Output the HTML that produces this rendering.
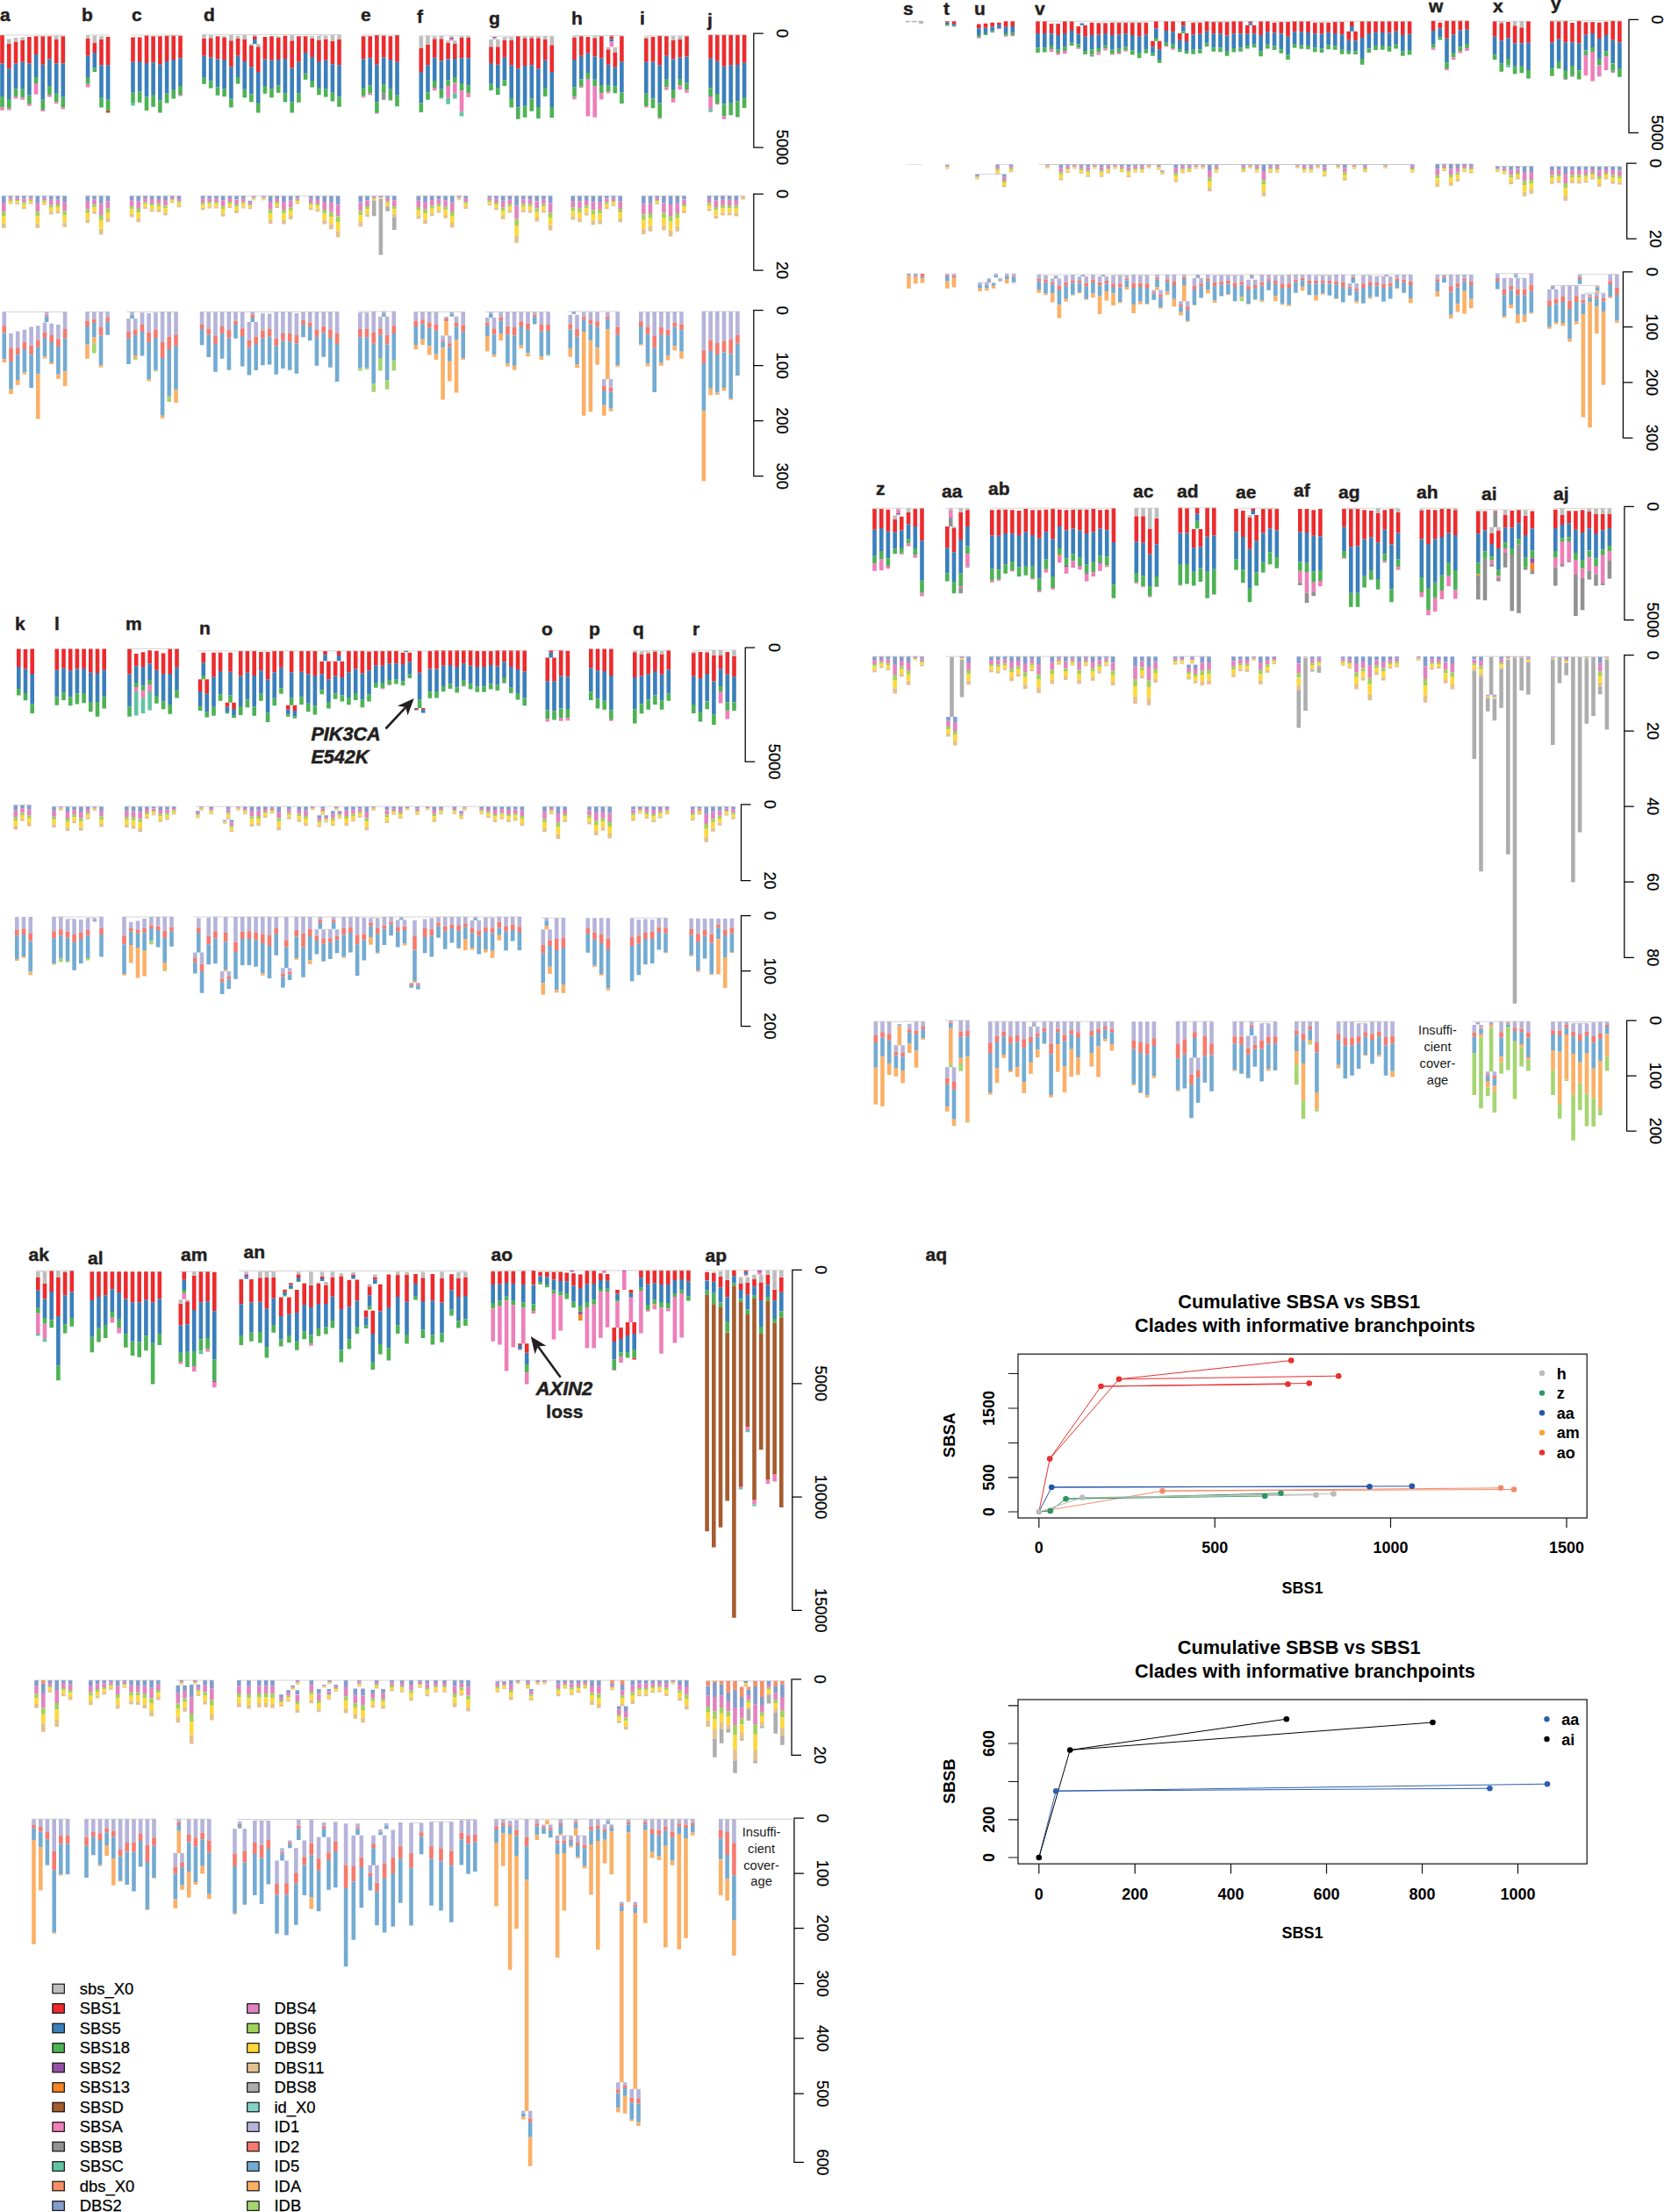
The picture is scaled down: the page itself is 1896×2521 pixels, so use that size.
<!DOCTYPE html>
<html><head><meta charset="utf-8"><title>figure</title>
<style>
html,body{margin:0;padding:0;background:#fff;}
svg{display:block;font-family:"Liberation Sans",sans-serif;}
</style></head><body>
<svg width="1896" height="2521" viewBox="0 0 1896 2521" shape-rendering="auto">
<rect x="0" y="0" width="1896" height="2521" fill="#fff"/>
<path fill="#EC2B2E" d="M0.2 40h4.6v32.5h-4.6zM8 50h4.6v28.2h-4.6zM15.7 47.5h4.6v25h-4.6zM23.4 45.8h4.6v25h-4.6zM31.1 42h4.6v30.5h-4.6zM38.8 41.2h4.6v20.8h-4.6zM46.5 41.2h4.6v32.5h-4.6zM54.1 41.2h4.6v26.2h-4.6zM61.9 45h4.6v27.5h-4.6zM69.5 41.2h4.6v31.2h-4.6zM97.8 43.8h4.6v20h-4.6zM105.5 48.8h4.6v11.2h-4.6zM113.2 45h4.6v29.2h-4.6zM120.8 42h4.6v32.2h-4.6zM149.2 42.5h4.6v28.2h-4.6zM156.9 42.5h4.6v27.5h-4.6zM164.7 40.5h4.6v31.5h-4.6zM172.3 41.2h4.6v30h-4.6zM180.1 41.2h4.6v32.5h-4.6zM187.8 40.8h4.6v29.2h-4.6zM195.4 40.5h4.6v27.5h-4.6zM203.2 40.8h4.6v25.5h-4.6zM230.2 43.8h4.6v20h-4.6zM237.9 43.2h4.6v22.2h-4.6zM245.7 41.2h4.6v26.2h-4.6zM253.3 42.5h4.6v25.5h-4.6zM261.1 46.2h4.6v30h-4.6zM268.8 43.8h4.6v20h-4.6zM276.4 45h4.6v25h-4.6zM284.1 52h4.6v24.2h-4.6zM288 41.2h4.6v3.8h-4.6zM291.9 53.2h4.6v28.8h-4.6zM299.6 42h4.6v25.5h-4.6zM307.2 41.2h4.6v27.5h-4.6zM314.9 43h4.6v25h-4.6zM322.6 40.8h4.6v26.2h-4.6zM330.4 46.2h4.6v31.2h-4.6zM338.1 41.2h4.6v29.5h-4.6zM345.8 41.2h4.6v18.8h-4.6zM353.4 43.8h4.6v21.2h-4.6zM361.1 45.5h4.6v24.5h-4.6zM368.9 44.5h4.6v24.2h-4.6zM376.6 47h4.6v26.2h-4.6zM384.2 45h4.6v29.2h-4.6zM411.8 41.2h4.6v26.2h-4.6zM419.4 41.2h4.6v25h-4.6zM427.1 40h4.6v33.8h-4.6zM434.9 40.5h4.6v25h-4.6zM442.6 41.2h4.6v26.8h-4.6zM450.2 40h4.6v30.8h-4.6zM477.5 55h4.6v27h-4.6zM485.2 50.8h4.6v23.5h-4.6zM492.9 44.2h4.6v21.5h-4.6zM500.6 44.2h4.6v25h-4.6zM508.3 48.8h4.6v18.8h-4.6zM516 50h4.6v17h-4.6zM523.7 43h4.6v23.2h-4.6zM531.4 43h4.6v23.2h-4.6zM557.2 53.2h4.6v18.8h-4.6zM565 53.2h4.6v20.5h-4.6zM572.6 45.8h4.6v20h-4.6zM580.4 45.5h4.6v28.8h-4.6zM588 41.2h4.6v37h-4.6zM595.8 43.2h4.6v31.8h-4.6zM603.5 43.2h4.6v31h-4.6zM611.1 43.2h4.6v35h-4.6zM618.9 45h4.6v23.8h-4.6zM626.5 51.2h4.6v30.8h-4.6zM652.2 43h4.6v25h-4.6zM660 41.2h4.6v22.5h-4.6zM667.6 42h4.6v18.8h-4.6zM675.4 43.2h4.6v21.2h-4.6zM683 41.2h4.6v25h-4.6zM690.8 56.2h4.6v17.5h-4.6zM694.5 41.2h4.6v3.2h-4.6zM698.5 59.5h4.6v17.2h-4.6zM706.1 41.2h4.6v29.2h-4.6zM734 43.8h4.6v27h-4.6zM741.7 42h4.6v28.5h-4.6zM749.4 40.8h4.6v33.5h-4.6zM757.1 41.2h4.6v22.5h-4.6zM764.8 45.8h4.6v21.8h-4.6zM772.5 45h4.6v20.5h-4.6zM780.2 41.2h4.6v23.2h-4.6zM807.3 39.8h4.6v26.9h-4.6zM815 39.8h4.6v30h-4.6zM822.7 39.8h4.6v36h-4.6zM830.4 39.8h4.6v34.5h-4.6zM838.1 39.8h4.6v34.1h-4.6zM845.8 39.8h4.6v31.9h-4.6zM19 739.5h4.6v20.5h-4.6zM26.7 740h4.6v22.5h-4.6zM34.4 739.5h4.6v28.5h-4.6zM62.5 739.5h4.6v24.2h-4.6zM70.2 739.5h4.6v22.2h-4.6zM77.9 739.5h4.6v24.8h-4.6zM85.6 739.5h4.6v23h-4.6zM93.3 739.5h4.6v22.5h-4.6zM101 739.5h4.6v27.2h-4.6zM108.7 739.5h4.6v27.5h-4.6zM116.4 739.5h4.6v24.2h-4.6zM145.2 739.5h4.6v28.8h-4.6zM152.9 745h4.6v14.2h-4.6zM160.7 743.2h4.6v16.8h-4.6zM168.3 741.2h4.6v15h-4.6zM176.1 741.8h4.6v22h-4.6zM183.8 744.5h4.6v23.5h-4.6zM191.4 739.5h4.6v28.5h-4.6zM199.2 739.5h4.6v21.2h-4.6zM225.8 774.2h4.6v13.8h-4.6zM229.5 743.8h4.6v11.8h-4.6zM233.4 774.2h4.6v16.5h-4.6zM241.2 743.8h4.6v28h-4.6zM248.8 743.8h4.6v21.2h-4.6zM256.6 800.8h4.6v5h-4.6zM260.2 743.8h4.6v22h-4.6zM264.2 800.8h4.6v7.2h-4.6zM271.9 742h4.6v28.5h-4.6zM279.6 742h4.6v24.8h-4.6zM287.4 742h4.6v28h-4.6zM295.1 743h4.6v21.2h-4.6zM302.8 743h4.6v31.2h-4.6zM310.4 742h4.6v24.2h-4.6zM318.1 742h4.6v18.8h-4.6zM325.9 803.8h4.6v5h-4.6zM329.8 742h4.6v24.2h-4.6zM333.6 803.8h4.6v6.2h-4.6zM341.2 742h4.6v23.8h-4.6zM348.9 742h4.6v26.2h-4.6zM356.6 742h4.6v28h-4.6zM364.4 753.8h4.6v14.5h-4.6zM368.2 742h4.6v4.2h-4.6zM372.1 753.8h4.6v20.5h-4.6zM379.8 753.8h4.6v16.8h-4.6zM383.8 742h4.6v5h-4.6zM387.5 753.8h4.6v18.2h-4.6zM395.1 742h4.6v24.2h-4.6zM402.9 742h4.6v20.5h-4.6zM410.6 742h4.6v25.5h-4.6zM418.2 742.5h4.6v21.8h-4.6zM426 742h4.6v16.2h-4.6zM433.6 742h4.6v16.8h-4.6zM441.4 742h4.6v14.2h-4.6zM449.1 742h4.6v14.2h-4.6zM456.8 743.8h4.6v13.2h-4.6zM464.5 743.8h4.6v10.5h-4.6zM472.1 807h4.6v1h-4.6zM475.8 742h4.6v24.8h-4.6zM479.9 807h4.6v1.8h-4.6zM487.6 742h4.6v20.5h-4.6zM495.2 741.2h4.6v21.2h-4.6zM502.9 741.2h4.6v17.5h-4.6zM510.7 741.2h4.6v16.8h-4.6zM518.4 741.2h4.6v18.8h-4.6zM526 741.2h4.6v15h-4.6zM533.8 741.2h4.6v17.5h-4.6zM541.5 742h4.6v18h-4.6zM549.2 742h4.6v18h-4.6zM556.9 742h4.6v16h-4.6zM564.5 741.2h4.6v18.2h-4.6zM572.2 741.2h4.6v13.2h-4.6zM580 741.2h4.6v18.8h-4.6zM587.7 741.2h4.6v21.8h-4.6zM595.4 741.2h4.6v24.2h-4.6zM621.5 749.5h4.6v26.8h-4.6zM625.5 741.2h4.6v2.5h-4.6zM629.2 749.5h4.6v27.2h-4.6zM636.9 741.2h4.6v29.2h-4.6zM644.6 742h4.6v29.2h-4.6zM671 739.5h4.6v21.8h-4.6zM678.7 739.5h4.6v24.8h-4.6zM686.4 739.5h4.6v25.5h-4.6zM694.1 739.5h4.6v30.5h-4.6zM721 743.2h4.6v28.8h-4.6zM728.7 745.5h4.6v25h-4.6zM736.4 744.5h4.6v23.8h-4.6zM744.1 742.5h4.6v22.5h-4.6zM751.8 745.5h4.6v23.2h-4.6zM759.5 741.2h4.6v22h-4.6zM788 744.2h4.6v26.5h-4.6zM795.7 742.9h4.6v30h-4.6zM803.4 743.5h4.6v24.6h-4.6zM811.1 746.7h4.6v29.7h-4.6zM818.8 746.9h4.6v15.5h-4.6zM826.5 742.9h4.6v25.9h-4.6zM834.2 747.7h4.6v23.6h-4.6zM1077 24.2h4.6v1.5h-4.6zM1084.7 24.2h4.6v2.8h-4.6zM1113 27.5h4.6v5h-4.6zM1120.7 26.8h4.6v5h-4.6zM1128.4 25.8h4.6v4.8h-4.6zM1136.1 25.8h4.6v2.2h-4.6zM1143.8 24.2h4.6v6.5h-4.6zM1151.5 24.2h4.6v5.8h-4.6zM1180.2 24.2h4.6v13.8h-4.6zM1188 24.2h4.6v13.8h-4.6zM1195.7 27h4.6v11.2h-4.6zM1203.3 27h4.6v13h-4.6zM1211 24.2h4.6v13.8h-4.6zM1218.8 24.2h4.6v10.8h-4.6zM1226.5 30h4.6v8.8h-4.6zM1234.2 28.8h4.6v13h-4.6zM1241.8 25.8h4.6v14.2h-4.6zM1249.5 26.2h4.6v13.2h-4.6zM1257.2 26.2h4.6v11.8h-4.6zM1265 25.8h4.6v14.2h-4.6zM1272.7 25.8h4.6v13.8h-4.6zM1280.3 25.8h4.6v12.5h-4.6zM1288 25.8h4.6v14.2h-4.6zM1295.8 25.8h4.6v16h-4.6zM1303.5 25.8h4.6v13.8h-4.6zM1311.2 46.8h4.6v6.5h-4.6zM1315 24.2h4.6v8.2h-4.6zM1318.8 46.8h4.6v9.5h-4.6zM1326.5 24.2h4.6v10.8h-4.6zM1334.2 24.2h4.6v12h-4.6zM1342 38h4.6v7.8h-4.6zM1346 24.2h4.6v5.2h-4.6zM1349.7 38h4.6v9h-4.6zM1357.3 25.8h4.6v13.8h-4.6zM1365 25.8h4.6v13h-4.6zM1372.8 24.2h4.6v11.5h-4.6zM1380.5 25h4.6v13.2h-4.6zM1388.2 25h4.6v13.2h-4.6zM1395.8 25h4.6v15.5h-4.6zM1403.5 24.2h4.6v14h-4.6zM1411.2 24.2h4.6v14h-4.6zM1419 28.8h4.6v10h-4.6zM1422.5 24.2h4.6v2h-4.6zM1426.7 28.8h4.6v9.5h-4.6zM1434.3 24.2h4.6v15.8h-4.6zM1442 24.2h4.6v12h-4.6zM1449.8 25.8h4.6v11.8h-4.6zM1457.5 25h4.6v13.2h-4.6zM1465.2 25h4.6v16.8h-4.6zM1472.8 24.2h4.6v12h-4.6zM1480.5 24.2h4.6v12h-4.6zM1488.2 24.2h4.6v12.8h-4.6zM1496 25.8h4.6v12.5h-4.6zM1503.7 25.8h4.6v13h-4.6zM1511.3 25.8h4.6v11h-4.6zM1519 25h4.6v13h-4.6zM1526.8 25h4.6v14.5h-4.6zM1534.5 35.8h4.6v10h-4.6zM1538 24.2h4.6v5.8h-4.6zM1542.2 35.8h4.6v10.5h-4.6zM1549.8 24.2h4.6v18.8h-4.6zM1557.5 24.2h4.6v13.8h-4.6zM1565.2 24.2h4.6v12.5h-4.6zM1573 24.2h4.6v12.8h-4.6zM1580.7 24.2h4.6v13.2h-4.6zM1588.3 24.2h4.6v11.5h-4.6zM1596 24.2h4.6v15.8h-4.6zM1603.8 24.2h4.6v14.5h-4.6zM1630.8 23.8h4.6v11.2h-4.6zM1638.5 25.8h4.6v6.8h-4.6zM1646.2 23.8h4.6v20h-4.6zM1653.8 23.8h4.6v15.8h-4.6zM1661.5 23.8h4.6v10.8h-4.6zM1669.2 23.8h4.6v10h-4.6zM1700.8 24.2h4.6v17.5h-4.6zM1708.5 26.2h4.6v20h-4.6zM1716.2 25h4.6v18.2h-4.6zM1723.8 29.2h4.6v20h-4.6zM1731.5 31.2h4.6v18h-4.6zM1739.2 24.2h4.6v24.5h-4.6zM1766.1 24.2h4.6v24.1h-4.6zM1773.8 24.6h4.6v20.2h-4.6zM1781.5 23.9h4.6v24.7h-4.6zM1789.2 26.1h4.6v22.2h-4.6zM1796.9 23.9h4.6v25.3h-4.6zM1804.6 25.3h4.6v14.5h-4.6zM1812.3 25.1h4.6v12.8h-4.6zM1820 25.8h4.6v18.3h-4.6zM1827.7 24.8h4.6v15.3h-4.6zM1835.4 23.9h4.6v21.8h-4.6zM1843.1 24.2h4.6v24.1h-4.6zM994.2 580h4.6v23.8h-4.6zM1002 580h4.6v22h-4.6zM1009.6 580.8h4.6v25h-4.6zM1017.4 592h4.6v14.8h-4.6zM1025 588.8h4.6v15.8h-4.6zM1032.8 583.8h4.6v13.8h-4.6zM1040.5 580h4.6v20h-4.6zM1048.2 579.2h4.6v37h-4.6zM1077 600h4.6v24.2h-4.6zM1084.7 602h4.6v27.2h-4.6zM1092.4 583.8h4.6v31.2h-4.6zM1100.1 581.2h4.6v18.8h-4.6zM1128 581.2h4.6v29.2h-4.6zM1135.7 580.8h4.6v30h-4.6zM1143.4 580.8h4.6v27.2h-4.6zM1151.1 581.2h4.6v27h-4.6zM1158.8 582h4.6v28h-4.6zM1166.5 580h4.6v26.2h-4.6zM1174.2 581.2h4.6v28.8h-4.6zM1181.9 581.2h4.6v32.5h-4.6zM1189.6 580.8h4.6v25.5h-4.6zM1197.3 580h4.6v34.2h-4.6zM1205 580.8h4.6v19.2h-4.6zM1212.7 581.2h4.6v23.2h-4.6zM1220.4 580.8h4.6v21.8h-4.6zM1228.1 580.8h4.6v23.8h-4.6zM1235.8 580.8h4.6v27.2h-4.6zM1243.5 580h4.6v26.2h-4.6zM1251.2 581.2h4.6v21.2h-4.6zM1258.9 580.8h4.6v23.5h-4.6zM1266.6 579.2h4.6v38.8h-4.6zM1292.5 588.2h4.6v29.2h-4.6zM1300.2 588.2h4.6v30.5h-4.6zM1307.9 602.5h4.6v29.2h-4.6zM1315.6 590.8h4.6v29.8h-4.6zM1342.5 578.8h4.6v28.8h-4.6zM1350.2 579.2h4.6v28.2h-4.6zM1357.9 603h4.6v21.2h-4.6zM1361.8 578.8h4.6v6.8h-4.6zM1365.6 603h4.6v20.2h-4.6zM1373.3 578.8h4.6v33h-4.6zM1381 578.8h4.6v31.8h-4.6zM1406.2 580h4.6v26.2h-4.6zM1414 582h4.6v30h-4.6zM1421.7 589.5h4.6v36.2h-4.6zM1425.5 579.2h4.6v2.8h-4.6zM1429.3 587h4.6v29.2h-4.6zM1437 580h4.6v27.5h-4.6zM1444.8 580h4.6v22.5h-4.6zM1452.5 580h4.6v24.5h-4.6zM1479 580h4.6v26.2h-4.6zM1486.7 580h4.6v27h-4.6zM1494.4 581.2h4.6v29.5h-4.6zM1502.1 580h4.6v31.2h-4.6zM1529.2 580h4.6v20.8h-4.6zM1537 580h4.6v43.2h-4.6zM1544.7 580h4.6v42.5h-4.6zM1552.3 581.2h4.6v33.2h-4.6zM1560 582h4.6v30.5h-4.6zM1567.8 585h4.6v33.2h-4.6zM1575.5 581.2h4.6v22.5h-4.6zM1583.2 580h4.6v40.5h-4.6zM1590.8 583.8h4.6v23.8h-4.6zM1617.5 582h4.6v32.5h-4.6zM1625.2 580.8h4.6v39.2h-4.6zM1632.9 581.2h4.6v33h-4.6zM1640.6 580h4.6v32h-4.6zM1648.3 580h4.6v27.5h-4.6zM1656 581.2h4.6v28.8h-4.6zM1682 582.5h4.6v25.8h-4.6zM1689.7 582.5h4.6v21.8h-4.6zM1697.4 607.5h4.6v12.5h-4.6zM1701.5 583h4.6v1.2h-4.6zM1705.1 604.5h4.6v20.5h-4.6zM1712.8 587h4.6v14.2h-4.6zM1720.5 582h4.6v19.2h-4.6zM1728.2 581.2h4.6v15h-4.6zM1735.9 588h4.6v22h-4.6zM1743.6 582.5h4.6v20h-4.6zM1770 580.8h4.6v21.1h-4.6zM1777.7 586.9h4.6v11.2h-4.6zM1785.4 582.2h4.6v14.1h-4.6zM1793.1 582.2h4.6v21.6h-4.6zM1800.8 581.2h4.6v25.8h-4.6zM1808.5 583.1h4.6v19.2h-4.6zM1816.2 585.9h4.6v22h-4.6zM1823.9 585.9h4.6v18.3h-4.6zM1831.6 585.5h4.6v16.4h-4.6zM41 1455.5h4.6v15.2h-4.6zM48.7 1463h4.6v17.5h-4.6zM56.4 1448.2h4.6v23.8h-4.6zM64.1 1455.5h4.6v44.5h-4.6zM71.8 1450h4.6v26.2h-4.6zM79.5 1448.2h4.6v24.2h-4.6zM102.5 1449.2h4.6v32.8h-4.6zM110.2 1449.2h4.6v28.8h-4.6zM117.9 1449.2h4.6v27h-4.6zM125.6 1449.2h4.6v20h-4.6zM133.3 1449.2h4.6v23.8h-4.6zM141 1449.2h4.6v31.2h-4.6zM148.7 1449.2h4.6v35h-4.6zM156.4 1449.2h4.6v35h-4.6zM164.1 1449.2h4.6v32h-4.6zM171.8 1449.2h4.6v35h-4.6zM179.5 1449.2h4.6v31.2h-4.6zM203.5 1485.8h4.6v24.8h-4.6zM207.5 1449.2h4.6v9.5h-4.6zM211.2 1483.2h4.6v26h-4.6zM218.9 1453.8h4.6v39.2h-4.6zM226.6 1449.2h4.6v35h-4.6zM234.3 1449.2h4.6v34h-4.6zM242 1450h4.6v44.2h-4.6zM272.5 1457.9h4.6v28.4h-4.6zM284.1 1457.9h4.6v26.5h-4.6zM294.1 1456.2h4.6v27.5h-4.6zM301.6 1456h4.6v35.2h-4.6zM309.4 1456h4.6v23.8h-4.6zM317.9 1478.5h4.6v21.5h-4.6zM322.2 1469.8h4.6v3h-4.6zM327.1 1478.5h4.6v19.2h-4.6zM329.1 1462.2h4.6v2.1h-4.6zM336 1470h4.6v26h-4.6zM337.8 1452.5h4.6v3.5h-4.6zM344.4 1462.5h4.6v24.4h-4.6zM352.1 1464.8h4.6v25.2h-4.6zM360.6 1463.1h4.6v22.9h-4.6zM364.8 1455h4.6v1.9h-4.6zM369.1 1464.4h4.6v21.6h-4.6zM376.6 1455.6h4.6v22.2h-4.6zM386.5 1454.4h4.6v37.5h-4.6zM395.6 1458.8h4.6v30.6h-4.6zM400.2 1452.5h4.6v1.5h-4.6zM404.6 1458.5h4.6v24h-4.6zM414.8 1493.4h4.6v7.9h-4.6zM418.8 1466.2h4.6v10h-4.6zM422.5 1493.8h4.6v26.2h-4.6zM425 1455.6h4.6v2.9h-4.6zM431 1463.8h4.6v30.6h-4.6zM440.6 1452.5h4.6v37.5h-4.6zM450.9 1453.1h4.6v25h-4.6zM461.2 1452.8h4.6v31h-4.6zM471.2 1451.9h4.6v11.2h-4.6zM479.6 1456.2h4.6v26.9h-4.6zM490.6 1451.9h4.6v30.6h-4.6zM501.2 1456.5h4.6v27.9h-4.6zM512.2 1452.2h4.6v18h-4.6zM520.1 1456.9h4.6v21.2h-4.6zM528.1 1455.4h4.6v21.5h-4.6zM559.4 1449h4.6v15.1h-4.6zM567.1 1449h4.6v14.8h-4.6zM574.8 1448.8h4.6v13.1h-4.6zM582.5 1448.8h4.6v14.4h-4.6zM590.2 1531.2h4.6v1.9h-4.6zM594 1448.5h4.6v15.5h-4.6zM597.9 1531.2h4.6v10.6h-4.6zM605.6 1448.1h4.6v16.2h-4.6zM613.3 1449.4h4.6v5h-4.6zM621 1449.4h4.6v6.2h-4.6zM628.7 1449.4h4.6v9.1h-4.6zM636.4 1449.4h4.6v10.6h-4.6zM643.5 1450.6h4.6v10h-4.6zM651.2 1451.2h4.6v14.4h-4.6zM659 1452.5h4.6v15.6h-4.6zM666.6 1448.1h4.6v15.6h-4.6zM674.4 1448.1h4.6v14.8h-4.6zM682.1 1451.2h4.6v7.9h-4.6zM689.8 1451.9h4.6v7.9h-4.6zM701.2 1470h4.6v4.4h-4.6zM716.6 1470h4.6v3.8h-4.6zM697.5 1513.1h4.6v15.9h-4.6zM705.2 1513.1h4.6v12.9h-4.6zM712.8 1507.1h4.6v14.8h-4.6zM720.4 1507.1h4.6v12.9h-4.6zM720.4 1547.5h4.6v1.9h-4.6zM728.1 1447.8h4.6v8.5h-4.6zM735.9 1447.8h4.6v16h-4.6zM743.5 1447.8h4.6v14.5h-4.6zM751.2 1447.8h4.6v16.2h-4.6zM759 1448.1h4.6v15.9h-4.6zM766.6 1447.8h4.6v11.4h-4.6zM774.4 1447.8h4.6v10.1h-4.6zM782.1 1447.8h4.6v12.5h-4.6zM803.3 1449.8h4.6v9.5h-4.6zM811 1450.8h4.6v9.9h-4.6zM818.7 1454.8h4.6v12.5h-4.6zM826.4 1458.8h4.6v19.5h-4.6zM834.1 1447.8h4.6v6.4h-4.6zM841.8 1462.4h4.6v7.8h-4.6zM847.7 1447.8h4.6v2h-4.6zM849.5 1461.8h4.6v13.9h-4.6zM857.2 1457.4h4.6v8.8h-4.6zM864.9 1461.4h4.6v20.7h-4.6zM872.6 1452.8h4.6v11.3h-4.6zM880.3 1469.7h4.6v12.5h-4.6zM888 1455.8h4.6v16.9h-4.6z"/>
<path fill="#3A7FBB" d="M0.2 72.5h4.6v37.5h-4.6zM8 78.2h4.6v34.8h-4.6zM15.7 72.5h4.6v28.8h-4.6zM23.4 70.8h4.6v31h-4.6zM31.1 72.5h4.6v36.2h-4.6zM38.8 62h4.6v26h-4.6zM46.5 73.8h4.6v40h-4.6zM54.1 67.5h4.6v31.2h-4.6zM61.9 72.5h4.6v34.2h-4.6zM69.5 72.5h4.6v38.2h-4.6zM97.8 63.8h4.6v24.2h-4.6zM105.5 60h4.6v17.5h-4.6zM113.2 74.2h4.6v37.5h-4.6zM120.8 74.2h4.6v39.5h-4.6zM149.2 70.8h4.6v35h-4.6zM156.9 70h4.6v34.5h-4.6zM164.7 72h4.6v38.5h-4.6zM172.3 71.2h4.6v36.8h-4.6zM180.1 73.8h4.6v40.5h-4.6zM187.8 70h4.6v36.8h-4.6zM195.4 68h4.6v34h-4.6zM203.2 66.2h4.6v31.8h-4.6zM230.2 63.8h4.6v25h-4.6zM237.9 65.5h4.6v27h-4.6zM245.7 67.5h4.6v31.8h-4.6zM253.3 68h4.6v33.2h-4.6zM261.1 76.2h4.6v36.2h-4.6zM268.8 63.8h4.6v24.2h-4.6zM276.4 70h4.6v31.8h-4.6zM284.1 76.2h4.6v31.2h-4.6zM288 45h4.6v5h-4.6zM291.9 82h4.6v35h-4.6zM299.6 67.5h4.6v30.5h-4.6zM307.2 68.8h4.6v32.5h-4.6zM314.9 68h4.6v29.5h-4.6zM322.6 67h4.6v39.2h-4.6zM330.4 77.5h4.6v38.8h-4.6zM338.1 70.8h4.6v35.5h-4.6zM345.8 60h4.6v23.8h-4.6zM353.4 65h4.6v27h-4.6zM361.1 70h4.6v30h-4.6zM368.9 68.8h4.6v32.5h-4.6zM376.6 73.2h4.6v32.5h-4.6zM384.2 74.2h4.6v36.2h-4.6zM411.8 67.5h4.6v32.5h-4.6zM419.4 66.2h4.6v31.2h-4.6zM427.1 73.8h4.6v42.5h-4.6zM434.9 65.5h4.6v30.8h-4.6zM442.6 68h4.6v33.8h-4.6zM450.2 70.8h4.6v38h-4.6zM477.5 82h4.6v35.5h-4.6zM485.2 74.2h4.6v31.2h-4.6zM492.9 65.8h4.6v26.2h-4.6zM500.6 69.2h4.6v32.5h-4.6zM508.3 67.5h4.6v23.8h-4.6zM516 67h4.6v21h-4.6zM523.7 66.2h4.6v28.8h-4.6zM531.4 66.2h4.6v31.2h-4.6zM557.2 72h4.6v23.8h-4.6zM565 73.8h4.6v26.2h-4.6zM572.6 65.8h4.6v25.5h-4.6zM580.4 74.2h4.6v37.8h-4.6zM588 78.2h4.6v44.2h-4.6zM595.8 75h4.6v45.8h-4.6zM603.5 74.2h4.6v38.2h-4.6zM611.1 78.2h4.6v43.8h-4.6zM618.9 68.8h4.6v31.2h-4.6zM626.5 82h4.6v40h-4.6zM652.2 68h4.6v31.2h-4.6zM660 63.8h4.6v26.8h-4.6zM667.6 60.8h4.6v22.2h-4.6zM675.4 64.5h4.6v26.2h-4.6zM683 66.2h4.6v30.8h-4.6zM690.8 73.8h4.6v23.8h-4.6zM694.5 44.5h4.6v3h-4.6zM698.5 76.8h4.6v21.5h-4.6zM706.1 70.5h4.6v35h-4.6zM734 70.8h4.6v36h-4.6zM741.7 70.5h4.6v42h-4.6zM749.4 74.2h4.6v43.2h-4.6zM757.1 63.8h4.6v27h-4.6zM764.8 67.5h4.6v34.5h-4.6zM772.5 65.5h4.6v24.5h-4.6zM780.2 64.5h4.6v30h-4.6zM807.3 66.6h4.6v33.7h-4.6zM815 69.8h4.6v37.2h-4.6zM822.7 75.7h4.6v42.9h-4.6zM830.4 74.2h4.6v42.9h-4.6zM838.1 73.8h4.6v41.6h-4.6zM845.8 71.7h4.6v39.4h-4.6zM19 760h4.6v25h-4.6zM26.7 762.5h4.6v27.5h-4.6zM34.4 768h4.6v34.5h-4.6zM62.5 763.8h4.6v30.5h-4.6zM70.2 761.8h4.6v27.5h-4.6zM77.9 764.2h4.6v30h-4.6zM85.6 762.5h4.6v28h-4.6zM93.3 762h4.6v28h-4.6zM101 766.8h4.6v33.2h-4.6zM108.7 767h4.6v33h-4.6zM116.4 763.8h4.6v30h-4.6zM145.2 768.2h4.6v37.2h-4.6zM152.9 759.2h4.6v18.8h-4.6zM160.7 760h4.6v21.2h-4.6zM168.3 756.2h4.6v18.8h-4.6zM176.1 763.8h4.6v29.2h-4.6zM183.8 768h4.6v31.5h-4.6zM191.4 768h4.6v35h-4.6zM199.2 760.8h4.6v26h-4.6zM225.8 788h4.6v17h-4.6zM229.5 755.5h4.6v14.5h-4.6zM233.4 790.8h4.6v21h-4.6zM241.2 771.8h4.6v34h-4.6zM248.8 765h4.6v26.2h-4.6zM256.6 805.8h4.6v6h-4.6zM260.2 765.8h4.6v26.8h-4.6zM264.2 808h4.6v7h-4.6zM271.9 770.5h4.6v34.5h-4.6zM279.6 766.8h4.6v30.8h-4.6zM287.4 770h4.6v35.5h-4.6zM295.1 764.2h4.6v26.5h-4.6zM302.8 774.2h4.6v38.2h-4.6zM310.4 766.2h4.6v29.5h-4.6zM318.1 760.8h4.6v23.5h-4.6zM325.9 808.8h4.6v5.5h-4.6zM329.8 766.2h4.6v29.5h-4.6zM333.6 810h4.6v6.2h-4.6zM341.2 765.8h4.6v28.5h-4.6zM348.9 768.2h4.6v33.5h-4.6zM356.6 770h4.6v34.5h-4.6zM364.4 768.2h4.6v18h-4.6zM368.2 746.2h4.6v7h-4.6zM372.1 774.2h4.6v25.8h-4.6zM379.8 770.5h4.6v20h-4.6zM383.8 747h4.6v6.2h-4.6zM387.5 772h4.6v20.5h-4.6zM395.1 766.2h4.6v28.8h-4.6zM402.9 762.5h4.6v27.5h-4.6zM410.6 767.5h4.6v30h-4.6zM418.2 764.2h4.6v27h-4.6zM426 758.2h4.6v19.8h-4.6zM433.6 758.8h4.6v19.2h-4.6zM441.4 756.2h4.6v18.8h-4.6zM449.1 756.2h4.6v18h-4.6zM456.8 757h4.6v19.2h-4.6zM460.5 742h4.6v1.2h-4.6zM464.5 754.2h4.6v14.5h-4.6zM472.1 808h4.6v1.5h-4.6zM475.8 766.8h4.6v30.8h-4.6zM479.9 808.8h4.6v3.8h-4.6zM487.6 762.5h4.6v25.8h-4.6zM495.2 762.5h4.6v25.5h-4.6zM502.9 758.8h4.6v23.2h-4.6zM510.7 758h4.6v21.5h-4.6zM518.4 760h4.6v23.2h-4.6zM526 756.2h4.6v19.5h-4.6zM533.8 758.8h4.6v20.5h-4.6zM541.5 760h4.6v22.5h-4.6zM549.2 760h4.6v22.5h-4.6zM556.9 758h4.6v21.5h-4.6zM564.5 759.5h4.6v21.2h-4.6zM572.2 754.5h4.6v17.5h-4.6zM580 760h4.6v23.8h-4.6zM587.7 763h4.6v27h-4.6zM595.4 765.5h4.6v30h-4.6zM621.5 776.2h4.6v33.2h-4.6zM625.5 743.8h4.6v5.8h-4.6zM629.2 776.8h4.6v33.8h-4.6zM636.9 770.5h4.6v37h-4.6zM644.6 771.2h4.6v36.8h-4.6zM671 761.2h4.6v27h-4.6zM678.7 764.2h4.6v32h-4.6zM686.4 765h4.6v33.8h-4.6zM694.1 770h4.6v39.2h-4.6zM721 772h4.6v36.2h-4.6zM728.7 770.5h4.6v32h-4.6zM736.4 768.2h4.6v29.2h-4.6zM744.1 765h4.6v27.5h-4.6zM751.8 768.8h4.6v29.5h-4.6zM759.5 763.2h4.6v27.2h-4.6zM788 770.7h4.6v32.2h-4.6zM795.7 772.9h4.6v38.1h-4.6zM803.4 768.1h4.6v31.5h-4.6zM811.1 776.4h4.6v37.9h-4.6zM818.8 762.5h4.6v19.6h-4.6zM826.5 768.8h4.6v31.5h-4.6zM834.2 771.3h4.6v29h-4.6zM1077 25.8h4.6v2.5h-4.6zM1084.7 27h4.6v2.2h-4.6zM1113 32.5h4.6v7.5h-4.6zM1120.7 31.8h4.6v6.2h-4.6zM1128.4 30.5h4.6v5h-4.6zM1136.1 28h4.6v4.5h-4.6zM1143.8 30.8h4.6v7.2h-4.6zM1151.5 30h4.6v7.5h-4.6zM1180.2 38h4.6v16.5h-4.6zM1188 38h4.6v16.2h-4.6zM1195.7 38.2h4.6v13.8h-4.6zM1203.3 40h4.6v16.2h-4.6zM1211 38h4.6v15.2h-4.6zM1218.8 35h4.6v13.8h-4.6zM1226.5 38.8h4.6v11.8h-4.6zM1230.5 27h4.6v1.8h-4.6zM1234.2 41.8h4.6v16.2h-4.6zM1241.8 40h4.6v16.2h-4.6zM1249.5 39.5h4.6v15.5h-4.6zM1257.2 38h4.6v13.8h-4.6zM1265 40h4.6v16.8h-4.6zM1272.7 39.5h4.6v16.2h-4.6zM1280.3 38.2h4.6v15h-4.6zM1288 40h4.6v17.5h-4.6zM1295.8 41.8h4.6v18.2h-4.6zM1303.5 39.5h4.6v16.8h-4.6zM1311.2 53.2h4.6v7.5h-4.6zM1315 32.5h4.6v10.5h-4.6zM1318.8 56.2h4.6v11.8h-4.6zM1326.5 35h4.6v13.8h-4.6zM1334.2 36.2h4.6v14.5h-4.6zM1342 45.8h4.6v10.5h-4.6zM1346 29.5h4.6v6.2h-4.6zM1349.7 47h4.6v11h-4.6zM1357.3 39.5h4.6v17.2h-4.6zM1365 38.8h4.6v17.5h-4.6zM1372.8 35.8h4.6v13.5h-4.6zM1380.5 38.2h4.6v16h-4.6zM1388.2 38.2h4.6v16.2h-4.6zM1395.8 40.5h4.6v17.5h-4.6zM1403.5 38.2h4.6v16.8h-4.6zM1411.2 38.2h4.6v16h-4.6zM1419 38.8h4.6v13.2h-4.6zM1422.5 26.2h4.6v2.5h-4.6zM1426.7 38.2h4.6v12.5h-4.6zM1434.3 40h4.6v18.2h-4.6zM1442 36.2h4.6v14.5h-4.6zM1449.8 37.5h4.6v15h-4.6zM1457.5 38.2h4.6v18h-4.6zM1465.2 41.8h4.6v20.8h-4.6zM1472.8 36.2h4.6v13.8h-4.6zM1480.5 36.2h4.6v15.5h-4.6zM1488.2 37h4.6v15h-4.6zM1496 38.2h4.6v16h-4.6zM1503.7 38.8h4.6v16.8h-4.6zM1511.3 36.8h4.6v14.5h-4.6zM1519 38h4.6v14.5h-4.6zM1526.8 39.5h4.6v17.2h-4.6zM1534.5 45.8h4.6v12.2h-4.6zM1538 30h4.6v5.8h-4.6zM1542.2 46.2h4.6v12h-4.6zM1549.8 43h4.6v24h-4.6zM1557.5 38h4.6v17.5h-4.6zM1565.2 36.8h4.6v15.2h-4.6zM1573 37h4.6v15h-4.6zM1580.7 37.5h4.6v15.8h-4.6zM1588.3 35.8h4.6v15h-4.6zM1596 40h4.6v18.2h-4.6zM1603.8 38.8h4.6v18.2h-4.6zM1630.8 35h4.6v15.8h-4.6zM1638.5 32.5h4.6v10h-4.6zM1646.2 43.8h4.6v27.5h-4.6zM1653.8 39.5h4.6v20.5h-4.6zM1661.5 34.5h4.6v18.8h-4.6zM1669.2 33.8h4.6v16.2h-4.6zM1700.8 41.8h4.6v20.8h-4.6zM1708.5 46.2h4.6v26.2h-4.6zM1716.2 43.2h4.6v23.8h-4.6zM1723.8 49.2h4.6v26.5h-4.6zM1731.5 49.2h4.6v25.8h-4.6zM1739.2 48.8h4.6v31.2h-4.6zM1766.1 48.3h4.6v28.8h-4.6zM1773.8 44.8h4.6v25.3h-4.6zM1781.5 48.6h4.6v31.3h-4.6zM1789.2 48.3h4.6v26.7h-4.6zM1796.9 49.2h4.6v30.9h-4.6zM1804.6 39.8h4.6v17.8h-4.6zM1812.3 38h4.6v15.9h-4.6zM1820 44.1h4.6v23.6h-4.6zM1827.7 40.1h4.6v18.5h-4.6zM1835.4 45.7h4.6v26.6h-4.6zM1843.1 48.3h4.6v29.7h-4.6zM994.2 603.8h4.6v30h-4.6zM1002 602h4.6v26.8h-4.6zM1009.6 605.8h4.6v30.5h-4.6zM1017.4 606.8h4.6v18.8h-4.6zM1025 604.5h4.6v20.5h-4.6zM1032.8 597.5h4.6v16.8h-4.6zM1040.5 600h4.6v25h-4.6zM1048.2 616.2h4.6v45.5h-4.6zM1077 624.2h4.6v29h-4.6zM1084.7 629.2h4.6v33.8h-4.6zM1092.4 615h4.6v38.8h-4.6zM1100.1 600h4.6v22.5h-4.6zM1128 610.5h4.6v37.8h-4.6zM1135.7 610.8h4.6v38.5h-4.6zM1143.4 608h4.6v35.2h-4.6zM1151.1 608.2h4.6v31.8h-4.6zM1158.8 610h4.6v36.2h-4.6zM1166.5 606.2h4.6v38.8h-4.6zM1174.2 610h4.6v35.8h-4.6zM1181.9 613.8h4.6v45.5h-4.6zM1189.6 606.2h4.6v31.2h-4.6zM1197.3 614.2h4.6v42.8h-4.6zM1205 600h4.6v25h-4.6zM1212.7 604.5h4.6v31.8h-4.6zM1220.4 602.5h4.6v28.8h-4.6zM1228.1 604.5h4.6v31.2h-4.6zM1235.8 608h4.6v35.2h-4.6zM1243.5 606.2h4.6v33.8h-4.6zM1251.2 602.5h4.6v30.8h-4.6zM1258.9 604.2h4.6v30h-4.6zM1266.6 618h4.6v48.2h-4.6zM1292.5 617.5h4.6v35.5h-4.6zM1300.2 618.8h4.6v37.5h-4.6zM1307.9 631.8h4.6v36.2h-4.6zM1315.6 620.5h4.6v36.5h-4.6zM1342.5 607.5h4.6v35.5h-4.6zM1350.2 607.5h4.6v35.5h-4.6zM1357.9 624.2h4.6v27.5h-4.6zM1361.8 585.5h4.6v8.2h-4.6zM1365.6 623.2h4.6v24.2h-4.6zM1373.3 611.8h4.6v40h-4.6zM1381 610.5h4.6v38.2h-4.6zM1406.2 606.2h4.6v31.2h-4.6zM1414 612h4.6v37.2h-4.6zM1421.7 625.8h4.6v44.2h-4.6zM1425.5 582h4.6v4.2h-4.6zM1429.3 616.2h4.6v36.2h-4.6zM1437 607.5h4.6v33.2h-4.6zM1444.8 602.5h4.6v26.8h-4.6zM1452.5 604.5h4.6v30.5h-4.6zM1479 606.2h4.6v34.2h-4.6zM1486.7 607h4.6v34.8h-4.6zM1494.4 610.8h4.6v40.5h-4.6zM1502.1 611.2h4.6v38.8h-4.6zM1529.2 600.8h4.6v27.2h-4.6zM1537 623.2h4.6v52.5h-4.6zM1544.7 622.5h4.6v53.2h-4.6zM1552.3 614.5h4.6v42.2h-4.6zM1560 612.5h4.6v37.5h-4.6zM1567.8 618.2h4.6v41.8h-4.6zM1575.5 603.8h4.6v27.5h-4.6zM1583.2 620.5h4.6v50.8h-4.6zM1590.8 607.5h4.6v30h-4.6zM1617.5 614.5h4.6v43.5h-4.6zM1625.2 620h4.6v50h-4.6zM1632.9 614.2h4.6v49.5h-4.6zM1640.6 612h4.6v43.8h-4.6zM1648.3 607.5h4.6v34.2h-4.6zM1656 610h4.6v40h-4.6zM1682 608.2h4.6v33h-4.6zM1689.7 604.2h4.6v24h-4.6zM1697.4 620h4.6v14.2h-4.6zM1705.1 625h4.6v24.2h-4.6zM1712.8 601.2h4.6v17h-4.6zM1720.5 601.2h4.6v23.8h-4.6zM1728.2 596.2h4.6v18.2h-4.6zM1735.9 610h4.6v25.8h-4.6zM1743.6 602.5h4.6v25h-4.6zM1770 601.9h4.6v26.1h-4.6zM1777.7 598.1h4.6v15.5h-4.6zM1785.4 596.2h4.6v15.9h-4.6zM1793.1 603.7h4.6v26.2h-4.6zM1800.8 607h4.6v30.9h-4.6zM1808.5 602.3h4.6v25.3h-4.6zM1816.2 608h4.6v28.6h-4.6zM1823.9 604.2h4.6v22h-4.6zM1831.6 601.9h4.6v20.2h-4.6zM41 1470.8h4.6v20h-4.6zM48.7 1480.5h4.6v21.5h-4.6zM56.4 1472h4.6v32.2h-4.6zM64.1 1500h4.6v56.2h-4.6zM71.8 1476.2h4.6v33h-4.6zM79.5 1472.5h4.6v29.5h-4.6zM102.5 1482h4.6v41.8h-4.6zM110.2 1478h4.6v35.8h-4.6zM117.9 1476.2h4.6v33.8h-4.6zM125.6 1469.2h4.6v25.8h-4.6zM133.3 1473h4.6v30.8h-4.6zM141 1480.5h4.6v39.5h-4.6zM148.7 1484.2h4.6v44.5h-4.6zM156.4 1484.2h4.6v45h-4.6zM164.1 1481.2h4.6v41.2h-4.6zM171.8 1484.2h4.6v46.5h-4.6zM179.5 1480.5h4.6v39.5h-4.6zM203.5 1510.5h4.6v31.2h-4.6zM207.5 1458.8h4.6v11.2h-4.6zM211.2 1509.2h4.6v31.5h-4.6zM218.9 1493h4.6v47h-4.6zM226.6 1484.2h4.6v42h-4.6zM234.3 1483.2h4.6v41.8h-4.6zM242 1494.2h4.6v55h-4.6zM272.5 1486.2h4.6v35.9h-4.6zM278.4 1455.6h4.6v1.9h-4.6zM284.1 1484.4h4.6v34.4h-4.6zM294.1 1483.8h4.6v34.4h-4.6zM301.6 1491.2h4.6v43.8h-4.6zM309.4 1479.8h4.6v30.2h-4.6zM317.9 1500h4.6v26.6h-4.6zM322.2 1472.8h4.6v3.5h-4.6zM327.1 1497.8h4.6v24.4h-4.6zM329.1 1464.4h4.6v3.8h-4.6zM336 1496h4.6v32.8h-4.6zM337.8 1456h4.6v4h-4.6zM344.4 1486.9h4.6v30.4h-4.6zM352.1 1490h4.6v31.6h-4.6zM360.6 1486h4.6v28h-4.6zM364.8 1456.9h4.6v3.1h-4.6zM369.1 1486h4.6v26.5h-4.6zM376.6 1477.9h4.6v27.1h-4.6zM386.5 1491.9h4.6v46.5h-4.6zM395.6 1489.4h4.6v36.9h-4.6zM400.2 1454h4.6v3.5h-4.6zM404.6 1482.5h4.6v29.4h-4.6zM414.8 1501.2h4.6v9.6h-4.6zM418.8 1476.2h4.6v12.5h-4.6zM422.5 1520h4.6v31.9h-4.6zM425 1458.5h4.6v4.6h-4.6zM431 1494.4h4.6v37.5h-4.6zM440.6 1490h4.6v46.2h-4.6zM450.9 1478.1h4.6v32.5h-4.6zM461.2 1483.8h4.6v37.2h-4.6zM471.2 1463.1h4.6v14.6h-4.6zM479.6 1483.1h4.6v32.5h-4.6zM490.6 1482.5h4.6v38.8h-4.6zM501.2 1484.4h4.6v35h-4.6zM512.2 1470.2h4.6v22.6h-4.6zM520.1 1478.1h4.6v27.1h-4.6zM528.1 1476.9h4.6v26.6h-4.6zM559.4 1464.1h4.6v20.9h-4.6zM567.1 1463.8h4.6v18.8h-4.6zM574.8 1461.9h4.6v15.9h-4.6zM582.5 1463.1h4.6v18.8h-4.6zM590.2 1533.1h4.6v3.8h-4.6zM594 1464h4.6v20.4h-4.6zM597.9 1541.9h4.6v13.8h-4.6zM605.6 1464.4h4.6v21.9h-4.6zM613.3 1454.4h4.6v6.9h-4.6zM621 1455.6h4.6v8.4h-4.6zM628.7 1458.5h4.6v11.8h-4.6zM636.4 1460h4.6v12.8h-4.6zM643.5 1460.6h4.6v13.5h-4.6zM651.2 1465.6h4.6v18.1h-4.6zM659 1468.1h4.6v20h-4.6zM666.6 1463.8h4.6v20.2h-4.6zM674.4 1462.9h4.6v18.4h-4.6zM682.1 1459.1h4.6v9.9h-4.6zM689.8 1459.8h4.6v9h-4.6zM701.2 1474.4h4.6v6.6h-4.6zM716.6 1473.8h4.6v5h-4.6zM697.5 1529h4.6v20.4h-4.6zM705.2 1526h4.6v15.2h-4.6zM712.8 1521.9h4.6v19.1h-4.6zM720.4 1520h4.6v17.9h-4.6zM728.1 1456.2h4.6v11.6h-4.6zM735.9 1463.8h4.6v23.1h-4.6zM743.5 1462.2h4.6v19.4h-4.6zM751.2 1464h4.6v20h-4.6zM759 1464h4.6v21h-4.6zM766.6 1459.1h4.6v14.9h-4.6zM774.4 1457.9h4.6v12.4h-4.6zM782.1 1460.2h4.6v17h-4.6zM803.3 1459.4h4.6v11.3h-4.6zM811 1460.8h4.6v12.9h-4.6zM818.7 1467.3h4.6v17.3h-4.6zM826.4 1478.3h4.6v27.7h-4.6zM834.1 1454.2h4.6v8.2h-4.6zM841.8 1470.1h4.6v10.5h-4.6zM847.7 1449.8h4.6v3h-4.6zM849.5 1475.7h4.6v16.9h-4.6zM857.2 1466.2h4.6v10.5h-4.6zM864.9 1482.1h4.6v29.8h-4.6zM872.6 1464.2h4.6v13.9h-4.6zM880.3 1482.3h4.6v20.7h-4.6zM888 1472.7h4.6v21.9h-4.6z"/>
<path fill="#4DB255" d="M0.2 110h4.6v12.5h-4.6zM8 113h4.6v10.8h-4.6zM15.7 101.2h4.6v8.8h-4.6zM23.4 101.8h4.6v9.5h-4.6zM31.1 108.8h4.6v10h-4.6zM38.8 88h4.6v7h-4.6zM46.5 113.8h4.6v11.2h-4.6zM54.1 98.8h4.6v9.2h-4.6zM61.9 106.8h4.6v9.5h-4.6zM69.5 110.8h4.6v11.8h-4.6zM97.8 88h4.6v7.8h-4.6zM105.5 77.5h4.6v4.5h-4.6zM113.2 111.8h4.6v10.8h-4.6zM120.8 113.8h4.6v12h-4.6zM149.2 105.8h4.6v11.2h-4.6zM156.9 104.5h4.6v12.2h-4.6zM164.7 110.5h4.6v15.5h-4.6zM172.3 108h4.6v13.8h-4.6zM180.1 114.2h4.6v14.2h-4.6zM187.8 106.8h4.6v10.8h-4.6zM195.4 102h4.6v10.5h-4.6zM203.2 98h4.6v10h-4.6zM230.2 88.8h4.6v7h-4.6zM237.9 92.5h4.6v8h-4.6zM245.7 99.2h4.6v9.5h-4.6zM253.3 101.2h4.6v8.8h-4.6zM261.1 112.5h4.6v10h-4.6zM268.8 88h4.6v7.5h-4.6zM276.4 101.8h4.6v9.5h-4.6zM284.1 107.5h4.6v8.8h-4.6zM291.9 117h4.6v11.5h-4.6zM299.6 98h4.6v8.8h-4.6zM307.2 101.2h4.6v10h-4.6zM314.9 97.5h4.6v8.2h-4.6zM322.6 106.2h4.6v10h-4.6zM330.4 116.2h4.6v12.2h-4.6zM338.1 106.2h4.6v10.5h-4.6zM345.8 83.8h4.6v7h-4.6zM353.4 92h4.6v7.5h-4.6zM361.1 100h4.6v8.2h-4.6zM368.9 101.2h4.6v9.2h-4.6zM376.6 105.8h4.6v9.8h-4.6zM384.2 110.5h4.6v11.2h-4.6zM411.8 100h4.6v9.2h-4.6zM419.4 97.5h4.6v8.8h-4.6zM427.1 116.2h4.6v12h-4.6zM434.9 96.2h4.6v10h-4.6zM442.6 101.8h4.6v11.2h-4.6zM450.2 108.8h4.6v12.5h-4.6zM477.5 117.5h4.6v10.5h-4.6zM485.2 105.5h4.6v8.2h-4.6zM492.9 92h4.6v8h-4.6zM500.6 101.8h4.6v9.5h-4.6zM508.3 91.2h4.6v6.8h-4.6zM516 88h4.6v6.5h-4.6zM523.7 95h4.6v8.2h-4.6zM531.4 97.5h4.6v8.8h-4.6zM557.2 95.8h4.6v7.2h-4.6zM565 100h4.6v8h-4.6zM572.6 91.2h4.6v6.8h-4.6zM580.4 112h4.6v10.5h-4.6zM588 122.5h4.6v13.2h-4.6zM595.8 120.8h4.6v13h-4.6zM603.5 112.5h4.6v14.2h-4.6zM611.1 122h4.6v13h-4.6zM618.9 100h4.6v10h-4.6zM626.5 122h4.6v12.2h-4.6zM652.2 99.2h4.6v11.2h-4.6zM660 90.5h4.6v8.2h-4.6zM667.6 83h4.6v7h-4.6zM675.4 90.8h4.6v7.5h-4.6zM683 97h4.6v9.2h-4.6zM690.8 97.5h4.6v7h-4.6zM698.5 98.2h4.6v8h-4.6zM706.1 105.5h4.6v12.5h-4.6zM734 106.8h4.6v14.5h-4.6zM741.7 112.5h4.6v10.8h-4.6zM749.4 117.5h4.6v16.8h-4.6zM757.1 90.8h4.6v8.5h-4.6zM764.8 102h4.6v10h-4.6zM772.5 90h4.6v7.5h-4.6zM780.2 94.5h4.6v8h-4.6zM807.3 100.3h4.6v9.7h-4.6zM815 107h4.6v11.6h-4.6zM822.7 118.6h4.6v13.6h-4.6zM830.4 117.1h4.6v14.1h-4.6zM838.1 115.5h4.6v17.9h-4.6zM845.8 111.1h4.6v12h-4.6zM19 785h4.6v7.5h-4.6zM26.7 790h4.6v8.2h-4.6zM34.4 802.5h4.6v10.5h-4.6zM62.5 794.2h4.6v9.5h-4.6zM70.2 789.2h4.6v8.8h-4.6zM77.9 794.2h4.6v10h-4.6zM85.6 790.5h4.6v12h-4.6zM93.3 790h4.6v11.2h-4.6zM101 800h4.6v11.2h-4.6zM108.7 800h4.6v16.8h-4.6zM116.4 793.8h4.6v13.8h-4.6zM145.2 805.5h4.6v11.2h-4.6zM152.9 778h4.6v5h-4.6zM160.7 781.2h4.6v6.2h-4.6zM168.3 775h4.6v5h-4.6zM176.1 793h4.6v8.8h-4.6zM183.8 799.5h4.6v8.8h-4.6zM191.4 803h4.6v10.8h-4.6zM199.2 786.8h4.6v8.8h-4.6zM225.8 805h4.6v5h-4.6zM229.5 770h4.6v4.2h-4.6zM233.4 811.8h4.6v5.8h-4.6zM241.2 805.8h4.6v10h-4.6zM248.8 791.2h4.6v7.5h-4.6zM256.6 811.8h4.6v1.5h-4.6zM260.2 792.5h4.6v8.2h-4.6zM264.2 815h4.6v3.2h-4.6zM271.9 805h4.6v10h-4.6zM279.6 797.5h4.6v8.8h-4.6zM287.4 805.5h4.6v10.2h-4.6zM295.1 790.8h4.6v8h-4.6zM302.8 812.5h4.6v10.5h-4.6zM310.4 795.8h4.6v8.5h-4.6zM318.1 784.2h4.6v6.5h-4.6zM325.9 814.2h4.6v2.5h-4.6zM329.8 795.8h4.6v8h-4.6zM333.6 816.2h4.6v2.5h-4.6zM341.2 794.2h4.6v8.8h-4.6zM348.9 801.8h4.6v9.5h-4.6zM356.6 804.5h4.6v10h-4.6zM364.4 786.2h4.6v5h-4.6zM372.1 800h4.6v7.5h-4.6zM379.8 790.5h4.6v6.2h-4.6zM387.5 792.5h4.6v7h-4.6zM395.1 795h4.6v8.2h-4.6zM402.9 790h4.6v8h-4.6zM410.6 797.5h4.6v8.8h-4.6zM418.2 791.2h4.6v8.2h-4.6zM426 778h4.6v5.8h-4.6zM433.6 778h4.6v6.5h-4.6zM441.4 775h4.6v5.5h-4.6zM449.1 774.2h4.6v5.2h-4.6zM456.8 776.2h4.6v5h-4.6zM464.5 768.8h4.6v4.2h-4.6zM475.8 797.5h4.6v9.5h-4.6zM487.6 788.2h4.6v7.5h-4.6zM495.2 788h4.6v7.5h-4.6zM502.9 782h4.6v6.2h-4.6zM510.7 779.5h4.6v5.5h-4.6zM518.4 783.2h4.6v6.2h-4.6zM526 775.8h4.6v6h-4.6zM533.8 779.2h4.6v6.2h-4.6zM541.5 782.5h4.6v6.2h-4.6zM549.2 782.5h4.6v6.2h-4.6zM556.9 779.5h4.6v6h-4.6zM564.5 780.8h4.6v6.2h-4.6zM572.2 772h4.6v5h-4.6zM580 783.8h4.6v6.2h-4.6zM587.7 790h4.6v7.5h-4.6zM595.4 795.5h4.6v8.8h-4.6zM621.5 809.5h4.6v10h-4.6zM629.2 810.5h4.6v10h-4.6zM636.9 807.5h4.6v10.5h-4.6zM644.6 808h4.6v10.2h-4.6zM671 788.2h4.6v9.8h-4.6zM678.7 796.2h4.6v11.2h-4.6zM686.4 798.8h4.6v10h-4.6zM694.1 809.2h4.6v10.8h-4.6zM721 808.2h4.6v16.2h-4.6zM728.7 802.5h4.6v10.8h-4.6zM736.4 797.5h4.6v11.2h-4.6zM744.1 792.5h4.6v10.5h-4.6zM751.8 798.2h4.6v10.5h-4.6zM759.5 790.5h4.6v8.2h-4.6zM788 802.9h4.6v10.1h-4.6zM795.7 811.1h4.6v11.4h-4.6zM803.4 799.7h4.6v8.6h-4.6zM811.1 814.2h4.6v11.7h-4.6zM818.8 782h4.6v6.1h-4.6zM826.5 800.3h4.6v9.5h-4.6zM834.2 800.3h4.6v9.7h-4.6zM1077 28.2h4.6v1.2h-4.6zM1113 40h4.6v2.5h-4.6zM1120.7 38h4.6v2h-4.6zM1128.4 35.5h4.6v1.5h-4.6zM1143.8 38h4.6v2.8h-4.6zM1151.5 37.5h4.6v2.5h-4.6zM1180.2 54.5h4.6v5.5h-4.6zM1188 54.2h4.6v5.2h-4.6zM1195.7 52h4.6v4.2h-4.6zM1203.3 56.2h4.6v3.8h-4.6zM1211 53.2h4.6v4.8h-4.6zM1218.8 48.8h4.6v3.2h-4.6zM1226.5 50.5h4.6v3.8h-4.6zM1234.2 58h4.6v4h-4.6zM1241.8 56.2h4.6v6.2h-4.6zM1249.5 55h4.6v4.5h-4.6zM1257.2 51.8h4.6v3.8h-4.6zM1265 56.8h4.6v5h-4.6zM1272.7 55.8h4.6v4.2h-4.6zM1280.3 53.2h4.6v4.2h-4.6zM1288 57.5h4.6v5h-4.6zM1295.8 60h4.6v6.2h-4.6zM1303.5 56.2h4.6v4.5h-4.6zM1311.2 60.8h4.6v3h-4.6zM1315 43h4.6v3.8h-4.6zM1318.8 68h4.6v3.8h-4.6zM1326.5 48.8h4.6v3.2h-4.6zM1334.2 50.8h4.6v4.2h-4.6zM1342 56.2h4.6v3h-4.6zM1346 35.8h4.6v2.2h-4.6zM1349.7 58h4.6v3.2h-4.6zM1357.3 56.8h4.6v5h-4.6zM1365 56.2h4.6v4.5h-4.6zM1372.8 49.2h4.6v3.8h-4.6zM1380.5 54.2h4.6v4.5h-4.6zM1388.2 54.5h4.6v4.8h-4.6zM1395.8 58h4.6v5.8h-4.6zM1403.5 55h4.6v4.5h-4.6zM1411.2 54.2h4.6v4.5h-4.6zM1419 52h4.6v3.5h-4.6zM1426.7 50.8h4.6v3.5h-4.6zM1434.3 58.2h4.6v6h-4.6zM1442 50.8h4.6v4.8h-4.6zM1449.8 52.5h4.6v4.5h-4.6zM1457.5 56.2h4.6v4.5h-4.6zM1465.2 62.5h4.6v5.5h-4.6zM1472.8 50h4.6v4.5h-4.6zM1480.5 51.8h4.6v4h-4.6zM1488.2 52h4.6v4.2h-4.6zM1496 54.2h4.6v5h-4.6zM1503.7 55.5h4.6v4.5h-4.6zM1511.3 51.2h4.6v5h-4.6zM1519 52.5h4.6v4.2h-4.6zM1526.8 56.8h4.6v5h-4.6zM1534.5 58h4.6v3.8h-4.6zM1542.2 58.2h4.6v3.8h-4.6zM1549.8 67h4.6v6.8h-4.6zM1557.5 55.5h4.6v4.5h-4.6zM1565.2 52h4.6v5h-4.6zM1573 52h4.6v4.8h-4.6zM1580.7 53.2h4.6v5.5h-4.6zM1588.3 50.8h4.6v4.8h-4.6zM1596 58.2h4.6v5.5h-4.6zM1603.8 57h4.6v5.5h-4.6zM1630.8 50.8h4.6v3.8h-4.6zM1638.5 42.5h4.6v3h-4.6zM1646.2 71.2h4.6v6.8h-4.6zM1653.8 60h4.6v5.5h-4.6zM1661.5 53.2h4.6v4.8h-4.6zM1669.2 50h4.6v5h-4.6zM1700.8 62.5h4.6v5.5h-4.6zM1708.5 72.5h4.6v9.2h-4.6zM1716.2 67h4.6v7.5h-4.6zM1723.8 75.8h4.6v8.5h-4.6zM1731.5 75h4.6v8.2h-4.6zM1739.2 80h4.6v9.5h-4.6zM1766.1 77.1h4.6v9.2h-4.6zM1773.8 70.1h4.6v8.2h-4.6zM1781.5 79.9h4.6v9.2h-4.6zM1789.2 75h4.6v11.2h-4.6zM1796.9 80.2h4.6v10.3h-4.6zM1804.6 57.7h4.6v5.2h-4.6zM1812.3 53.9h4.6v5h-4.6zM1820 67.7h4.6v6.8h-4.6zM1827.7 58.6h4.6v5.9h-4.6zM1835.4 72.4h4.6v8.2h-4.6zM1843.1 78h4.6v9.7h-4.6zM994.2 633.8h4.6v8.8h-4.6zM1002 628.8h4.6v8.2h-4.6zM1009.6 636.2h4.6v8.8h-4.6zM1017.4 625.5h4.6v5.8h-4.6zM1025 625h4.6v5.5h-4.6zM1032.8 614.2h4.6v5h-4.6zM1040.5 625h4.6v7.5h-4.6zM1048.2 661.8h4.6v14h-4.6zM1077 653.2h4.6v9.2h-4.6zM1084.7 663h4.6v13.2h-4.6zM1092.4 653.8h4.6v14.2h-4.6zM1100.1 622.5h4.6v8.8h-4.6zM1128 648.2h4.6v13.5h-4.6zM1135.7 649.2h4.6v10.8h-4.6zM1143.4 643.2h4.6v10.5h-4.6zM1151.1 640h4.6v10h-4.6zM1158.8 646.2h4.6v10.8h-4.6zM1166.5 645h4.6v10.8h-4.6zM1174.2 645.8h4.6v13.5h-4.6zM1181.9 659.2h4.6v14h-4.6zM1189.6 637.5h4.6v11.2h-4.6zM1197.3 657h4.6v13h-4.6zM1205 625h4.6v7h-4.6zM1212.7 636.2h4.6v8.8h-4.6zM1220.4 631.2h4.6v8h-4.6zM1228.1 635.8h4.6v9.2h-4.6zM1235.8 643.2h4.6v10h-4.6zM1243.5 640h4.6v12.5h-4.6zM1251.2 633.2h4.6v8h-4.6zM1258.9 634.2h4.6v10.2h-4.6zM1266.6 666.2h4.6v15.5h-4.6zM1292.5 653h4.6v10.8h-4.6zM1300.2 656.2h4.6v12h-4.6zM1307.9 668h4.6v11.5h-4.6zM1315.6 657h4.6v11.8h-4.6zM1342.5 643h4.6v23.8h-4.6zM1350.2 643h4.6v22.5h-4.6zM1357.9 651.8h4.6v15.8h-4.6zM1361.8 593.8h4.6v8.8h-4.6zM1365.6 647.5h4.6v15.5h-4.6zM1373.3 651.8h4.6v30h-4.6zM1381 648.8h4.6v28.8h-4.6zM1406.2 637.5h4.6v12h-4.6zM1414 649.2h4.6v15h-4.6zM1421.7 670h4.6v16.2h-4.6zM1429.3 652.5h4.6v15h-4.6zM1437 640.8h4.6v11.8h-4.6zM1444.8 629.2h4.6v14h-4.6zM1452.5 635h4.6v12.5h-4.6zM1479 640.5h4.6v10.2h-4.6zM1486.7 641.8h4.6v10.2h-4.6zM1494.4 651.2h4.6v12.5h-4.6zM1502.1 650h4.6v12h-4.6zM1529.2 628h4.6v7.8h-4.6zM1537 675.8h4.6v16h-4.6zM1544.7 675.8h4.6v16h-4.6zM1552.3 656.8h4.6v12.8h-4.6zM1560 650h4.6v10.8h-4.6zM1567.8 660h4.6v11.8h-4.6zM1575.5 631.2h4.6v8.2h-4.6zM1583.2 671.2h4.6v15h-4.6zM1590.8 637.5h4.6v8.8h-4.6zM1617.5 658h4.6v17h-4.6zM1625.2 670h4.6v25h-4.6zM1632.9 663.8h4.6v18h-4.6zM1640.6 655.8h4.6v17.2h-4.6zM1648.3 641.8h4.6v14.5h-4.6zM1656 650h4.6v22.5h-4.6zM1682 641.2h4.6v13.2h-4.6zM1689.7 628.2h4.6v8.5h-4.6zM1697.4 634.2h4.6v4.5h-4.6zM1705.1 649.2h4.6v7h-4.6zM1712.8 618.2h4.6v6.8h-4.6zM1720.5 625h4.6v7h-4.6zM1728.2 614.5h4.6v6h-4.6zM1735.9 635.8h4.6v11h-4.6zM1743.6 627.5h4.6v8.8h-4.6zM1770 627.9h4.6v7.9h-4.6zM1777.7 613.6h4.6v4.2h-4.6zM1785.4 612.2h4.6v4.9h-4.6zM1793.1 630h4.6v8h-4.6zM1800.8 638h4.6v9.8h-4.6zM1808.5 627.7h4.6v7.5h-4.6zM1816.2 636.6h4.6v8.4h-4.6zM1823.9 626.2h4.6v6.6h-4.6zM1831.6 622h4.6v6.1h-4.6zM41 1490.8h4.6v6h-4.6zM48.7 1502h4.6v6.8h-4.6zM56.4 1504.2h4.6v9h-4.6zM64.1 1556.2h4.6v17h-4.6zM71.8 1509.2h4.6v10.2h-4.6zM79.5 1502h4.6v9.8h-4.6zM102.5 1523.8h4.6v17.5h-4.6zM110.2 1513.8h4.6v15.8h-4.6zM117.9 1510h4.6v15h-4.6zM125.6 1495h4.6v6.8h-4.6zM133.3 1503.8h4.6v9.2h-4.6zM141 1520h4.6v15.8h-4.6zM148.7 1528.8h4.6v16.2h-4.6zM156.4 1529.2h4.6v17.5h-4.6zM164.1 1522.5h4.6v16.8h-4.6zM171.8 1530.8h4.6v46.8h-4.6zM179.5 1520h4.6v13h-4.6zM203.5 1541.8h4.6v10.2h-4.6zM207.5 1470h4.6v3.8h-4.6zM211.2 1540.8h4.6v17.2h-4.6zM218.9 1540h4.6v17h-4.6zM226.6 1526.2h4.6v13.2h-4.6zM234.3 1525h4.6v12.5h-4.6zM242 1549.2h4.6v24.5h-4.6zM272.5 1522.1h4.6v11h-4.6zM284.1 1518.8h4.6v10h-4.6zM294.1 1518.1h4.6v12.5h-4.6zM301.6 1535h4.6v12.5h-4.6zM309.4 1510h4.6v8.8h-4.6zM317.9 1526.6h4.6v8h-4.6zM322.2 1476.2h4.6v1.2h-4.6zM327.1 1522.1h4.6v8.1h-4.6zM329.1 1468.1h4.6v1.2h-4.6zM336 1528.8h4.6v10h-4.6zM337.8 1460h4.6v1h-4.6zM344.4 1517.2h4.6v9h-4.6zM352.1 1521.6h4.6v9.6h-4.6zM360.6 1514h4.6v8.8h-4.6zM369.1 1512.5h4.6v8.1h-4.6zM376.6 1505h4.6v8.5h-4.6zM386.5 1538.4h4.6v14.1h-4.6zM395.6 1526.2h4.6v11.2h-4.6zM404.6 1511.9h4.6v8.1h-4.6zM414.8 1510.9h4.6v3.1h-4.6zM418.8 1488.8h4.6v3.8h-4.6zM422.5 1551.9h4.6v9.1h-4.6zM431 1531.9h4.6v11.6h-4.6zM440.6 1536.2h4.6v14.4h-4.6zM450.9 1510.6h4.6v9.4h-4.6zM461.2 1521h4.6v10.6h-4.6zM471.2 1477.8h4.6v3.8h-4.6zM479.6 1515.6h4.6v9.4h-4.6zM490.6 1521.2h4.6v11.2h-4.6zM501.2 1519.4h4.6v10.4h-4.6zM512.2 1492.9h4.6v6.5h-4.6zM520.1 1505.2h4.6v8.2h-4.6zM528.1 1503.5h4.6v7.5h-4.6zM559.4 1485h4.6v6.2h-4.6zM567.1 1482.5h4.6v5.6h-4.6zM574.8 1477.8h4.6v4.5h-4.6zM582.5 1481.9h4.6v5.6h-4.6zM594 1484.4h4.6v6h-4.6zM597.9 1555.6h4.6v8.8h-4.6zM605.6 1486.2h4.6v7.8h-4.6zM613.3 1461.2h4.6v2.5h-4.6zM621 1464h4.6v3.2h-4.6zM628.7 1470.2h4.6v3.8h-4.6zM636.4 1472.8h4.6v3.8h-4.6zM643.5 1474.1h4.6v6.5h-4.6zM651.2 1483.8h4.6v6.5h-4.6zM659 1488.1h4.6v6.6h-4.6zM666.6 1484h4.6v6h-4.6zM674.4 1481.2h4.6v5.6h-4.6zM682.1 1469h4.6v3.2h-4.6zM689.8 1468.8h4.6v3.1h-4.6zM701.2 1481h4.6v2.5h-4.6zM697.5 1549.4h4.6v11.6h-4.6zM705.2 1541.2h4.6v5h-4.6zM712.8 1541h4.6v6.5h-4.6zM720.4 1537.9h4.6v9.6h-4.6zM728.1 1467.9h4.6v3.1h-4.6zM735.9 1486.9h4.6v6h-4.6zM743.5 1481.6h4.6v5h-4.6zM751.2 1484h4.6v6.6h-4.6zM759 1485h4.6v6.6h-4.6zM766.6 1474h4.6v4.1h-4.6zM774.4 1470.2h4.6v3.8h-4.6zM782.1 1477.2h4.6v5.2h-4.6zM803.3 1470.7h4.6v5h-4.6zM811 1473.7h4.6v12.5h-4.6zM818.7 1484.7h4.6v5.4h-4.6zM826.4 1505.9h4.6v12.9h-4.6zM834.1 1462.4h4.6v3h-4.6zM841.8 1480.7h4.6v3.4h-4.6zM849.5 1492.6h4.6v5.4h-4.6zM857.2 1476.7h4.6v3.4h-4.6zM864.9 1511.9h4.6v8.2h-4.6zM872.6 1478.1h4.6v4.6h-4.6zM880.3 1503h4.6v5.2h-4.6zM888 1494.6h4.6v7h-4.6z"/>
<path fill="#EE7FB9" d="M0.2 122.5h4.6v3.2h-4.6zM8 123.8h4.6v1.8h-4.6zM15.7 110h4.6v2.5h-4.6zM23.4 111.2h4.6v2.5h-4.6zM31.1 118.8h4.6v2h-4.6zM38.8 95h4.6v12.5h-4.6zM46.5 125h4.6v2h-4.6zM54.1 108h4.6v2.5h-4.6zM61.9 116.2h4.6v2h-4.6zM69.5 122.5h4.6v2h-4.6zM97.8 95.8h4.6v3.8h-4.6zM203.2 108h4.6v1.5h-4.6zM411.8 109.2h4.6v2h-4.6zM419.4 106.2h4.6v2h-4.6zM492.9 100h4.6v3.2h-4.6zM508.3 98h4.6v13.8h-4.6zM512.2 44.5h4.6v1.8h-4.6zM516 94.5h4.6v11.8h-4.6zM523.7 103.2h4.6v24.2h-4.6zM531.4 106.2h4.6v4.5h-4.6zM652.2 110.5h4.6v2.8h-4.6zM660 98.8h4.6v1.2h-4.6zM667.6 90h4.6v42.5h-4.6zM675.4 98.2h4.6v35.5h-4.6zM683 106.2h4.6v7h-4.6zM690.8 104.5h4.6v1.8h-4.6zM694.5 47.5h4.6v5.8h-4.6zM734 121.2h4.6v1.2h-4.6zM749.4 134.2h4.6v1.2h-4.6zM757.1 99.2h4.6v3.2h-4.6zM764.8 112h4.6v4.8h-4.6zM772.5 97.5h4.6v4.5h-4.6zM780.2 102.5h4.6v3.2h-4.6zM807.3 110h4.6v14.3h-4.6zM815 118.6h4.6v0.6h-4.6zM822.7 132.3h4.6v3.4h-4.6zM152.9 783h4.6v5h-4.6zM160.7 787.5h4.6v8h-4.6zM168.3 780h4.6v8h-4.6zM433.6 784.5h4.6v1h-4.6zM441.4 780.5h4.6v0.8h-4.6zM526 781.8h4.6v0.8h-4.6zM621.5 819.5h4.6v3h-4.6zM636.9 818h4.6v3.8h-4.6zM644.6 818.2h4.6v3h-4.6zM694.1 820h4.6v1.8h-4.6zM818.8 788.1h4.6v13.5h-4.6zM826.5 809.8h4.6v9.8h-4.6zM1047.2 25.5h4.6v1.2h-4.6zM1113 42.5h4.6v1.2h-4.6zM1136.1 32.5h4.6v0.8h-4.6zM1143.8 40.8h4.6v1h-4.6zM1151.5 40h4.6v1.2h-4.6zM1195.7 56.2h4.6v3h-4.6zM1203.3 60h4.6v2.5h-4.6zM1211 58h4.6v3.2h-4.6zM1226.5 54.2h4.6v1.5h-4.6zM1249.5 59.5h4.6v3h-4.6zM1257.2 55.5h4.6v2h-4.6zM1265 61.8h4.6v0.8h-4.6zM1272.7 60h4.6v1.8h-4.6zM1280.3 57.5h4.6v1.2h-4.6zM1326.5 52h4.6v1.2h-4.6zM1334.2 55h4.6v1.8h-4.6zM1630.8 54.5h4.6v2.2h-4.6zM1646.2 78h4.6v2h-4.6zM1653.8 65.5h4.6v2.5h-4.6zM1661.5 58h4.6v2.5h-4.6zM1669.2 55h4.6v3h-4.6zM1804.6 62.8h4.6v23.2h-4.6zM1812.3 58.9h4.6v33.5h-4.6zM1820 74.5h4.6v12.8h-4.6zM1827.7 64.5h4.6v15.4h-4.6zM994.2 642.5h4.6v8.2h-4.6zM1002 637h4.6v13h-4.6zM1009.6 645h4.6v3h-4.6zM1021.2 580.8h4.6v4.2h-4.6zM1025 630.5h4.6v1.5h-4.6zM1032.8 619.2h4.6v3.2h-4.6zM1040.5 632.5h4.6v3.2h-4.6zM1048.2 675.8h4.6v3.8h-4.6zM1081 581.2h4.6v8.8h-4.6zM1092.4 668h4.6v2h-4.6zM1100.1 631.2h4.6v14.2h-4.6zM1128 661.8h4.6v2h-4.6zM1135.7 660h4.6v1.8h-4.6zM1151.1 650h4.6v1.2h-4.6zM1174.2 659.2h4.6v1.2h-4.6zM1181.9 673.2h4.6v1.8h-4.6zM1189.6 648.8h4.6v3.8h-4.6zM1197.3 670h4.6v1.8h-4.6zM1205 633.2h4.6v8h-4.6zM1212.7 646.2h4.6v7.5h-4.6zM1220.4 639.2h4.6v7.8h-4.6zM1228.1 645h4.6v4.2h-4.6zM1235.8 654.5h4.6v8h-4.6zM1243.5 652.5h4.6v4.5h-4.6zM1251.2 642.5h4.6v8.2h-4.6zM1258.9 644.5h4.6v1.8h-4.6zM1292.5 663.8h4.6v1.2h-4.6zM1300.2 668.2h4.6v1h-4.6zM1307.9 679.5h4.6v1.2h-4.6zM1342.5 666.8h4.6v0.8h-4.6zM1479 650.8h4.6v13h-4.6zM1486.7 652h4.6v23.8h-4.6zM1494.4 663.8h4.6v10.5h-4.6zM1502.1 662h4.6v6.2h-4.6zM1529.2 635.8h4.6v1h-4.6zM1575.5 639.5h4.6v1.8h-4.6zM1590.8 646.2h4.6v3.2h-4.6zM1617.5 675h4.6v5.5h-4.6zM1625.2 695h4.6v6.2h-4.6zM1632.9 681.8h4.6v15.2h-4.6zM1640.6 673h4.6v10h-4.6zM1648.3 656.2h4.6v12h-4.6zM1656 672.5h4.6v10h-4.6zM1697.4 638.8h4.6v3.8h-4.6zM1705.1 656.2h4.6v2.5h-4.6zM1712.8 625h4.6v5h-4.6zM1770 635.8h4.6v10.6h-4.6zM1777.7 617.8h4.6v25.3h-4.6zM1785.4 617.1h4.6v22.8h-4.6zM1793.1 638h4.6v16.9h-4.6zM1800.8 647.8h4.6v11.2h-4.6zM1808.5 635.2h4.6v15h-4.6zM1816.2 645h4.6v9.4h-4.6zM1823.9 632.8h4.6v31.4h-4.6zM1831.6 628.1h4.6v10.8h-4.6zM41 1496.8h4.6v23.2h-4.6zM48.7 1508.8h4.6v17h-4.6zM125.6 1501.8h4.6v5.8h-4.6zM133.3 1513h4.6v6.5h-4.6zM203.5 1552h4.6v2.5h-4.6zM207.5 1473.8h4.6v7h-4.6zM218.9 1557h4.6v6.2h-4.6zM234.3 1537.5h4.6v3h-4.6zM242 1575h4.6v6.2h-4.6zM352.1 1531.2h4.6v2.5h-4.6zM559.4 1491.2h4.6v37.5h-4.6zM567.1 1488.1h4.6v44.4h-4.6zM574.8 1482.2h4.6v80.2h-4.6zM582.5 1487.5h4.6v48.1h-4.6zM594 1490.4h4.6v40.9h-4.6zM597.9 1564.4h4.6v13.1h-4.6zM605.6 1494h4.6v2.9h-4.6zM628.7 1474h4.6v52.5h-4.6zM636.4 1476.5h4.6v40h-4.6zM666.6 1490h4.6v46.5h-4.6zM674.4 1486.9h4.6v49.6h-4.6zM682.1 1472.2h4.6v52.5h-4.6zM686.2 1447.8h4.6v2.9h-4.6zM689.8 1471.9h4.6v40.9h-4.6zM701.2 1483.5h4.6v29.6h-4.6zM709 1449h4.6v21h-4.6zM716.6 1478.8h4.6v28.1h-4.6zM697.5 1561h4.6v0.9h-4.6zM705.2 1546.2h4.6v6.9h-4.6zM728.1 1471h4.6v48.6h-4.6zM735.9 1492.9h4.6v1.9h-4.6zM743.5 1487.9h4.6v4.4h-4.6zM751.2 1490.6h4.6v52.1h-4.6zM759 1491.6h4.6v3h-4.6zM766.6 1478.1h4.6v52.5h-4.6zM774.4 1474h4.6v50.6h-4.6zM841.8 1694.1h4.6v2h-4.6zM847.7 1452.8h4.6v1.4h-4.6zM849.5 1625.9h4.6v4h-4.6zM857.2 1709.4h4.6v5h-4.6zM863.2 1449.8h4.6v2.6h-4.6zM872.6 1686.2h4.6v4.8h-4.6zM880.3 1680.2h4.6v8.4h-4.6z"/>
<path fill="#BEBEBE" d="M8 44.5h4.6v5.5h-4.6zM15.7 43h4.6v4.5h-4.6zM23.4 42.5h4.6v3.2h-4.6zM61.9 41.2h4.6v3.8h-4.6zM97.8 40.5h4.6v3.2h-4.6zM105.5 40.5h4.6v8.2h-4.6zM113.2 41.2h4.6v3.8h-4.6zM230.2 39.5h4.6v4.2h-4.6zM237.9 40h4.6v3.2h-4.6zM253.3 41.2h4.6v1.2h-4.6zM261.1 40h4.6v6.2h-4.6zM268.8 40.8h4.6v3h-4.6zM276.4 40h4.6v5h-4.6zM284.1 50h4.6v2h-4.6zM288 40h4.6v1.2h-4.6zM291.9 50h4.6v3.2h-4.6zM314.9 41.2h4.6v1.8h-4.6zM330.4 40h4.6v6.2h-4.6zM353.4 41.2h4.6v2.5h-4.6zM361.1 40.8h4.6v4.8h-4.6zM368.9 40.8h4.6v3.8h-4.6zM376.6 40h4.6v7h-4.6zM384.2 40h4.6v5h-4.6zM477.5 41.2h4.6v13.8h-4.6zM485.2 40.8h4.6v10h-4.6zM492.9 41.2h4.6v3h-4.6zM500.6 40.8h4.6v3.5h-4.6zM508.3 46.2h4.6v2.5h-4.6zM512.2 41.2h4.6v1.8h-4.6zM516 46.2h4.6v3.8h-4.6zM523.7 41.2h4.6v1.8h-4.6zM531.4 41.2h4.6v1.8h-4.6zM557.2 45h4.6v8.2h-4.6zM561.2 43h4.6v2h-4.6zM565 45h4.6v8.2h-4.6zM572.6 42.5h4.6v3.2h-4.6zM580.4 42.5h4.6v3h-4.6zM595.8 41.2h4.6v2h-4.6zM603.5 41.2h4.6v2h-4.6zM611.1 41.2h4.6v2h-4.6zM618.9 41.2h4.6v3.8h-4.6zM626.5 41.2h4.6v10h-4.6zM652.2 41.2h4.6v1.8h-4.6zM675.4 41.2h4.6v2h-4.6zM690.8 53.8h4.6v2.5h-4.6zM694.5 40h4.6v1.2h-4.6zM698.5 53.8h4.6v5.8h-4.6zM734 42h4.6v1.8h-4.6zM764.8 41.2h4.6v4.5h-4.6zM772.5 41.2h4.6v3.8h-4.6zM460.5 741.2h4.6v0.8h-4.6zM721 742h4.6v1.2h-4.6zM728.7 742.5h4.6v3h-4.6zM736.4 742.5h4.6v2h-4.6zM744.1 741.2h4.6v1.2h-4.6zM751.8 742h4.6v3.5h-4.6zM788 742.9h4.6v1.3h-4.6zM803.4 742.3h4.6v1.3h-4.6zM811.1 741h4.6v5.7h-4.6zM818.8 741h4.6v5.9h-4.6zM834.2 741h4.6v6.7h-4.6zM1230.5 25.8h4.6v1.2h-4.6zM1708.5 24.2h4.6v2h-4.6zM1723.8 24.2h4.6v5h-4.6zM1731.5 24.2h4.6v7h-4.6zM1017.4 587.5h4.6v4.5h-4.6zM1021.2 579.2h4.6v1.5h-4.6zM1021.2 586.2h4.6v1.2h-4.6zM1032.8 579.2h4.6v4.5h-4.6zM1081 579.2h4.6v2h-4.6zM1084.7 600h4.6v2h-4.6zM1092.4 579.2h4.6v4.5h-4.6zM1100.1 579.2h4.6v2h-4.6zM1292.5 579.2h4.6v9h-4.6zM1300.2 579.2h4.6v9h-4.6zM1307.9 579.2h4.6v23.2h-4.6zM1315.6 579.2h4.6v11.5h-4.6zM1421.7 587h4.6v2.5h-4.6zM1567.8 579.2h4.6v5.8h-4.6zM1590.8 580h4.6v3.8h-4.6zM1617.5 580h4.6v2h-4.6zM1656 579.2h4.6v2h-4.6zM1697.4 600.8h4.6v6.8h-4.6zM1701.5 581.2h4.6v1.8h-4.6zM1705.1 600.8h4.6v3.8h-4.6zM1712.8 581.2h4.6v5.8h-4.6zM1735.9 581.2h4.6v6.8h-4.6zM1777.7 579.4h4.6v7.5h-4.6zM1808.5 579.4h4.6v3.7h-4.6zM1816.2 579.4h4.6v6.6h-4.6zM1823.9 579.4h4.6v6.6h-4.6zM1831.6 579.4h4.6v6.1h-4.6zM41 1449.2h4.6v6.2h-4.6zM48.7 1449.2h4.6v13.8h-4.6zM64.1 1448.2h4.6v7.2h-4.6zM71.8 1448.2h4.6v1.8h-4.6zM203.5 1481.2h4.6v4.5h-4.6zM211.2 1481.2h4.6v2h-4.6zM218.9 1449.2h4.6v4.5h-4.6zM278.4 1449.4h4.6v3.1h-4.6zM294.1 1449.4h4.6v6.9h-4.6zM301.6 1449.4h4.6v6.6h-4.6zM309.4 1449.4h4.6v6.6h-4.6zM337.8 1449.4h4.6v3.1h-4.6zM352.1 1449.4h4.6v15.4h-4.6zM360.6 1461.5h4.6v1.6h-4.6zM364.8 1449.4h4.6v5.6h-4.6zM369.1 1461h4.6v3.4h-4.6zM376.6 1449.4h4.6v6.2h-4.6zM386.5 1451.2h4.6v3.1h-4.6zM400.2 1450h4.6v2.5h-4.6zM418.8 1463.4h4.6v2.9h-4.6zM425 1452.5h4.6v3.1h-4.6zM450.9 1449.4h4.6v3.8h-4.6zM461.2 1450h4.6v2.8h-4.6zM479.6 1449.4h4.6v6.9h-4.6zM501.2 1449.4h4.6v7.1h-4.6zM520.1 1450h4.6v6.9h-4.6zM528.1 1450h4.6v5.4h-4.6zM811 1449.4h4.6v1.4h-4.6zM818.7 1448.8h4.6v6h-4.6zM826.4 1447.8h4.6v10.9h-4.6zM841.8 1455.4h4.6v7h-4.6zM849.5 1455.4h4.6v6.4h-4.6zM857.2 1452.8h4.6v4.6h-4.6zM864.9 1452.8h4.6v8.6h-4.6zM872.6 1447.8h4.6v5h-4.6zM880.3 1447.8h4.6v21.9h-4.6zM888 1447.8h4.6v8h-4.6z"/>
<path fill="#A65B2E" d="M120.8 125.8h4.6v2.8h-4.6zM803.3 1475.7h4.6v269.5h-4.6zM811 1486.2h4.6v277.3h-4.6zM818.7 1490h4.6v250.8h-4.6zM826.4 1518.9h4.6v191.6h-4.6zM834.1 1465.4h4.6v378.4h-4.6zM841.8 1484.1h4.6v210.1h-4.6zM849.5 1498h4.6v127.9h-4.6zM857.2 1480.1h4.6v229.4h-4.6zM864.9 1520.1h4.6v132.1h-4.6zM872.6 1482.7h4.6v203.5h-4.6zM880.3 1508.1h4.6v172.1h-4.6zM888 1501.6h4.6v216.4h-4.6z"/>
<path fill="#62C3A3" d="M149.2 117h4.6v3.5h-4.6zM500.6 111.2h4.6v1.2h-4.6zM508.3 111.8h4.6v7h-4.6zM516 106.2h4.6v6.2h-4.6zM523.7 127.5h4.6v5h-4.6zM807.3 124.3h4.6v3.5h-4.6zM152.9 788h4.6v27.5h-4.6zM160.7 795.5h4.6v17.5h-4.6zM168.3 788h4.6v21.5h-4.6zM1716.2 74.5h4.6v2.2h-4.6zM41 1520h4.6v2.5h-4.6zM48.7 1525.8h4.6v3.5h-4.6zM226.6 1539.5h4.6v3.8h-4.6zM841.8 1696.1h4.6v1.4h-4.6zM849.5 1629.9h4.6v2.4h-4.6zM857.2 1714.4h4.6v2h-4.6z"/>
<path fill="#919191" d="M427.1 128.2h4.6v1.2h-4.6zM434.9 106.2h4.6v7.5h-4.6zM442.6 113h4.6v1.5h-4.6zM572.2 777h4.6v1.8h-4.6zM1031.8 24.2h4.6v1h-4.6zM1039.5 24.2h4.6v1h-4.6zM1047.2 24.2h4.6v1.2h-4.6zM1084.7 29.2h4.6v1.2h-4.6zM1241.8 62.5h4.6v2h-4.6zM1766.1 86.2h4.6v0.5h-4.6zM1781.5 89.1h4.6v1.7h-4.6zM1789.2 86.2h4.6v1.4h-4.6zM1835.4 80.6h4.6v2.1h-4.6zM1081 590h4.6v10h-4.6zM1092.4 670h4.6v6.2h-4.6zM1100.1 645.5h4.6v1.2h-4.6zM1479 663.8h4.6v3.2h-4.6zM1486.7 675.8h4.6v11.2h-4.6zM1494.4 674.2h4.6v5h-4.6zM1682 655.8h4.6v27.5h-4.6zM1689.7 636.8h4.6v47.5h-4.6zM1697.4 642.5h4.6v3.2h-4.6zM1701.5 584.2h4.6v16.5h-4.6zM1705.1 658.8h4.6v3.8h-4.6zM1712.8 630h4.6v16.8h-4.6zM1720.5 632h4.6v64.2h-4.6zM1728.2 620.5h4.6v78.2h-4.6zM1735.9 646.8h4.6v2.8h-4.6zM1743.6 650h4.6v4.2h-4.6zM1770 646.4h4.6v21.1h-4.6zM1777.7 643.1h4.6v2.6h-4.6zM1785.4 639.8h4.6v0.9h-4.6zM1793.1 654.8h4.6v47.3h-4.6zM1800.8 659.1h4.6v36.1h-4.6zM1808.5 650.2h4.6v10.3h-4.6zM1816.2 654.4h4.6v13.1h-4.6zM1823.9 664.2h4.6v2.8h-4.6zM1831.6 638.9h4.6v20.6h-4.6zM590.2 1536.9h4.6v1.6h-4.6z"/>
<path fill="#9450A8" d="M512.2 43h4.6v1.5h-4.6zM561.2 42h4.6v1h-4.6zM1021.2 585h4.6v1.2h-4.6zM1212.7 645h4.6v1.2h-4.6zM1235.8 653.2h4.6v1.2h-4.6zM1251.2 641.2h4.6v1.2h-4.6zM1743.6 636.2h4.6v5.5h-4.6zM242 1573.8h4.6v1.2h-4.6zM278.4 1452.5h4.6v3.1h-4.6zM649.4 1447.8h4.6v1.6h-4.6zM659 1494.8h4.6v3.4h-4.6zM709 1447.8h4.6v1.2h-4.6zM863.2 1447.8h4.6v2h-4.6z"/>
<path fill="#829DCC" d="M2 223.2h4.6v7.7h-4.6zM9.7 223.2h4.6v1.9h-4.6zM17.4 223.2h4.6v2h-4.6zM25.1 223.2h4.6v3.1h-4.6zM32.8 223.2h4.6v1.9h-4.6zM40.5 223.2h4.6v7.7h-4.6zM48.2 223.2h4.6v2.2h-4.6zM55.9 223.2h4.6v4.5h-4.6zM63.6 223.2h4.6v4.2h-4.6zM71.3 223.2h4.6v7.5h-4.6zM97.5 223.2h4.6v6.5h-4.6zM105.2 223.2h4.6v4.3h-4.6zM112.9 223.2h4.6v9.3h-4.6zM120.6 223.2h4.6v6.2h-4.6zM147.8 223.2h4.6v5.1h-4.6zM155.4 223.2h4.6v6.3h-4.6zM163.2 223.2h4.6v3.1h-4.6zM170.8 223.2h4.6v3.8h-4.6zM178.6 223.2h4.6v3.9h-4.6zM186.2 223.2h4.6v4.7h-4.6zM193.9 223.2h4.6v1.7h-4.6zM201.7 223.2h4.6v2.7h-4.6zM228.8 223.2h4.6v3.4h-4.6zM236.4 223.2h4.6v3h-4.6zM244.2 223.2h4.6v3h-4.6zM251.8 223.2h4.6v4.9h-4.6zM259.6 223.2h4.6v2.9h-4.6zM267.2 223.2h4.6v4.1h-4.6zM274.9 223.2h4.6v3h-4.6zM282.6 228.8h4.6v2h-4.6zM286.8 223.2h4.6v1.1h-4.6zM298.1 223.2h4.6v1.1h-4.6zM305.8 223.2h4.6v6.7h-4.6zM313.4 223.2h4.6v2.9h-4.6zM321.1 223.2h4.6v6.8h-4.6zM328.9 223.2h4.6v5.6h-4.6zM336.6 223.2h4.6v1.9h-4.6zM351.9 223.2h4.6v3.4h-4.6zM359.6 223.2h4.6v3.8h-4.6zM367.4 223.2h4.6v6.8h-4.6zM375.1 223.2h4.6v8h-4.6zM382.8 223.2h4.6v9.9h-4.6zM408.5 223.2h4.6v7.4h-4.6zM416.2 223.2h4.6v5h-4.6zM423.9 223.2h4.6v1.2h-4.6zM431.6 223.2h4.6v0.8h-4.6zM439.3 223.2h4.6v2.6h-4.6zM447 223.2h4.6v5.1h-4.6zM474.5 223.2h4.6v5.5h-4.6zM482.2 223.2h4.6v6.7h-4.6zM489.9 223.2h4.6v4.8h-4.6zM497.6 223.2h4.6v4h-4.6zM505.3 223.2h4.6v5.4h-4.6zM513 223.2h4.6v7.6h-4.6zM520.7 223.2h4.6v1.1h-4.6zM528.4 223.2h4.6v3.1h-4.6zM555.5 223.2h4.6v2.3h-4.6zM563.2 223.2h4.6v3.4h-4.6zM570.9 223.2h4.6v5.6h-4.6zM578.6 223.2h4.6v4h-4.6zM586.3 223.2h4.6v11.2h-4.6zM594 223.2h4.6v3.9h-4.6zM601.7 223.2h4.6v4h-4.6zM609.4 223.2h4.6v6.1h-4.6zM617.1 223.2h4.6v4h-4.6zM624.8 223.2h4.6v8.2h-4.6zM650.5 223.2h4.6v5.7h-4.6zM658.2 223.2h4.6v6.2h-4.6zM665.9 223.2h4.6v4.7h-4.6zM673.6 223.2h4.6v6.9h-4.6zM681.3 223.2h4.6v6.8h-4.6zM689 223.2h4.6v3.1h-4.6zM696.7 223.2h4.6v2.5h-4.6zM704.4 223.2h4.6v6.3h-4.6zM731 223.2h4.6v9.2h-4.6zM738.7 223.2h4.6v8.5h-4.6zM746.4 223.2h4.6v2h-4.6zM754.1 223.2h4.6v8.2h-4.6zM761.8 223.2h4.6v9.7h-4.6zM769.5 223.2h4.6v8.5h-4.6zM777.2 223.2h4.6v4.1h-4.6zM805.8 223.1h4.6v3.7h-4.6zM813.5 223.1h4.6v5.5h-4.6zM821.2 223.1h4.6v4.7h-4.6zM828.9 223.1h4.6v4.7h-4.6zM836.6 223.1h4.6v4.9h-4.6zM15.5 917.5h4.6v5.9h-4.6zM23.2 917.5h4.6v3.8h-4.6zM30.9 917.5h4.6v5.1h-4.6zM59.2 919.2h4.6v5h-4.6zM67 919.2h4.6v0.9h-4.6zM74.7 919.2h4.6v5.8h-4.6zM82.3 919.2h4.6v4h-4.6zM90 919.2h4.6v5.8h-4.6zM97.8 919.2h4.6v3h-4.6zM105.5 919.2h4.6v0.9h-4.6zM113.2 919.2h4.6v4.9h-4.6zM142 919.2h4.6v5h-4.6zM149.7 919.2h4.6v5.3h-4.6zM157.4 919.2h4.6v6.1h-4.6zM165.1 919.2h4.6v2.9h-4.6zM172.8 919.2h4.6v2.1h-4.6zM180.5 919.2h4.6v3.7h-4.6zM188.2 919.2h4.6v3.2h-4.6zM195.9 919.2h4.6v1.9h-4.6zM223 924.2h4.6v1.7h-4.6zM227 919.2h4.6v0.9h-4.6zM238.4 919.2h4.6v1.8h-4.6zM253.8 934.5h4.6v0.9h-4.6zM257.8 919.2h4.6v3h-4.6zM261.5 934.5h4.6v2.9h-4.6zM269.2 919.2h4.6v0.9h-4.6zM276.9 919.2h4.6v1.8h-4.6zM284.6 919.2h4.6v4.8h-4.6zM292.3 919.2h4.6v4.6h-4.6zM300 919.2h4.6v2.7h-4.6zM307.7 919.2h4.6v1.6h-4.6zM315.4 919.2h4.6v5.7h-4.6zM327 919.2h4.6v3h-4.6zM338.5 919.2h4.6v3.7h-4.6zM346.2 919.2h4.6v4.6h-4.6zM353.9 919.2h4.6v0.8h-4.6zM361.6 929.2h4.6v2.8h-4.6zM365.5 919.2h4.6v2h-4.6zM369.3 929.2h4.6v1.7h-4.6zM377 924.2h4.6v3.6h-4.6zM381 919.2h4.6v0.8h-4.6zM384.7 924.2h4.6v1.8h-4.6zM392.4 919.2h4.6v4.6h-4.6zM400.1 919.2h4.6v3.6h-4.6zM407.8 919.2h4.6v2.6h-4.6zM415.5 919.2h4.6v5.7h-4.6zM423.2 919.2h4.6v0.9h-4.6zM438.6 919.2h4.6v3.9h-4.6zM446.3 919.2h4.6v2h-4.6zM454 919.2h4.6v2.9h-4.6zM461.7 919.2h4.6v0.8h-4.6zM473.2 919.2h4.6v2h-4.6zM484.8 919.2h4.6v0.8h-4.6zM492.5 919.2h4.6v3.7h-4.6zM500.2 919.2h4.6v1.8h-4.6zM515.6 919.2h4.6v1.8h-4.6zM523.3 924.2h4.6v1.9h-4.6zM527 919.2h4.6v0.9h-4.6zM546.4 919.2h4.6v1.8h-4.6zM554.1 919.2h4.6v2.7h-4.6zM561.8 919.2h4.6v3.7h-4.6zM569.5 919.2h4.6v3h-4.6zM577.2 919.2h4.6v3.7h-4.6zM584.9 919.2h4.6v3.4h-4.6zM592.6 919.2h4.6v4.6h-4.6zM618.2 919.2h4.6v6.1h-4.6zM626 919.2h4.6v1.8h-4.6zM633.6 919.2h4.6v7.8h-4.6zM641.4 919.2h4.6v3.7h-4.6zM669.2 919.2h4.6v4.3h-4.6zM677 919.2h4.6v6.9h-4.6zM684.6 919.2h4.6v5.8h-4.6zM692.4 919.2h4.6v7.6h-4.6zM719.2 919.2h4.6v3.4h-4.6zM727 919.2h4.6v1.7h-4.6zM734.6 919.2h4.6v2.9h-4.6zM742.4 919.2h4.6v3.7h-4.6zM750 919.2h4.6v2.8h-4.6zM757.8 919.2h4.6v1.9h-4.6zM787 919.3h4.6v3.3h-4.6zM794.7 919.3h4.6v1.9h-4.6zM802.4 919.3h4.6v8.5h-4.6zM810.1 919.3h4.6v6h-4.6zM817.8 919.3h4.6v4.5h-4.6zM825.5 919.3h4.6v2.1h-4.6zM833.2 919.3h4.6v3h-4.6zM1077 187.5h4.6v1.1h-4.6zM1111.2 198.8h4.6v1.2h-4.6zM1134.3 187.5h4.6v2.2h-4.6zM1142 198.8h4.6v3h-4.6zM1149.8 187.5h4.6v1.8h-4.6zM1191.2 187.5h4.6v0.9h-4.6zM1206.6 187.5h4.6v3.8h-4.6zM1214.3 187.5h4.6v2h-4.6zM1222 187.5h4.6v1.1h-4.6zM1229.7 187.5h4.6v2.2h-4.6zM1237.4 187.5h4.6v3h-4.6zM1245.1 187.5h4.6v1.1h-4.6zM1252.8 187.5h4.6v3h-4.6zM1260.5 187.5h4.6v2.1h-4.6zM1268.2 187.5h4.6v1.1h-4.6zM1275.9 187.5h4.6v1.8h-4.6zM1283.6 187.5h4.6v3h-4.6zM1291.3 187.5h4.6v1.9h-4.6zM1299 187.5h4.6v1.9h-4.6zM1306.7 187.5h4.6v0.9h-4.6zM1318 187.5h4.6v1.3h-4.6zM1322.1 194.2h4.6v0.9h-4.6zM1337.5 187.5h4.6v4.2h-4.6zM1345.2 187.5h4.6v2.1h-4.6zM1352.9 187.5h4.6v1.8h-4.6zM1360.6 187.5h4.6v1.1h-4.6zM1368.3 187.5h4.6v1.1h-4.6zM1376 187.5h4.6v6.4h-4.6zM1383.7 187.5h4.6v1.9h-4.6zM1414.5 187.5h4.6v1.8h-4.6zM1422.2 187.5h4.6v0.9h-4.6zM1429.9 187.5h4.6v1.9h-4.6zM1437.6 187.5h4.6v7.6h-4.6zM1445.3 187.5h4.6v2h-4.6zM1453 187.5h4.6v1.9h-4.6zM1476.1 187.5h4.6v0.9h-4.6zM1483.8 187.5h4.6v1.9h-4.6zM1491.5 187.5h4.6v1.9h-4.6zM1499.2 187.5h4.6v0.9h-4.6zM1506.9 187.5h4.6v2.9h-4.6zM1522.3 187.5h4.6v0.9h-4.6zM1530 187.5h4.6v3.8h-4.6zM1540.8 187.5h4.6v1.1h-4.6zM1553.1 187.5h4.6v1.8h-4.6zM1576.2 187.5h4.6v0.9h-4.6zM1607 187.5h4.6v1.9h-4.6zM1635.5 187h4.6v5.5h-4.6zM1643.2 187h4.6v1.7h-4.6zM1650.9 187h4.6v5.2h-4.6zM1658.6 187h4.6v4.1h-4.6zM1666.3 187h4.6v1.9h-4.6zM1674 187h4.6v2.2h-4.6zM1704 189.5h4.6v1.4h-4.6zM1711.7 189.5h4.6v1.9h-4.6zM1719.4 189.5h4.6v4.3h-4.6zM1727.1 189.5h4.6v3.1h-4.6zM1734.8 189.5h4.6v7.2h-4.6zM1742.5 189.5h4.6v6.6h-4.6zM1766.1 189.8h4.6v4.2h-4.6zM1773.8 189.8h4.6v3.9h-4.6zM1781.5 189.8h4.6v8.2h-4.6zM1789.2 189.8h4.6v4h-4.6zM1796.9 189.8h4.6v4.1h-4.6zM1804.6 189.8h4.6v3.9h-4.6zM1812.3 189.8h4.6v3.1h-4.6zM1820 189.8h4.6v4.8h-4.6zM1827.7 189.8h4.6v3.1h-4.6zM1835.4 189.8h4.6v4.1h-4.6zM1843.1 189.8h4.6v4.4h-4.6zM994.2 748.2h4.6v3.8h-4.6zM1002 748.2h4.6v2.7h-4.6zM1009.6 748.2h4.6v3.3h-4.6zM1017.4 748.2h4.6v8.9h-4.6zM1025 748.2h4.6v4.8h-4.6zM1032.8 748.2h4.6v6.8h-4.6zM1040.5 748.2h4.6v0.9h-4.6zM1048.2 748.2h4.6v2.3h-4.6zM1078.2 817h4.6v4.7h-4.6zM1086 817h4.6v6.8h-4.6zM1093.7 748.2h4.6v0.8h-4.6zM1101.3 748.2h4.6v6.8h-4.6zM1127.2 748.2h4.6v3.8h-4.6zM1135 748.2h4.6v4h-4.6zM1142.7 748.2h4.6v3.3h-4.6zM1150.3 748.2h4.6v5.9h-4.6zM1158 748.2h4.6v4.8h-4.6zM1165.8 748.2h4.6v7.7h-4.6zM1173.5 748.2h4.6v3.5h-4.6zM1181.2 748.2h4.6v8.8h-4.6zM1196.5 748.2h4.6v6.6h-4.6zM1204.2 748.2h4.6v1.9h-4.6zM1212 748.2h4.6v5.6h-4.6zM1219.7 748.2h4.6v2.2h-4.6zM1227.3 748.2h4.6v6.6h-4.6zM1235 748.2h4.6v2.3h-4.6zM1242.8 748.2h4.6v5.8h-4.6zM1250.5 748.2h4.6v4h-4.6zM1258.2 748.2h4.6v2.3h-4.6zM1265.8 748.2h4.6v6.9h-4.6zM1291.2 748.2h4.6v11.3h-4.6zM1299 748.2h4.6v5.2h-4.6zM1306.7 748.2h4.6v11.7h-4.6zM1314.3 748.2h4.6v6.2h-4.6zM1336.8 748.2h4.6v1.9h-4.6zM1344.5 748.2h4.6v1.8h-4.6zM1352.2 757.5h4.6v3.6h-4.6zM1356.2 748.2h4.6v1.7h-4.6zM1359.8 757.5h4.6v4.5h-4.6zM1367.5 748.2h4.6v6.9h-4.6zM1375.2 748.2h4.6v6.7h-4.6zM1403.2 748.2h4.6v4.9h-4.6zM1411 748.2h4.6v3.5h-4.6zM1418.7 748.2h4.6v3.7h-4.6zM1426.3 748.2h4.6v1.1h-4.6zM1434 748.2h4.6v6.7h-4.6zM1441.8 748.2h4.6v3.9h-4.6zM1449.5 748.2h4.6v1.8h-4.6zM1477.5 748.2h4.6v8.1h-4.6zM1485.2 748.2h4.6v0.4h-4.6zM1492.9 748.2h4.6v3.3h-4.6zM1500.6 748.2h4.6v2.4h-4.6zM1527.8 748.2h4.6v2.2h-4.6zM1535.5 748.2h4.6v2.8h-4.6zM1543.2 748.2h4.6v7.8h-4.6zM1550.8 748.2h4.6v5.7h-4.6zM1558.5 748.2h4.6v10.5h-4.6zM1566.2 748.2h4.6v4.4h-4.6zM1574 748.2h4.6v5.7h-4.6zM1581.7 748.2h4.6v2.9h-4.6zM1589.3 748.2h4.6v2.6h-4.6zM1614 748.2h4.6v1h-4.6zM1621.7 748.2h4.6v11h-4.6zM1629.4 748.2h4.6v3.1h-4.6zM1637.1 748.2h4.6v2.9h-4.6zM1644.8 748.2h4.6v6.4h-4.6zM1652.5 748.2h4.6v7.8h-4.6zM1677.5 748.2h4.6v3.4h-4.6zM1685.2 748.2h4.6v4.8h-4.6zM1692.9 791.8h4.6v0.8h-4.6zM1700.6 791.8h4.6v0.9h-4.6zM1708.3 748.2h4.6v3h-4.6zM1716 748.2h4.6v0.8h-4.6zM1723.7 748.2h4.6v0.3h-4.6zM1731.4 748.2h4.6v0.3h-4.6zM1739.1 748.2h4.6v1.4h-4.6zM1767 748.6h4.6v0.6h-4.6zM1782.4 748.6h4.6v1.4h-4.6zM1805.5 748.6h4.6v0.4h-4.6zM1820.9 748.6h4.6v7.2h-4.6zM1828.6 748.6h4.6v0.6h-4.6zM39.2 1915h4.6v6.7h-4.6zM47 1918.8h4.6v11.2h-4.6zM54.6 1915h4.6v2.9h-4.6zM62.4 1915h4.6v11.1h-4.6zM70 1915h4.6v3.8h-4.6zM77.8 1915h4.6v4.7h-4.6zM101 1915h4.6v5.9h-4.6zM108.7 1915h4.6v4.3h-4.6zM116.4 1915h4.6v3.4h-4.6zM124.1 1915h4.6v2.3h-4.6zM131.8 1915h4.6v6.8h-4.6zM139.5 1915h4.6v1.8h-4.6zM147.2 1915h4.6v5.8h-4.6zM154.9 1915h4.6v5.9h-4.6zM162.6 1915h4.6v6.7h-4.6zM170.3 1915h4.6v8.7h-4.6zM178 1915h4.6v4.7h-4.6zM200.5 1920.8h4.6v8.9h-4.6zM204.5 1915h4.6v1h-4.6zM208.2 1920.8h4.6v6.3h-4.6zM215.9 1920h4.6v14.2h-4.6zM220 1915h4.6v0.9h-4.6zM223.6 1920h4.6v2.7h-4.6zM231.3 1915h4.6v5.8h-4.6zM239 1915h4.6v9.6h-4.6zM270 1915h4.6v6.4h-4.6zM281.2 1915h4.6v6.8h-4.6zM293 1915h4.6v6.5h-4.6zM300.8 1915h4.6v6.5h-4.6zM308.2 1915h4.6v6.7h-4.6zM318.2 1931.2h4.6v2.9h-4.6zM326.2 1926.2h4.6v2.8h-4.6zM331.2 1920.8h4.6v1h-4.6zM336.5 1926.2h4.6v5.4h-4.6zM336.8 1915h4.6v1h-4.6zM352.5 1915h4.6v5.5h-4.6zM361 1925h4.6v5.5h-4.6zM367 1920h4.6v0.8h-4.6zM372.5 1925h4.6v2.5h-4.6zM373.2 1915h4.6v0.9h-4.6zM380.5 1920h4.6v1.7h-4.6zM391.8 1915h4.6v7.9h-4.6zM402.5 1924.5h4.6v7.2h-4.6zM407 1915h4.6v1.6h-4.6zM411.2 1924.5h4.6v8.1h-4.6zM422.5 1925.8h4.6v4.3h-4.6zM426.8 1915h4.6v2h-4.6zM434.2 1925h4.6v4.7h-4.6zM444.2 1915h4.6v2.6h-4.6zM455.8 1915h4.6v2.9h-4.6zM466.2 1915h4.6v4.9h-4.6zM476.2 1915h4.6v1.8h-4.6zM484.5 1915h4.6v3.8h-4.6zM494.2 1915h4.6v2.9h-4.6zM504.2 1915h4.6v2.9h-4.6zM515.8 1915h4.6v6.5h-4.6zM523.5 1915h4.6v3.7h-4.6zM531.2 1915h4.6v7.5h-4.6zM564.5 1916.2h4.6v2.6h-4.6zM572.2 1916.2h4.6v1.8h-4.6zM580 1915h4.6v4.7h-4.6zM587.8 1915h4.6v0.9h-4.6zM599.2 1915h4.6v2h-4.6zM603 1925h4.6v2.7h-4.6zM610.5 1915h4.6v1h-4.6zM618.2 1915h4.6v0.9h-4.6zM633.8 1915h4.6v3.8h-4.6zM641.5 1915h4.6v2h-4.6zM649 1915h4.6v3.6h-4.6zM656.8 1915h4.6v3h-4.6zM664.5 1915h4.6v2h-4.6zM672.2 1915h4.6v5.9h-4.6zM680 1915h4.6v6.7h-4.6zM695.2 1918.8h4.6v2.5h-4.6zM706.8 1920h4.6v6.2h-4.6zM703 1944.5h4.6v4h-4.6zM710.8 1944.5h4.6v5.6h-4.6zM718.5 1915h4.6v5.7h-4.6zM726.2 1915h4.6v3.8h-4.6zM733.8 1915h4.6v3.8h-4.6zM741.5 1915h4.6v3h-4.6zM749.2 1915h4.6v2.9h-4.6zM757 1915h4.6v3.8h-4.6zM764.5 1915h4.6v0.9h-4.6zM772.2 1915h4.6v4.9h-4.6zM780 1915h4.6v7h-4.6zM804.4 1921.4h4.6v11.1h-4.6zM812.1 1918.1h4.6v15.9h-4.6zM819.8 1919.8h4.6v12.5h-4.6zM827.5 1929.1h4.6v10.6h-4.6zM835.2 1925.8h4.6v20.2h-4.6zM842.9 1933.9h4.6v12.5h-4.6zM847.5 1915.7h4.6v2.4h-4.6zM850.6 1925.8h4.6v6.2h-4.6zM858.3 1921.9h4.6v20.7h-4.6zM866 1933.9h4.6v9.1h-4.6zM873.7 1915.7h4.6v4.3h-4.6zM881.4 1921.9h4.6v7.5h-4.6zM889.1 1919.5h4.6v14.4h-4.6z"/>
<path fill="#E283C1" d="M2 231h4.6v10.3h-4.6zM9.7 225.2h4.6v2.6h-4.6zM17.4 225.3h4.6v2.7h-4.6zM25.1 226.4h4.6v4.2h-4.6zM32.8 225.2h4.6v2.6h-4.6zM40.5 231h4.6v10.3h-4.6zM48.2 225.5h4.6v2.9h-4.6zM55.9 227.7h4.6v6h-4.6zM63.6 227.4h4.6v5.6h-4.6zM71.3 230.7h4.6v9.9h-4.6zM97.5 229.8h4.6v8.7h-4.6zM105.2 227.6h4.6v5.7h-4.6zM112.9 232.5h4.6v12.4h-4.6zM120.6 229.5h4.6v8.3h-4.6zM147.8 228.3h4.6v6.8h-4.6zM155.4 229.6h4.6v8.4h-4.6zM163.2 226.3h4.6v4.1h-4.6zM170.8 227h4.6v5h-4.6zM178.6 227.1h4.6v5.2h-4.6zM186.2 227.9h4.6v6.2h-4.6zM193.9 224.9h4.6v2.2h-4.6zM201.7 226h4.6v3.6h-4.6zM228.8 226.6h4.6v4.5h-4.6zM236.4 226.2h4.6v4h-4.6zM244.2 226.2h4.6v4h-4.6zM251.8 228.2h4.6v6.6h-4.6zM259.6 226.1h4.6v3.9h-4.6zM267.2 227.4h4.6v5.5h-4.6zM274.9 226.2h4.6v4h-4.6zM282.6 230.7h4.6v2.7h-4.6zM286.8 224.3h4.6v1.4h-4.6zM298.1 224.3h4.6v1.4h-4.6zM305.8 229.9h4.6v8.9h-4.6zM313.4 226.1h4.6v3.9h-4.6zM321.1 230h4.6v9h-4.6zM328.9 228.9h4.6v7.5h-4.6zM336.6 225.2h4.6v2.6h-4.6zM351.9 226.6h4.6v4.5h-4.6zM359.6 227h4.6v5h-4.6zM367.4 230h4.6v9h-4.6zM375.1 231.2h4.6v10.6h-4.6zM382.8 233.2h4.6v13.2h-4.6zM408.5 230.6h4.6v9.8h-4.6zM416.2 228.2h4.6v6.7h-4.6zM423.9 224.4h4.6v1.5h-4.6zM431.6 224h4.6v1.1h-4.6zM439.3 225.9h4.6v3.5h-4.6zM447 228.3h4.6v6.8h-4.6zM474.5 228.8h4.6v7.3h-4.6zM482.2 229.9h4.6v8.9h-4.6zM489.9 228.1h4.6v6.4h-4.6zM497.6 227.3h4.6v5.4h-4.6zM505.3 228.6h4.6v7.1h-4.6zM513 230.9h4.6v10.2h-4.6zM520.7 224.3h4.6v1.4h-4.6zM528.4 226.3h4.6v4.1h-4.6zM555.5 225.6h4.6v3.1h-4.6zM563.2 226.6h4.6v4.5h-4.6zM570.9 228.9h4.6v7.5h-4.6zM578.6 227.3h4.6v5.4h-4.6zM586.3 234.5h4.6v15h-4.6zM594 227.2h4.6v5.2h-4.6zM601.7 227.3h4.6v5.4h-4.6zM609.4 229.4h4.6v8.2h-4.6zM617.1 227.3h4.6v5.4h-4.6zM624.8 231.5h4.6v11h-4.6zM650.5 229h4.6v7.6h-4.6zM658.2 229.5h4.6v8.3h-4.6zM665.9 227.9h4.6v6.2h-4.6zM673.6 230.2h4.6v9.2h-4.6zM681.3 230h4.6v9h-4.6zM689 226.4h4.6v4.2h-4.6zM696.7 225.7h4.6v3.3h-4.6zM704.4 229.6h4.6v8.4h-4.6zM731 232.4h4.6v12.2h-4.6zM738.7 231.8h4.6v11.3h-4.6zM746.4 225.3h4.6v2.7h-4.6zM754.1 231.5h4.6v11h-4.6zM761.8 233h4.6v13h-4.6zM769.5 231.8h4.6v11.3h-4.6zM777.2 227.4h4.6v5.5h-4.6zM805.8 226.7h4.6v4.9h-4.6zM813.5 228.6h4.6v7.3h-4.6zM821.2 227.8h4.6v6.3h-4.6zM828.9 227.8h4.6v6.3h-4.6zM836.6 228h4.6v6.5h-4.6zM15.5 923.4h4.6v7.8h-4.6zM23.2 921.3h4.6v5.1h-4.6zM30.9 922.6h4.6v6.8h-4.6zM59.2 924.2h4.6v6.6h-4.6zM67 920.2h4.6v1.3h-4.6zM74.7 925.1h4.6v7.8h-4.6zM82.3 923.2h4.6v5.3h-4.6zM90 925h4.6v7.7h-4.6zM97.8 922.3h4.6v4.1h-4.6zM105.5 920.2h4.6v1.3h-4.6zM113.2 924.1h4.6v6.5h-4.6zM142 924.3h4.6v6.7h-4.6zM149.7 924.6h4.6v7.1h-4.6zM157.4 925.3h4.6v8.1h-4.6zM165.1 922.1h4.6v3.9h-4.6zM172.8 921.4h4.6v2.8h-4.6zM180.5 922.9h4.6v4.9h-4.6zM188.2 922.5h4.6v4.3h-4.6zM195.9 921.1h4.6v2.5h-4.6zM223 926h4.6v2.3h-4.6zM227 920.2h4.6v1.3h-4.6zM238.4 921.1h4.6v2.5h-4.6zM253.8 935.4h4.6v1.2h-4.6zM257.8 922.3h4.6v4.1h-4.6zM261.5 937.4h4.6v3.9h-4.6zM269.2 920.2h4.6v1.3h-4.6zM276.9 921.1h4.6v2.5h-4.6zM284.6 924h4.6v6.4h-4.6zM292.3 923.9h4.6v6.2h-4.6zM300 921.9h4.6v3.6h-4.6zM307.7 920.9h4.6v2.2h-4.6zM315.4 924.9h4.6v7.6h-4.6zM327 922.3h4.6v4.1h-4.6zM338.5 922.9h4.6v4.9h-4.6zM346.2 923.9h4.6v6.2h-4.6zM353.9 920.1h4.6v1.1h-4.6zM361.6 932h4.6v3.7h-4.6zM365.5 921.2h4.6v2.7h-4.6zM369.3 931h4.6v2.3h-4.6zM377 927.8h4.6v4.8h-4.6zM381 920.1h4.6v1.1h-4.6zM384.7 926.1h4.6v2.5h-4.6zM392.4 923.9h4.6v6.2h-4.6zM400.1 922.8h4.6v4.8h-4.6zM407.8 921.9h4.6v3.5h-4.6zM415.5 924.9h4.6v7.6h-4.6zM423.2 920.2h4.6v1.3h-4.6zM438.6 923.2h4.6v5.2h-4.6zM446.3 921.2h4.6v2.7h-4.6zM454 922.1h4.6v3.9h-4.6zM461.7 920.1h4.6v1.1h-4.6zM473.2 921.2h4.6v2.7h-4.6zM484.8 920.1h4.6v1.1h-4.6zM492.5 922.9h4.6v4.9h-4.6zM500.2 921.1h4.6v2.5h-4.6zM515.6 921.1h4.6v2.5h-4.6zM523.3 926.1h4.6v2.5h-4.6zM527 920.2h4.6v1.3h-4.6zM546.4 921.1h4.6v2.5h-4.6zM554.1 921.9h4.6v3.6h-4.6zM561.8 923h4.6v5h-4.6zM569.5 922.3h4.6v4.1h-4.6zM577.2 923h4.6v5h-4.6zM584.9 922.7h4.6v4.6h-4.6zM592.6 923.9h4.6v6.2h-4.6zM618.2 925.3h4.6v8.1h-4.6zM626 921.1h4.6v2.5h-4.6zM633.6 927h4.6v10.4h-4.6zM641.4 923h4.6v5h-4.6zM669.2 923.5h4.6v5.7h-4.6zM677 926.1h4.6v9.2h-4.6zM684.6 925h4.6v7.7h-4.6zM692.4 926.9h4.6v10.1h-4.6zM719.2 922.7h4.6v4.6h-4.6zM727 921h4.6v2.3h-4.6zM734.6 922.1h4.6v3.9h-4.6zM742.4 923h4.6v5h-4.6zM750 922h4.6v3.7h-4.6zM757.8 921.1h4.6v2.5h-4.6zM787 922.6h4.6v4.5h-4.6zM794.7 921.2h4.6v2.6h-4.6zM802.4 927.8h4.6v11.3h-4.6zM810.1 925.3h4.6v8h-4.6zM817.8 923.8h4.6v6h-4.6zM825.5 921.4h4.6v2.8h-4.6zM833.2 922.3h4.6v4.1h-4.6zM1077 188.6h4.6v1.4h-4.6zM1111.2 200h4.6v1.6h-4.6zM1134.3 189.7h4.6v2.9h-4.6zM1142 201.8h4.6v4.1h-4.6zM1149.8 189.3h4.6v2.4h-4.6zM1191.2 188.4h4.6v1.3h-4.6zM1206.6 191.3h4.6v5h-4.6zM1214.3 189.5h4.6v2.7h-4.6zM1222 188.6h4.6v1.4h-4.6zM1229.7 189.7h4.6v2.9h-4.6zM1237.4 190.5h4.6v4h-4.6zM1245.1 188.6h4.6v1.4h-4.6zM1252.8 190.5h4.6v4h-4.6zM1260.5 189.6h4.6v2.8h-4.6zM1268.2 188.6h4.6v1.4h-4.6zM1275.9 189.3h4.6v2.4h-4.6zM1283.6 190.5h4.6v4.1h-4.6zM1291.3 189.4h4.6v2.6h-4.6zM1299 189.4h4.6v2.6h-4.6zM1306.7 188.4h4.6v1.3h-4.6zM1318 188.8h4.6v1.8h-4.6zM1322.1 195.2h4.6v1.3h-4.6zM1337.5 191.7h4.6v5.6h-4.6zM1345.2 189.6h4.6v2.8h-4.6zM1352.9 189.3h4.6v2.4h-4.6zM1360.6 188.6h4.6v1.4h-4.6zM1368.3 188.6h4.6v1.4h-4.6zM1376 193.9h4.6v8.5h-4.6zM1383.7 189.4h4.6v2.6h-4.6zM1414.5 189.3h4.6v2.4h-4.6zM1422.2 188.4h4.6v1.3h-4.6zM1429.9 189.4h4.6v2.6h-4.6zM1437.6 195.1h4.6v10.2h-4.6zM1445.3 189.5h4.6v2.7h-4.6zM1453 189.4h4.6v2.6h-4.6zM1476.1 188.4h4.6v1.3h-4.6zM1483.8 189.4h4.6v2.6h-4.6zM1491.5 189.4h4.6v2.6h-4.6zM1499.2 188.4h4.6v1.3h-4.6zM1506.9 190.4h4.6v3.9h-4.6zM1522.3 188.4h4.6v1.3h-4.6zM1530 191.3h4.6v5.1h-4.6zM1540.8 188.6h4.6v1.4h-4.6zM1553.1 189.3h4.6v2.4h-4.6zM1576.2 188.4h4.6v1.3h-4.6zM1607 189.4h4.6v2.6h-4.6zM1635.5 192.5h4.6v7.3h-4.6zM1643.2 188.7h4.6v2.2h-4.6zM1650.9 192.2h4.6v6.9h-4.6zM1658.6 191.1h4.6v5.5h-4.6zM1666.3 188.9h4.6v2.6h-4.6zM1674 189.2h4.6v2.9h-4.6zM1704 190.9h4.6v1.9h-4.6zM1711.7 191.4h4.6v2.6h-4.6zM1719.4 193.8h4.6v5.7h-4.6zM1727.1 192.7h4.6v4.2h-4.6zM1734.8 196.7h4.6v9.6h-4.6zM1742.5 196.1h4.6v8.8h-4.6zM1766.1 194h4.6v5.6h-4.6zM1773.8 193.7h4.6v5.2h-4.6zM1781.5 198h4.6v10.9h-4.6zM1789.2 193.8h4.6v5.4h-4.6zM1796.9 193.9h4.6v5.4h-4.6zM1804.6 193.7h4.6v5.2h-4.6zM1812.3 192.9h4.6v4.1h-4.6zM1820 194.6h4.6v6.4h-4.6zM1827.7 192.9h4.6v4.1h-4.6zM1835.4 193.9h4.6v5.5h-4.6zM1843.1 194.2h4.6v5.8h-4.6zM994.2 752h4.6v5h-4.6zM1002 751h4.6v3.6h-4.6zM1009.6 751.5h4.6v4.3h-4.6zM1017.4 757.1h4.6v11.8h-4.6zM1025 753.1h4.6v6.4h-4.6zM1032.8 755.1h4.6v9.1h-4.6zM1040.5 749.1h4.6v1.2h-4.6zM1048.2 750.6h4.6v3.1h-4.6zM1078.2 821.7h4.6v6.3h-4.6zM1086 823.8h4.6v9.1h-4.6zM1093.7 749h4.6v1.1h-4.6zM1101.3 755h4.6v9h-4.6zM1127.2 752h4.6v5h-4.6zM1135 752.3h4.6v5.4h-4.6zM1142.7 751.5h4.6v4.3h-4.6zM1150.3 754.1h4.6v7.8h-4.6zM1158 753.1h4.6v6.4h-4.6zM1165.8 756h4.6v10.3h-4.6zM1173.5 751.8h4.6v4.7h-4.6zM1181.2 757h4.6v11.7h-4.6zM1196.5 754.8h4.6v8.8h-4.6zM1204.2 750.2h4.6v2.6h-4.6zM1212 753.9h4.6v7.5h-4.6zM1219.7 750.5h4.6v2.9h-4.6zM1227.3 754.8h4.6v8.8h-4.6zM1235 750.6h4.6v3.1h-4.6zM1242.8 754h4.6v7.7h-4.6zM1250.5 752.3h4.6v5.4h-4.6zM1258.2 750.6h4.6v3.1h-4.6zM1265.8 755.2h4.6v9.2h-4.6zM1291.2 759.5h4.6v15.1h-4.6zM1299 753.5h4.6v7h-4.6zM1306.7 759.9h4.6v15.5h-4.6zM1314.3 754.5h4.6v8.3h-4.6zM1336.8 750.2h4.6v2.6h-4.6zM1344.5 750h4.6v2.4h-4.6zM1352.2 761.1h4.6v4.8h-4.6zM1356.2 749.9h4.6v2.2h-4.6zM1359.8 762h4.6v6h-4.6zM1367.5 755.2h4.6v9.2h-4.6zM1375.2 754.9h4.6v8.9h-4.6zM1403.2 753.2h4.6v6.6h-4.6zM1411 751.8h4.6v4.7h-4.6zM1418.7 751.9h4.6v4.9h-4.6zM1426.3 749.3h4.6v1.4h-4.6zM1434 754.9h4.6v8.9h-4.6zM1441.8 752.1h4.6v5.2h-4.6zM1449.5 750.1h4.6v2.4h-4.6zM1477.5 756.4h4.6v10.8h-4.6zM1485.2 748.6h4.6v0.5h-4.6zM1492.9 751.5h4.6v4.3h-4.6zM1500.6 750.6h4.6v3.2h-4.6zM1527.8 750.5h4.6v2.9h-4.6zM1535.5 751.1h4.6v3.8h-4.6zM1543.2 756.1h4.6v10.4h-4.6zM1550.8 754h4.6v7.6h-4.6zM1558.5 758.8h4.6v14h-4.6zM1566.2 752.7h4.6v5.9h-4.6zM1574 754h4.6v7.6h-4.6zM1581.7 751.1h4.6v3.9h-4.6zM1589.3 750.8h4.6v3.4h-4.6zM1614 749.2h4.6v1.3h-4.6zM1621.7 759.3h4.6v14.7h-4.6zM1629.4 751.3h4.6v4.1h-4.6zM1637.1 751.1h4.6v3.9h-4.6zM1644.8 754.7h4.6v8.5h-4.6zM1652.5 756.1h4.6v10.4h-4.6zM1677.5 751.7h4.6v4.6h-4.6zM1685.2 753.1h4.6v6.4h-4.6zM1692.9 792.5h4.6v1h-4.6zM1700.6 792.7h4.6v1.3h-4.6zM1708.3 751.2h4.6v4h-4.6zM1716 749h4.6v1.1h-4.6zM1723.7 748.5h4.6v0.4h-4.6zM1731.4 748.5h4.6v0.4h-4.6zM1739.1 749.7h4.6v1.9h-4.6zM1767 749.2h4.6v0.8h-4.6zM1782.4 750h4.6v1.9h-4.6zM1805.5 749h4.6v0.6h-4.6zM1820.9 755.8h4.6v9.6h-4.6zM1828.6 749.2h4.6v0.8h-4.6zM39.2 1921.7h4.6v8.9h-4.6zM47 1930h4.6v16.2h-4.6zM54.6 1917.9h4.6v3.9h-4.6zM62.4 1926.1h4.6v14.8h-4.6zM70 1918.8h4.6v5.1h-4.6zM77.8 1919.7h4.6v6.3h-4.6zM101 1920.9h4.6v7.9h-4.6zM108.7 1919.3h4.6v5.7h-4.6zM116.4 1918.4h4.6v4.6h-4.6zM124.1 1917.3h4.6v3h-4.6zM131.8 1921.8h4.6v9.1h-4.6zM139.5 1916.8h4.6v2.5h-4.6zM147.2 1920.8h4.6v7.7h-4.6zM154.9 1920.9h4.6v7.8h-4.6zM162.6 1921.7h4.6v9h-4.6zM170.3 1923.7h4.6v11.6h-4.6zM178 1919.7h4.6v6.3h-4.6zM200.5 1929.7h4.6v11.9h-4.6zM204.5 1916h4.6v1.4h-4.6zM208.2 1927h4.6v8.4h-4.6zM215.9 1934.2h4.6v18.9h-4.6zM220 1915.9h4.6v1.3h-4.6zM223.6 1922.7h4.6v3.6h-4.6zM231.3 1920.8h4.6v7.7h-4.6zM239 1924.6h4.6v12.7h-4.6zM270 1921.4h4.6v8.5h-4.6zM281.2 1921.8h4.6v9.1h-4.6zM293 1921.5h4.6v8.6h-4.6zM300.8 1921.5h4.6v8.6h-4.6zM308.2 1921.7h4.6v8.9h-4.6zM318.2 1934.1h4.6v3.9h-4.6zM326.2 1929h4.6v3.7h-4.6zM331.2 1921.8h4.6v1.4h-4.6zM336.5 1931.7h4.6v7.2h-4.6zM336.8 1916h4.6v1.4h-4.6zM352.5 1920.5h4.6v7.4h-4.6zM361 1930.5h4.6v7.4h-4.6zM367 1920.8h4.6v1h-4.6zM372.5 1927.5h4.6v3.4h-4.6zM373.2 1915.9h4.6v1.2h-4.6zM380.5 1921.7h4.6v2.2h-4.6zM391.8 1922.9h4.6v10.5h-4.6zM402.5 1931.7h4.6v9.6h-4.6zM407 1916.6h4.6v2.1h-4.6zM411.2 1932.6h4.6v10.9h-4.6zM422.5 1930.1h4.6v5.7h-4.6zM426.8 1917h4.6v2.7h-4.6zM434.2 1929.7h4.6v6.3h-4.6zM444.2 1917.6h4.6v3.5h-4.6zM455.8 1917.9h4.6v3.9h-4.6zM466.2 1919.9h4.6v6.5h-4.6zM476.2 1916.8h4.6v2.5h-4.6zM484.5 1918.8h4.6v5.1h-4.6zM494.2 1917.9h4.6v3.9h-4.6zM504.2 1917.9h4.6v3.9h-4.6zM515.8 1921.5h4.6v8.6h-4.6zM523.5 1918.7h4.6v4.9h-4.6zM531.2 1922.5h4.6v9.9h-4.6zM564.5 1918.9h4.6v3.5h-4.6zM572.2 1918.1h4.6v2.5h-4.6zM580 1919.7h4.6v6.3h-4.6zM587.8 1915.9h4.6v1.2h-4.6zM599.2 1917h4.6v2.7h-4.6zM603 1927.7h4.6v3.6h-4.6zM610.5 1916h4.6v1.4h-4.6zM618.2 1915.9h4.6v1.3h-4.6zM633.8 1918.8h4.6v5.1h-4.6zM641.5 1917h4.6v2.7h-4.6zM649 1918.6h4.6v4.8h-4.6zM656.8 1918h4.6v4h-4.6zM664.5 1917h4.6v2.7h-4.6zM672.2 1920.9h4.6v7.8h-4.6zM680 1921.7h4.6v8.9h-4.6zM695.2 1921.2h4.6v1.8h-4.6zM706.8 1926.2h4.6v6.2h-4.6zM703 1948.5h4.6v5.4h-4.6zM710.8 1950.1h4.6v7.5h-4.6zM718.5 1920.7h4.6v7.6h-4.6zM726.2 1918.8h4.6v5.1h-4.6zM733.8 1918.8h4.6v5.1h-4.6zM741.5 1918h4.6v4h-4.6zM749.2 1917.9h4.6v3.9h-4.6zM757 1918.8h4.6v5h-4.6zM764.5 1915.9h4.6v1.3h-4.6zM772.2 1919.9h4.6v6.5h-4.6zM780 1922h4.6v9.3h-4.6zM804.4 1932.5h4.6v12.5h-4.6zM812.1 1933.9h4.6v16.3h-4.6zM819.8 1932.3h4.6v13.7h-4.6zM827.5 1939.7h4.6v10.9h-4.6zM835.2 1946h4.6v20.7h-4.6zM842.9 1946.4h4.6v12h-4.6zM850.6 1932h4.6v5.8h-4.6zM858.3 1942.6h4.6v22.6h-4.6zM866 1943.1h4.6v8.7h-4.6zM873.7 1920h4.6v3.8h-4.6zM881.4 1929.4h4.6v7.9h-4.6zM889.1 1933.9h4.6v15.4h-4.6z"/>
<path fill="#9FD15C" d="M2 241.3h4.6v5.1h-4.6zM9.7 227.8h4.6v1.3h-4.6zM17.4 228h4.6v1.4h-4.6zM25.1 230.6h4.6v2.1h-4.6zM32.8 227.8h4.6v1.3h-4.6zM40.5 241.3h4.6v5.1h-4.6zM48.2 228.4h4.6v1.5h-4.6zM55.9 233.7h4.6v3h-4.6zM63.6 233.1h4.6v2.8h-4.6zM71.3 240.6h4.6v5h-4.6zM97.5 238.4h4.6v4.3h-4.6zM105.2 233.3h4.6v2.9h-4.6zM112.9 244.9h4.6v6.2h-4.6zM120.6 237.8h4.6v4.2h-4.6zM147.8 235.1h4.6v3.4h-4.6zM155.4 237.9h4.6v4.2h-4.6zM163.2 230.5h4.6v2.1h-4.6zM170.8 232.1h4.6v2.5h-4.6zM178.6 232.3h4.6v2.6h-4.6zM186.2 234.2h4.6v3.1h-4.6zM193.9 227.2h4.6v1.1h-4.6zM201.7 229.6h4.6v1.8h-4.6zM228.8 231.1h4.6v2.2h-4.6zM236.4 230.2h4.6v2h-4.6zM244.2 230.2h4.6v2h-4.6zM251.8 234.8h4.6v3.3h-4.6zM259.6 230h4.6v1.9h-4.6zM267.2 232.9h4.6v2.8h-4.6zM274.9 230.2h4.6v2h-4.6zM282.6 233.4h4.6v1.3h-4.6zM286.8 225.7h4.6v0.7h-4.6zM298.1 225.7h4.6v0.7h-4.6zM305.8 238.8h4.6v4.4h-4.6zM313.4 230h4.6v1.9h-4.6zM321.1 239.1h4.6v4.5h-4.6zM328.9 236.4h4.6v3.7h-4.6zM336.6 227.8h4.6v1.3h-4.6zM351.9 231.1h4.6v2.2h-4.6zM359.6 232.1h4.6v2.5h-4.6zM367.4 239.1h4.6v4.5h-4.6zM375.1 241.9h4.6v5.3h-4.6zM382.8 246.4h4.6v6.6h-4.6zM408.5 240.4h4.6v4.9h-4.6zM416.2 234.9h4.6v3.3h-4.6zM423.9 225.9h4.6v0.8h-4.6zM431.6 225.1h4.6v0.5h-4.6zM439.3 229.4h4.6v1.8h-4.6zM447 235.1h4.6v3.4h-4.6zM474.5 236.1h4.6v3.7h-4.6zM482.2 238.8h4.6v4.4h-4.6zM489.9 234.5h4.6v3.2h-4.6zM497.6 232.7h4.6v2.7h-4.6zM505.3 235.7h4.6v3.6h-4.6zM513 241h4.6v5.1h-4.6zM520.7 225.7h4.6v0.7h-4.6zM528.4 230.5h4.6v2.1h-4.6zM555.5 228.6h4.6v1.5h-4.6zM563.2 231.1h4.6v2.2h-4.6zM570.9 236.4h4.6v3.7h-4.6zM578.6 232.7h4.6v2.7h-4.6zM586.3 249.5h4.6v7.5h-4.6zM594 232.4h4.6v2.6h-4.6zM601.7 232.7h4.6v2.7h-4.6zM609.4 237.6h4.6v4.1h-4.6zM617.1 232.7h4.6v2.7h-4.6zM624.8 242.5h4.6v5.5h-4.6zM650.5 236.6h4.6v3.8h-4.6zM658.2 237.8h4.6v4.2h-4.6zM665.9 234.2h4.6v3.1h-4.6zM673.6 239.4h4.6v4.6h-4.6zM681.3 239.1h4.6v4.5h-4.6zM689 230.6h4.6v2.1h-4.6zM696.7 229h4.6v1.6h-4.6zM704.4 237.9h4.6v4.2h-4.6zM731 244.7h4.6v6.1h-4.6zM738.7 243.1h4.6v5.7h-4.6zM746.4 228h4.6v1.4h-4.6zM754.1 242.5h4.6v5.5h-4.6zM761.8 245.9h4.6v6.5h-4.6zM769.5 243.1h4.6v5.7h-4.6zM777.2 232.9h4.6v2.8h-4.6zM805.8 231.6h4.6v2.4h-4.6zM813.5 235.9h4.6v3.7h-4.6zM821.2 234.1h4.6v3.1h-4.6zM828.9 234.1h4.6v3.1h-4.6zM836.6 234.5h4.6v3.3h-4.6zM15.5 931.2h4.6v3.9h-4.6zM23.2 926.4h4.6v2.6h-4.6zM30.9 929.4h4.6v3.4h-4.6zM59.2 930.9h4.6v3.3h-4.6zM67 921.5h4.6v0.6h-4.6zM74.7 932.8h4.6v3.9h-4.6zM82.3 928.6h4.6v2.7h-4.6zM90 932.7h4.6v3.9h-4.6zM97.8 926.4h4.6v2h-4.6zM105.5 921.5h4.6v0.6h-4.6zM113.2 930.6h4.6v3.3h-4.6zM142 931h4.6v3.4h-4.6zM149.7 931.6h4.6v3.5h-4.6zM157.4 933.5h4.6v4.1h-4.6zM165.1 926h4.6v1.9h-4.6zM172.8 924.1h4.6v1.4h-4.6zM180.5 927.8h4.6v2.5h-4.6zM188.2 926.7h4.6v2.1h-4.6zM195.9 923.7h4.6v1.3h-4.6zM223 928.3h4.6v1.2h-4.6zM227 921.5h4.6v0.6h-4.6zM238.4 923.5h4.6v1.2h-4.6zM253.8 936.6h4.6v0.6h-4.6zM257.8 926.4h4.6v2h-4.6zM261.5 941.2h4.6v1.9h-4.6zM269.2 921.5h4.6v0.6h-4.6zM276.9 923.5h4.6v1.2h-4.6zM284.6 930.4h4.6v3.2h-4.6zM292.3 930h4.6v3.1h-4.6zM300 925.5h4.6v1.8h-4.6zM307.7 923h4.6v1.1h-4.6zM315.4 932.5h4.6v3.8h-4.6zM327 926.4h4.6v2h-4.6zM338.5 927.8h4.6v2.5h-4.6zM346.2 930h4.6v3.1h-4.6zM353.9 921.2h4.6v0.6h-4.6zM361.6 935.7h4.6v1.9h-4.6zM365.5 923.9h4.6v1.3h-4.6zM369.3 933.3h4.6v1.2h-4.6zM377 932.6h4.6v2.4h-4.6zM381 921.2h4.6v0.6h-4.6zM384.7 928.5h4.6v1.2h-4.6zM392.4 930h4.6v3.1h-4.6zM400.1 927.6h4.6v2.4h-4.6zM407.8 925.4h4.6v1.8h-4.6zM415.5 932.5h4.6v3.8h-4.6zM423.2 921.5h4.6v0.6h-4.6zM438.6 928.4h4.6v2.6h-4.6zM446.3 923.9h4.6v1.3h-4.6zM454 926h4.6v1.9h-4.6zM461.7 921.2h4.6v0.6h-4.6zM473.2 923.9h4.6v1.3h-4.6zM484.8 921.2h4.6v0.6h-4.6zM492.5 927.8h4.6v2.5h-4.6zM500.2 923.5h4.6v1.2h-4.6zM515.6 923.5h4.6v1.2h-4.6zM523.3 928.7h4.6v1.3h-4.6zM527 921.5h4.6v0.6h-4.6zM546.4 923.5h4.6v1.2h-4.6zM554.1 925.5h4.6v1.8h-4.6zM561.8 927.9h4.6v2.5h-4.6zM569.5 926.4h4.6v2h-4.6zM577.2 927.9h4.6v2.5h-4.6zM584.9 927.2h4.6v2.3h-4.6zM592.6 930h4.6v3.1h-4.6zM618.2 933.5h4.6v4.1h-4.6zM626 923.5h4.6v1.2h-4.6zM633.6 937.4h4.6v5.2h-4.6zM641.4 927.9h4.6v2.5h-4.6zM669.2 929.2h4.6v2.8h-4.6zM677 935.3h4.6v4.6h-4.6zM684.6 932.7h4.6v3.9h-4.6zM692.4 937h4.6v5.1h-4.6zM719.2 927.2h4.6v2.3h-4.6zM727 923.3h4.6v1.2h-4.6zM734.6 926h4.6v1.9h-4.6zM742.4 927.9h4.6v2.5h-4.6zM750 925.7h4.6v1.9h-4.6zM757.8 923.7h4.6v1.3h-4.6zM787 927.1h4.6v2.2h-4.6zM794.7 923.8h4.6v1.3h-4.6zM802.4 939.1h4.6v5.7h-4.6zM810.1 933.3h4.6v4h-4.6zM817.8 929.9h4.6v3h-4.6zM825.5 924.2h4.6v1.4h-4.6zM833.2 926.4h4.6v2h-4.6zM1077 189.9h4.6v0.7h-4.6zM1111.2 201.6h4.6v0.8h-4.6zM1134.3 192.6h4.6v1.5h-4.6zM1142 205.9h4.6v2h-4.6zM1149.8 191.8h4.6v1.2h-4.6zM1191.2 189.7h4.6v0.6h-4.6zM1206.6 196.3h4.6v2.5h-4.6zM1214.3 192.2h4.6v1.3h-4.6zM1222 189.9h4.6v0.7h-4.6zM1229.7 192.6h4.6v1.5h-4.6zM1237.4 194.5h4.6v2h-4.6zM1245.1 189.9h4.6v0.7h-4.6zM1252.8 194.5h4.6v2h-4.6zM1260.5 192.4h4.6v1.4h-4.6zM1268.2 189.9h4.6v0.7h-4.6zM1275.9 191.8h4.6v1.2h-4.6zM1283.6 194.6h4.6v2h-4.6zM1291.3 192h4.6v1.3h-4.6zM1299 192h4.6v1.3h-4.6zM1306.7 189.7h4.6v0.6h-4.6zM1318 190.6h4.6v0.9h-4.6zM1322.1 196.5h4.6v0.6h-4.6zM1337.5 197.3h4.6v2.8h-4.6zM1345.2 192.4h4.6v1.4h-4.6zM1352.9 191.8h4.6v1.2h-4.6zM1360.6 189.9h4.6v0.7h-4.6zM1368.3 189.9h4.6v0.7h-4.6zM1376 202.4h4.6v4.3h-4.6zM1383.7 192h4.6v1.3h-4.6zM1414.5 191.8h4.6v1.2h-4.6zM1422.2 189.7h4.6v0.6h-4.6zM1429.9 192h4.6v1.3h-4.6zM1437.6 205.3h4.6v5.1h-4.6zM1445.3 192.2h4.6v1.3h-4.6zM1453 192h4.6v1.3h-4.6zM1476.1 189.7h4.6v0.6h-4.6zM1483.8 192h4.6v1.3h-4.6zM1491.5 192h4.6v1.3h-4.6zM1499.2 189.7h4.6v0.6h-4.6zM1506.9 194.2h4.6v1.9h-4.6zM1522.3 189.7h4.6v0.6h-4.6zM1530 196.4h4.6v2.6h-4.6zM1540.8 189.9h4.6v0.7h-4.6zM1553.1 191.8h4.6v1.2h-4.6zM1576.2 189.7h4.6v0.6h-4.6zM1607 192h4.6v1.3h-4.6zM1635.5 199.7h4.6v3.6h-4.6zM1643.2 190.9h4.6v1.1h-4.6zM1650.9 199.1h4.6v3.5h-4.6zM1658.6 196.7h4.6v2.8h-4.6zM1666.3 191.5h4.6v1.3h-4.6zM1674 192.1h4.6v1.5h-4.6zM1704 192.8h4.6v0.9h-4.6zM1711.7 194h4.6v1.3h-4.6zM1719.4 199.5h4.6v2.9h-4.6zM1727.1 196.8h4.6v2.1h-4.6zM1734.8 206.3h4.6v4.8h-4.6zM1742.5 204.8h4.6v4.4h-4.6zM1766.1 199.6h4.6v2.8h-4.6zM1773.8 199h4.6v2.6h-4.6zM1781.5 208.9h4.6v5.4h-4.6zM1789.2 199.2h4.6v2.7h-4.6zM1796.9 199.3h4.6v2.7h-4.6zM1804.6 198.9h4.6v2.6h-4.6zM1812.3 197h4.6v2.1h-4.6zM1820 201h4.6v3.2h-4.6zM1827.7 197h4.6v2.1h-4.6zM1835.4 199.5h4.6v2.8h-4.6zM1843.1 200h4.6v2.9h-4.6zM994.2 757.1h4.6v2.5h-4.6zM1002 754.6h4.6v1.8h-4.6zM1009.6 755.8h4.6v2.2h-4.6zM1017.4 769h4.6v5.9h-4.6zM1025 759.5h4.6v3.2h-4.6zM1032.8 764.2h4.6v4.5h-4.6zM1040.5 750.3h4.6v0.6h-4.6zM1048.2 753.6h4.6v1.5h-4.6zM1078.2 828h4.6v3.2h-4.6zM1086 832.9h4.6v4.5h-4.6zM1093.7 750.1h4.6v0.5h-4.6zM1101.3 764.1h4.6v4.5h-4.6zM1127.2 757.1h4.6v2.5h-4.6zM1135 757.7h4.6v2.7h-4.6zM1142.7 755.8h4.6v2.2h-4.6zM1150.3 762h4.6v3.9h-4.6zM1158 759.5h4.6v3.2h-4.6zM1165.8 766.3h4.6v5.1h-4.6zM1173.5 756.5h4.6v2.3h-4.6zM1181.2 768.7h4.6v5.8h-4.6zM1196.5 763.6h4.6v4.4h-4.6zM1204.2 752.8h4.6v1.3h-4.6zM1212 761.4h4.6v3.7h-4.6zM1219.7 753.4h4.6v1.5h-4.6zM1227.3 763.6h4.6v4.4h-4.6zM1235 753.6h4.6v1.5h-4.6zM1242.8 761.7h4.6v3.9h-4.6zM1250.5 757.7h4.6v2.7h-4.6zM1258.2 753.6h4.6v1.5h-4.6zM1265.8 764.4h4.6v4.6h-4.6zM1291.2 774.6h4.6v7.5h-4.6zM1299 760.5h4.6v3.5h-4.6zM1306.7 775.4h4.6v7.8h-4.6zM1314.3 762.8h4.6v4.2h-4.6zM1336.8 752.8h4.6v1.3h-4.6zM1344.5 752.4h4.6v1.2h-4.6zM1352.2 765.8h4.6v2.4h-4.6zM1356.2 752.2h4.6v1.1h-4.6zM1359.8 767.9h4.6v3h-4.6zM1367.5 764.4h4.6v4.6h-4.6zM1375.2 763.8h4.6v4.4h-4.6zM1403.2 759.8h4.6v3.3h-4.6zM1411 756.5h4.6v2.3h-4.6zM1418.7 756.8h4.6v2.4h-4.6zM1426.3 750.7h4.6v0.7h-4.6zM1434 763.8h4.6v4.4h-4.6zM1441.8 757.3h4.6v2.6h-4.6zM1449.5 752.5h4.6v1.2h-4.6zM1477.5 767.2h4.6v5.4h-4.6zM1485.2 749.1h4.6v0.2h-4.6zM1492.9 755.8h4.6v2.2h-4.6zM1500.6 753.8h4.6v1.6h-4.6zM1527.8 753.4h4.6v1.5h-4.6zM1535.5 754.9h4.6v1.9h-4.6zM1543.2 766.5h4.6v5.2h-4.6zM1550.8 761.6h4.6v3.8h-4.6zM1558.5 772.8h4.6v7h-4.6zM1566.2 758.5h4.6v2.9h-4.6zM1574 761.6h4.6v3.8h-4.6zM1581.7 755h4.6v1.9h-4.6zM1589.3 754.3h4.6v1.7h-4.6zM1614 750.6h4.6v0.7h-4.6zM1621.7 774h4.6v7.4h-4.6zM1629.4 755.5h4.6v2.1h-4.6zM1637.1 755h4.6v1.9h-4.6zM1644.8 763.2h4.6v4.3h-4.6zM1652.5 766.5h4.6v5.2h-4.6zM1677.5 756.2h4.6v2.3h-4.6zM1685.2 759.5h4.6v3.2h-4.6zM1692.9 793.6h4.6v0.5h-4.6zM1700.6 794h4.6v0.6h-4.6zM1708.3 755.2h4.6v2h-4.6zM1716 750.1h4.6v0.5h-4.6zM1723.7 748.9h4.6v0.2h-4.6zM1731.4 748.9h4.6v0.2h-4.6zM1739.1 751.6h4.6v0.9h-4.6zM1767 750h4.6v0.4h-4.6zM1782.4 751.9h4.6v1h-4.6zM1805.5 749.6h4.6v0.3h-4.6zM1820.9 765.4h4.6v4.8h-4.6zM1828.6 750h4.6v0.4h-4.6zM39.2 1930.6h4.6v4.4h-4.6zM47 1946.2h4.6v7.5h-4.6zM54.6 1921.7h4.6v1.9h-4.6zM62.4 1941h4.6v7.4h-4.6zM70 1923.9h4.6v2.6h-4.6zM77.8 1926h4.6v3.1h-4.6zM101 1928.8h4.6v4h-4.6zM108.7 1925h4.6v2.9h-4.6zM116.4 1923h4.6v2.3h-4.6zM124.1 1920.3h4.6v1.5h-4.6zM131.8 1930.9h4.6v4.6h-4.6zM139.5 1919.3h4.6v1.2h-4.6zM147.2 1928.5h4.6v3.9h-4.6zM154.9 1928.7h4.6v3.9h-4.6zM162.6 1930.7h4.6v4.5h-4.6zM170.3 1935.2h4.6v5.8h-4.6zM178 1926h4.6v3.1h-4.6zM200.5 1941.6h4.6v5.9h-4.6zM204.5 1917.5h4.6v0.7h-4.6zM208.2 1935.5h4.6v4.2h-4.6zM215.9 1953.1h4.6v9.5h-4.6zM220 1917.2h4.6v0.6h-4.6zM223.6 1926.4h4.6v1.8h-4.6zM231.3 1928.5h4.6v3.9h-4.6zM239 1937.3h4.6v6.4h-4.6zM270 1929.9h4.6v4.3h-4.6zM281.2 1930.9h4.6v4.6h-4.6zM293 1930.1h4.6v4.3h-4.6zM300.8 1930.1h4.6v4.3h-4.6zM308.2 1930.6h4.6v4.4h-4.6zM318.2 1938h4.6v1.9h-4.6zM326.2 1932.7h4.6v1.9h-4.6zM331.2 1923.2h4.6v0.7h-4.6zM336.5 1938.9h4.6v3.6h-4.6zM336.8 1917.5h4.6v0.7h-4.6zM352.5 1927.9h4.6v3.7h-4.6zM361 1937.9h4.6v3.7h-4.6zM367 1921.8h4.6v0.5h-4.6zM372.5 1930.9h4.6v1.7h-4.6zM373.2 1917.1h4.6v0.6h-4.6zM380.5 1923.9h4.6v1.1h-4.6zM391.8 1933.4h4.6v5.2h-4.6zM402.5 1941.3h4.6v4.8h-4.6zM407 1918.7h4.6v1h-4.6zM411.2 1943.5h4.6v5.4h-4.6zM422.5 1935.8h4.6v2.9h-4.6zM426.8 1919.7h4.6v1.3h-4.6zM434.2 1936h4.6v3.1h-4.6zM444.2 1921.1h4.6v1.8h-4.6zM455.8 1921.7h4.6v1.9h-4.6zM466.2 1926.4h4.6v3.3h-4.6zM476.2 1919.3h4.6v1.2h-4.6zM484.5 1923.9h4.6v2.6h-4.6zM494.2 1921.7h4.6v1.9h-4.6zM504.2 1921.7h4.6v1.9h-4.6zM515.8 1930.1h4.6v4.3h-4.6zM523.5 1923.6h4.6v2.5h-4.6zM531.2 1932.4h4.6v5h-4.6zM564.5 1922.4h4.6v1.8h-4.6zM572.2 1920.5h4.6v1.2h-4.6zM580 1926h4.6v3.1h-4.6zM587.8 1917.1h4.6v0.6h-4.6zM599.2 1919.7h4.6v1.3h-4.6zM603 1931.4h4.6v1.8h-4.6zM610.5 1917.5h4.6v0.7h-4.6zM618.2 1917.2h4.6v0.6h-4.6zM633.8 1923.9h4.6v2.6h-4.6zM641.5 1919.7h4.6v1.3h-4.6zM649 1923.3h4.6v2.4h-4.6zM656.8 1922h4.6v2h-4.6zM664.5 1919.7h4.6v1.3h-4.6zM672.2 1928.7h4.6v3.9h-4.6zM680 1930.6h4.6v4.4h-4.6zM706.8 1932.5h4.6v3h-4.6zM703 1953.9h4.6v2.7h-4.6zM710.8 1957.6h4.6v3.7h-4.6zM718.5 1928.2h4.6v3.8h-4.6zM726.2 1923.9h4.6v2.6h-4.6zM733.8 1923.9h4.6v2.6h-4.6zM741.5 1922h4.6v2h-4.6zM749.2 1921.7h4.6v1.9h-4.6zM757 1923.8h4.6v2.5h-4.6zM764.5 1917.2h4.6v0.6h-4.6zM772.2 1926.4h4.6v3.3h-4.6zM780 1931.3h4.6v4.7h-4.6zM804.4 1945h4.6v6.7h-4.6zM812.1 1950.3h4.6v8.7h-4.6zM819.8 1946h4.6v6.7h-4.6zM827.5 1950.6h4.6v5.5h-4.6zM835.2 1966.6h4.6v11.1h-4.6zM842.9 1958.5h4.6v6.7h-4.6zM850.6 1937.8h4.6v2.9h-4.6zM858.3 1965.2h4.6v11.5h-4.6zM866 1951.7h4.6v4.1h-4.6zM873.7 1923.8h4.6v1.9h-4.6zM881.4 1937.3h4.6v3.7h-4.6zM889.1 1949.3h4.6v8.2h-4.6z"/>
<path fill="#FFD83A" d="M2 246.4h4.6v8.1h-4.6zM9.7 229.1h4.6v2h-4.6zM17.4 229.4h4.6v2.1h-4.6zM25.1 232.7h4.6v3.3h-4.6zM32.8 229.1h4.6v2h-4.6zM40.5 246.4h4.6v8.1h-4.6zM48.2 229.9h4.6v2.3h-4.6zM55.9 236.6h4.6v4.7h-4.6zM63.6 235.8h4.6v4.4h-4.6zM71.3 245.6h4.6v7.8h-4.6zM97.5 242.8h4.6v6.8h-4.6zM105.2 236.2h4.6v4.5h-4.6zM112.9 251.1h4.6v9.7h-4.6zM120.6 242h4.6v6.5h-4.6zM147.8 238.5h4.6v5.3h-4.6zM155.4 242.2h4.6v6.6h-4.6zM163.2 232.5h4.6v3.2h-4.6zM170.8 234.6h4.6v4h-4.6zM178.6 234.9h4.6v4.1h-4.6zM186.2 237.3h4.6v4.9h-4.6zM193.9 228.3h4.6v1.8h-4.6zM201.7 231.4h4.6v2.9h-4.6zM228.8 233.3h4.6v3.5h-4.6zM236.4 232.2h4.6v3.1h-4.6zM244.2 232.2h4.6v3.1h-4.6zM251.8 238.1h4.6v5.2h-4.6zM259.6 231.9h4.6v3h-4.6zM267.2 235.7h4.6v4.3h-4.6zM274.9 232.2h4.6v3.1h-4.6zM282.6 234.7h4.6v2.1h-4.6zM286.8 226.4h4.6v1.1h-4.6zM298.1 226.4h4.6v1.1h-4.6zM305.8 243.3h4.6v7h-4.6zM313.4 231.9h4.6v3h-4.6zM321.1 243.6h4.6v7.1h-4.6zM328.9 240.1h4.6v5.9h-4.6zM336.6 229.1h4.6v2h-4.6zM351.9 233.3h4.6v3.5h-4.6zM359.6 234.6h4.6v4h-4.6zM367.4 243.6h4.6v7.1h-4.6zM375.1 247.2h4.6v8.4h-4.6zM382.8 253h4.6v10.4h-4.6zM408.5 245.3h4.6v7.7h-4.6zM416.2 238.2h4.6v5.2h-4.6zM423.9 226.7h4.6v1.2h-4.6zM431.6 225.6h4.6v0.8h-4.6zM439.3 231.1h4.6v2.8h-4.6zM447 238.5h4.6v5.3h-4.6zM474.5 239.8h4.6v5.8h-4.6zM482.2 243.3h4.6v7h-4.6zM489.9 237.7h4.6v5.1h-4.6zM497.6 235.4h4.6v4.2h-4.6zM505.3 239.3h4.6v5.6h-4.6zM513 246.1h4.6v8h-4.6zM520.7 226.4h4.6v1.1h-4.6zM528.4 232.5h4.6v3.2h-4.6zM555.5 230.2h4.6v2.4h-4.6zM563.2 233.3h4.6v3.5h-4.6zM570.9 240.1h4.6v5.9h-4.6zM578.6 235.4h4.6v4.2h-4.6zM586.3 257h4.6v11.8h-4.6zM594 235.1h4.6v4.1h-4.6zM601.7 235.4h4.6v4.2h-4.6zM609.4 241.7h4.6v6.4h-4.6zM617.1 235.4h4.6v4.2h-4.6zM624.8 248h4.6v8.6h-4.6zM650.5 240.4h4.6v6h-4.6zM658.2 242h4.6v6.5h-4.6zM665.9 237.3h4.6v4.9h-4.6zM673.6 244h4.6v7.3h-4.6zM681.3 243.6h4.6v7.1h-4.6zM689 232.7h4.6v3.3h-4.6zM696.7 230.7h4.6v2.6h-4.6zM704.4 242.2h4.6v6.6h-4.6zM731 250.8h4.6v9.6h-4.6zM738.7 248.8h4.6v8.9h-4.6zM746.4 229.4h4.6v2.1h-4.6zM754.1 248h4.6v8.6h-4.6zM761.8 252.4h4.6v10.2h-4.6zM769.5 248.8h4.6v8.9h-4.6zM777.2 235.7h4.6v4.3h-4.6zM805.8 234h4.6v3.8h-4.6zM813.5 239.6h4.6v5.8h-4.6zM821.2 237.2h4.6v4.9h-4.6zM828.9 237.2h4.6v4.9h-4.6zM836.6 237.8h4.6v5.1h-4.6zM15.5 935.1h4.6v6.2h-4.6zM23.2 929h4.6v4h-4.6zM30.9 932.8h4.6v5.3h-4.6zM59.2 934.2h4.6v5.2h-4.6zM67 922.1h4.6v1h-4.6zM74.7 936.7h4.6v6.1h-4.6zM82.3 931.2h4.6v4.2h-4.6zM90 936.6h4.6v6h-4.6zM97.8 928.4h4.6v3.2h-4.6zM105.5 922.1h4.6v1h-4.6zM113.2 933.9h4.6v5.1h-4.6zM142 934.4h4.6v5.3h-4.6zM149.7 935.2h4.6v5.6h-4.6zM157.4 937.5h4.6v6.4h-4.6zM165.1 927.9h4.6v3h-4.6zM172.8 925.5h4.6v2.2h-4.6zM180.5 930.3h4.6v3.9h-4.6zM188.2 928.9h4.6v3.4h-4.6zM195.9 924.9h4.6v2h-4.6zM223 929.4h4.6v1.8h-4.6zM227 922.1h4.6v1h-4.6zM238.4 924.8h4.6v1.9h-4.6zM253.8 937.2h4.6v0.9h-4.6zM257.8 928.4h4.6v3.2h-4.6zM261.5 943.2h4.6v3h-4.6zM269.2 922.1h4.6v1h-4.6zM276.9 924.8h4.6v1.9h-4.6zM284.6 933.6h4.6v5h-4.6zM292.3 933.1h4.6v4.8h-4.6zM300 927.3h4.6v2.8h-4.6zM307.7 924.1h4.6v1.7h-4.6zM315.4 936.3h4.6v5.9h-4.6zM327 928.4h4.6v3.2h-4.6zM338.5 930.3h4.6v3.9h-4.6zM346.2 933.1h4.6v4.8h-4.6zM353.9 921.8h4.6v0.9h-4.6zM361.6 937.6h4.6v2.9h-4.6zM365.5 925.2h4.6v2.1h-4.6zM369.3 934.4h4.6v1.8h-4.6zM377 935h4.6v3.7h-4.6zM381 921.8h4.6v0.9h-4.6zM384.7 929.8h4.6v1.9h-4.6zM392.4 933.1h4.6v4.8h-4.6zM400.1 930h4.6v3.7h-4.6zM407.8 927.1h4.6v2.8h-4.6zM415.5 936.3h4.6v5.9h-4.6zM423.2 922.1h4.6v1h-4.6zM438.6 931.1h4.6v4.1h-4.6zM446.3 925.2h4.6v2.1h-4.6zM454 927.9h4.6v3h-4.6zM461.7 921.8h4.6v0.9h-4.6zM473.2 925.2h4.6v2.1h-4.6zM484.8 921.8h4.6v0.9h-4.6zM492.5 930.3h4.6v3.9h-4.6zM500.2 924.8h4.6v1.9h-4.6zM515.6 924.8h4.6v1.9h-4.6zM523.3 929.9h4.6v2h-4.6zM527 922.1h4.6v1h-4.6zM546.4 924.8h4.6v1.9h-4.6zM554.1 927.3h4.6v2.8h-4.6zM561.8 930.4h4.6v3.9h-4.6zM569.5 928.4h4.6v3.2h-4.6zM577.2 930.4h4.6v3.9h-4.6zM584.9 929.5h4.6v3.6h-4.6zM592.6 933.1h4.6v4.8h-4.6zM618.2 937.5h4.6v6.4h-4.6zM626 924.8h4.6v1.9h-4.6zM633.6 942.6h4.6v8.1h-4.6zM641.4 930.4h4.6v3.9h-4.6zM669.2 932h4.6v4.5h-4.6zM677 939.9h4.6v7.2h-4.6zM684.6 936.6h4.6v6h-4.6zM692.4 942.1h4.6v8h-4.6zM719.2 929.5h4.6v3.6h-4.6zM727 924.4h4.6v1.8h-4.6zM734.6 927.9h4.6v3h-4.6zM742.4 930.4h4.6v3.9h-4.6zM750 927.6h4.6v2.9h-4.6zM757.8 924.9h4.6v2h-4.6zM787 929.3h4.6v3.5h-4.6zM794.7 925.1h4.6v2h-4.6zM802.4 944.8h4.6v8.9h-4.6zM810.1 937.2h4.6v6.3h-4.6zM817.8 932.9h4.6v4.7h-4.6zM825.5 925.6h4.6v2.2h-4.6zM833.2 928.4h4.6v3.2h-4.6zM1077 190.7h4.6v1.1h-4.6zM1111.2 202.4h4.6v1.3h-4.6zM1134.3 194.1h4.6v2.3h-4.6zM1142 207.9h4.6v3.2h-4.6zM1149.8 193h4.6v1.9h-4.6zM1191.2 190.3h4.6v1h-4.6zM1206.6 198.8h4.6v4h-4.6zM1214.3 193.5h4.6v2.1h-4.6zM1222 190.7h4.6v1.1h-4.6zM1229.7 194.1h4.6v2.3h-4.6zM1237.4 196.5h4.6v3.1h-4.6zM1245.1 190.7h4.6v1.1h-4.6zM1252.8 196.5h4.6v3.1h-4.6zM1260.5 193.8h4.6v2.2h-4.6zM1268.2 190.7h4.6v1.1h-4.6zM1275.9 193h4.6v1.9h-4.6zM1283.6 196.6h4.6v3.2h-4.6zM1291.3 193.3h4.6v2h-4.6zM1299 193.3h4.6v2h-4.6zM1306.7 190.3h4.6v1h-4.6zM1318 191.4h4.6v1.4h-4.6zM1322.1 197.1h4.6v1h-4.6zM1337.5 200.1h4.6v4.4h-4.6zM1345.2 193.8h4.6v2.2h-4.6zM1352.9 193h4.6v1.9h-4.6zM1360.6 190.7h4.6v1.1h-4.6zM1368.3 190.7h4.6v1.1h-4.6zM1376 206.7h4.6v6.7h-4.6zM1383.7 193.3h4.6v2h-4.6zM1414.5 193h4.6v1.9h-4.6zM1422.2 190.3h4.6v1h-4.6zM1429.9 193.3h4.6v2h-4.6zM1437.6 210.3h4.6v8h-4.6zM1445.3 193.5h4.6v2.1h-4.6zM1453 193.3h4.6v2h-4.6zM1476.1 190.3h4.6v1h-4.6zM1483.8 193.3h4.6v2h-4.6zM1491.5 193.3h4.6v2h-4.6zM1499.2 190.3h4.6v1h-4.6zM1506.9 196.2h4.6v3h-4.6zM1522.3 190.3h4.6v1h-4.6zM1530 199h4.6v4h-4.6zM1540.8 190.7h4.6v1.1h-4.6zM1553.1 193h4.6v1.9h-4.6zM1576.2 190.3h4.6v1h-4.6zM1607 193.3h4.6v2h-4.6zM1635.5 203.4h4.6v5.7h-4.6zM1643.2 192h4.6v1.8h-4.6zM1650.9 202.6h4.6v5.4h-4.6zM1658.6 199.4h4.6v4.3h-4.6zM1666.3 192.8h4.6v2h-4.6zM1674 193.6h4.6v2.3h-4.6zM1704 193.8h4.6v1.5h-4.6zM1711.7 195.3h4.6v2h-4.6zM1719.4 202.4h4.6v4.5h-4.6zM1727.1 198.9h4.6v3.3h-4.6zM1734.8 211.1h4.6v7.5h-4.6zM1742.5 209.2h4.6v6.9h-4.6zM1766.1 202.3h4.6v4.4h-4.6zM1773.8 201.6h4.6v4.1h-4.6zM1781.5 214.3h4.6v8.6h-4.6zM1789.2 201.9h4.6v4.2h-4.6zM1796.9 202h4.6v4.3h-4.6zM1804.6 201.4h4.6v4.1h-4.6zM1812.3 199.1h4.6v3.2h-4.6zM1820 204.2h4.6v5h-4.6zM1827.7 199.1h4.6v3.2h-4.6zM1835.4 202.2h4.6v4.3h-4.6zM1843.1 202.9h4.6v4.6h-4.6zM994.2 759.6h4.6v4h-4.6zM1002 756.4h4.6v2.9h-4.6zM1009.6 758h4.6v3.4h-4.6zM1017.4 774.9h4.6v9.3h-4.6zM1025 762.7h4.6v5.1h-4.6zM1032.8 768.7h4.6v7.1h-4.6zM1040.5 750.9h4.6v0.9h-4.6zM1048.2 755.2h4.6v2.4h-4.6zM1078.2 831.2h4.6v5h-4.6zM1086 837.5h4.6v7.2h-4.6zM1093.7 750.6h4.6v0.8h-4.6zM1101.3 768.6h4.6v7.1h-4.6zM1127.2 759.6h4.6v4h-4.6zM1135 760.4h4.6v4.2h-4.6zM1142.7 758h4.6v3.4h-4.6zM1150.3 765.9h4.6v6.2h-4.6zM1158 762.7h4.6v5.1h-4.6zM1165.8 771.4h4.6v8.1h-4.6zM1173.5 758.8h4.6v3.7h-4.6zM1181.2 774.6h4.6v9.2h-4.6zM1196.5 767.9h4.6v6.9h-4.6zM1204.2 754.1h4.6v2h-4.6zM1212 765.1h4.6v5.9h-4.6zM1219.7 754.9h4.6v2.3h-4.6zM1227.3 767.9h4.6v6.9h-4.6zM1235 755.2h4.6v2.4h-4.6zM1242.8 765.6h4.6v6h-4.6zM1250.5 760.4h4.6v4.2h-4.6zM1258.2 755.2h4.6v2.4h-4.6zM1265.8 769h4.6v7.3h-4.6zM1291.2 782.1h4.6v11.8h-4.6zM1299 764h4.6v5.5h-4.6zM1306.7 783.2h4.6v12.2h-4.6zM1314.3 767h4.6v6.5h-4.6zM1336.8 754.1h4.6v2h-4.6zM1344.5 753.6h4.6v1.9h-4.6zM1352.2 768.2h4.6v3.7h-4.6zM1356.2 753.3h4.6v1.8h-4.6zM1359.8 770.9h4.6v4.7h-4.6zM1367.5 769h4.6v7.3h-4.6zM1375.2 768.3h4.6v7h-4.6zM1403.2 763.1h4.6v5.2h-4.6zM1411 758.8h4.6v3.7h-4.6zM1418.7 759.3h4.6v3.8h-4.6zM1426.3 751.4h4.6v1.1h-4.6zM1434 768.3h4.6v7h-4.6zM1441.8 759.9h4.6v4.1h-4.6zM1449.5 753.8h4.6v1.9h-4.6zM1477.5 772.7h4.6v8.5h-4.6zM1485.2 749.4h4.6v0.4h-4.6zM1492.9 758h4.6v3.4h-4.6zM1500.6 755.3h4.6v2.5h-4.6zM1527.8 754.9h4.6v2.3h-4.6zM1535.5 756.8h4.6v3h-4.6zM1543.2 771.7h4.6v8.2h-4.6zM1550.8 765.4h4.6v6h-4.6zM1558.5 779.8h4.6v11h-4.6zM1566.2 761.5h4.6v4.6h-4.6zM1574 765.4h4.6v6h-4.6zM1581.7 756.9h4.6v3h-4.6zM1589.3 756h4.6v2.7h-4.6zM1614 751.2h4.6v1h-4.6zM1621.7 781.3h4.6v11.5h-4.6zM1629.4 757.5h4.6v3.2h-4.6zM1637.1 756.9h4.6v3h-4.6zM1644.8 767.5h4.6v6.7h-4.6zM1652.5 771.7h4.6v8.2h-4.6zM1677.5 758.5h4.6v3.6h-4.6zM1685.2 762.7h4.6v5.1h-4.6zM1692.9 794.1h4.6v0.8h-4.6zM1700.6 794.6h4.6v1h-4.6zM1708.3 757.2h4.6v3.1h-4.6zM1716 750.6h4.6v0.8h-4.6zM1723.7 749h4.6v0.3h-4.6zM1731.4 749h4.6v0.3h-4.6zM1739.1 752.5h4.6v1.5h-4.6zM1767 750.4h4.6v0.6h-4.6zM1782.4 752.9h4.6v1.5h-4.6zM1805.5 749.9h4.6v0.5h-4.6zM1820.9 770.2h4.6v7.6h-4.6zM1828.6 750.4h4.6v0.6h-4.6zM39.2 1935h4.6v7h-4.6zM47 1953.8h4.6v10h-4.6zM54.6 1923.7h4.6v3h-4.6zM62.4 1948.4h4.6v11.7h-4.6zM70 1926.5h4.6v4h-4.6zM77.8 1929.2h4.6v5h-4.6zM101 1932.8h4.6v6.2h-4.6zM108.7 1927.9h4.6v4.5h-4.6zM116.4 1925.2h4.6v3.6h-4.6zM124.1 1921.8h4.6v2.4h-4.6zM131.8 1935.5h4.6v7.1h-4.6zM139.5 1920.5h4.6v1.9h-4.6zM147.2 1932.3h4.6v6h-4.6zM154.9 1932.6h4.6v6.2h-4.6zM162.6 1935.2h4.6v7h-4.6zM170.3 1941h4.6v9.1h-4.6zM178 1929.2h4.6v5h-4.6zM200.5 1947.5h4.6v9.3h-4.6zM204.5 1918.2h4.6v1.1h-4.6zM208.2 1939.7h4.6v6.6h-4.6zM215.9 1962.5h4.6v14.8h-4.6zM220 1917.8h4.6v1h-4.6zM223.6 1928.2h4.6v2.9h-4.6zM231.3 1932.3h4.6v6h-4.6zM239 1943.7h4.6v10h-4.6zM270 1934.2h4.6v6.7h-4.6zM281.2 1935.5h4.6v7.1h-4.6zM293 1934.4h4.6v6.8h-4.6zM300.8 1934.4h4.6v6.8h-4.6zM308.2 1935h4.6v7h-4.6zM318.2 1939.9h4.6v3h-4.6zM326.2 1934.6h4.6v2.9h-4.6zM331.2 1923.9h4.6v1.1h-4.6zM336.5 1942.5h4.6v5.7h-4.6zM336.8 1918.2h4.6v1.1h-4.6zM352.5 1931.5h4.6v5.8h-4.6zM361 1941.5h4.6v5.8h-4.6zM367 1922.4h4.6v0.8h-4.6zM372.5 1932.6h4.6v2.6h-4.6zM373.2 1917.7h4.6v0.9h-4.6zM380.5 1925h4.6v1.8h-4.6zM391.8 1938.6h4.6v8.2h-4.6zM402.5 1946.1h4.6v7.5h-4.6zM407 1919.7h4.6v1.6h-4.6zM411.2 1948.9h4.6v8.5h-4.6zM422.5 1938.7h4.6v4.5h-4.6zM426.8 1921h4.6v2.1h-4.6zM434.2 1939.2h4.6v4.9h-4.6zM444.2 1922.9h4.6v2.8h-4.6zM455.8 1923.7h4.6v3h-4.6zM466.2 1929.6h4.6v5.1h-4.6zM476.2 1920.5h4.6v1.9h-4.6zM484.5 1926.5h4.6v4h-4.6zM494.2 1923.7h4.6v3h-4.6zM504.2 1923.7h4.6v3h-4.6zM515.8 1934.4h4.6v6.8h-4.6zM523.5 1926h4.6v3.9h-4.6zM531.2 1937.4h4.6v7.8h-4.6zM564.5 1924.1h4.6v2.8h-4.6zM572.2 1921.8h4.6v1.9h-4.6zM580 1929.2h4.6v5h-4.6zM587.8 1917.7h4.6v0.9h-4.6zM599.2 1921h4.6v2.1h-4.6zM603 1933.2h4.6v2.9h-4.6zM610.5 1918.2h4.6v1.1h-4.6zM618.2 1917.8h4.6v1h-4.6zM633.8 1926.5h4.6v4h-4.6zM641.5 1921h4.6v2.1h-4.6zM649 1925.7h4.6v3.7h-4.6zM656.8 1924h4.6v3.1h-4.6zM664.5 1921h4.6v2.1h-4.6zM672.2 1932.6h4.6v6.2h-4.6zM680 1935h4.6v7h-4.6zM695.2 1923h4.6v2h-4.6zM706.8 1935.5h4.6v5.8h-4.6zM703 1956.6h4.6v4.2h-4.6zM710.8 1961.4h4.6v5.9h-4.6zM718.5 1932h4.6v5.9h-4.6zM726.2 1926.5h4.6v4h-4.6zM733.8 1926.5h4.6v4h-4.6zM741.5 1924h4.6v3.1h-4.6zM749.2 1923.7h4.6v3h-4.6zM757 1926.3h4.6v4h-4.6zM764.5 1917.8h4.6v1h-4.6zM772.2 1929.6h4.6v5.1h-4.6zM780 1935.9h4.6v7.3h-4.6zM804.4 1951.7h4.6v8.7h-4.6zM812.1 1958.9h4.6v12h-4.6zM819.8 1952.7h4.6v10.1h-4.6zM827.5 1956.1h4.6v9.1h-4.6zM835.2 1977.7h4.6v15.9h-4.6zM842.9 1965.2h4.6v9.1h-4.6zM847.5 1918.1h4.6v1.9h-4.6zM850.6 1940.7h4.6v5.3h-4.6zM858.3 1976.7h4.6v17.3h-4.6zM866 1955.9h4.6v7.2h-4.6zM873.7 1925.8h4.6v4.3h-4.6zM881.4 1941h4.6v6h-4.6zM889.1 1957.5h4.6v11.5h-4.6z"/>
<path fill="#E3C18D" d="M2 254.5h4.6v5.5h-4.6zM9.7 231.1h4.6v1.4h-4.6zM17.4 231.5h4.6v1.5h-4.6zM25.1 236h4.6v2.2h-4.6zM32.8 231.1h4.6v1.4h-4.6zM40.5 254.5h4.6v5.5h-4.6zM48.2 232.2h4.6v1.6h-4.6zM55.9 241.3h4.6v3.2h-4.6zM63.6 240.2h4.6v3h-4.6zM71.3 253.4h4.6v5.3h-4.6zM97.5 249.6h4.6v4.6h-4.6zM105.2 240.7h4.6v3.1h-4.6zM112.9 260.9h4.6v6.6h-4.6zM120.6 248.5h4.6v4.5h-4.6zM147.8 243.9h4.6v3.6h-4.6zM155.4 248.8h4.6v4.5h-4.6zM163.2 235.8h4.6v2.2h-4.6zM170.8 238.6h4.6v2.7h-4.6zM178.6 239h4.6v2.8h-4.6zM186.2 242.2h4.6v3.3h-4.6zM193.9 230.1h4.6v1.2h-4.6zM201.7 234.3h4.6v2h-4.6zM228.8 236.8h4.6v2.4h-4.6zM236.4 235.4h4.6v2.1h-4.6zM244.2 235.4h4.6v2.1h-4.6zM251.8 243.2h4.6v3.5h-4.6zM259.6 234.9h4.6v2.1h-4.6zM267.2 240h4.6v3h-4.6zM274.9 235.4h4.6v2.1h-4.6zM282.6 236.8h4.6v1.4h-4.6zM286.8 227.5h4.6v0.8h-4.6zM298.1 227.5h4.6v0.8h-4.6zM305.8 250.2h4.6v4.8h-4.6zM313.4 234.9h4.6v2.1h-4.6zM321.1 250.7h4.6v4.8h-4.6zM328.9 246h4.6v4h-4.6zM336.6 231.1h4.6v1.4h-4.6zM351.9 236.8h4.6v2.4h-4.6zM359.6 238.6h4.6v2.7h-4.6zM367.4 250.7h4.6v4.8h-4.6zM375.1 255.6h4.6v5.7h-4.6zM382.8 263.4h4.6v7.1h-4.6zM408.5 253h4.6v5.2h-4.6zM416.2 243.4h4.6v3.6h-4.6zM423.9 227.9h4.6v0.8h-4.6zM431.6 226.4h4.6v0.6h-4.6zM439.3 233.9h4.6v1.9h-4.6zM447 243.9h4.6v3.6h-4.6zM474.5 245.6h4.6v3.9h-4.6zM482.2 250.2h4.6v4.8h-4.6zM489.9 242.8h4.6v3.5h-4.6zM497.6 239.6h4.6v2.9h-4.6zM505.3 244.9h4.6v3.8h-4.6zM513 254.1h4.6v5.4h-4.6zM520.7 227.5h4.6v0.8h-4.6zM528.4 235.8h4.6v2.2h-4.6zM555.5 232.6h4.6v1.6h-4.6zM563.2 236.8h4.6v2.4h-4.6zM570.9 246h4.6v4h-4.6zM578.6 239.6h4.6v2.9h-4.6zM586.3 268.7h4.6v8h-4.6zM594 239.2h4.6v2.8h-4.6zM601.7 239.6h4.6v2.9h-4.6zM609.4 248.1h4.6v4.4h-4.6zM617.1 239.6h4.6v2.9h-4.6zM624.8 256.6h4.6v5.9h-4.6zM650.5 246.4h4.6v4.1h-4.6zM658.2 248.5h4.6v4.5h-4.6zM665.9 242.2h4.6v3.3h-4.6zM673.6 251.3h4.6v5h-4.6zM681.3 250.7h4.6v4.8h-4.6zM689 236h4.6v2.2h-4.6zM696.7 233.2h4.6v1.8h-4.6zM704.4 248.8h4.6v4.5h-4.6zM731 260.4h4.6v6.6h-4.6zM738.7 257.7h4.6v6.1h-4.6zM746.4 231.5h4.6v1.5h-4.6zM754.1 256.6h4.6v5.9h-4.6zM761.8 262.6h4.6v6.9h-4.6zM769.5 257.7h4.6v6.1h-4.6zM777.2 240h4.6v3h-4.6zM805.8 237.9h4.6v2.6h-4.6zM813.5 245.4h4.6v3.9h-4.6zM821.2 242.2h4.6v3.4h-4.6zM828.9 242.2h4.6v3.4h-4.6zM836.6 242.9h4.6v3.5h-4.6zM844.3 223.1h4.6v4.5h-4.6zM15.5 941.3h4.6v4.2h-4.6zM23.2 933h4.6v2.7h-4.6zM30.9 938.1h4.6v3.6h-4.6zM59.2 939.4h4.6v3.6h-4.6zM67 923.1h4.6v0.7h-4.6zM74.7 942.8h4.6v4.2h-4.6zM82.3 935.4h4.6v2.9h-4.6zM90 942.6h4.6v4.1h-4.6zM97.8 931.6h4.6v2.2h-4.6zM105.5 923.1h4.6v0.7h-4.6zM113.2 939h4.6v3.5h-4.6zM142 939.6h4.6v3.6h-4.6zM149.7 940.7h4.6v3.8h-4.6zM157.4 943.9h4.6v4.4h-4.6zM165.1 930.9h4.6v2.1h-4.6zM172.8 927.8h4.6v1.5h-4.6zM180.5 934.1h4.6v2.6h-4.6zM188.2 932.2h4.6v2.3h-4.6zM195.9 926.9h4.6v1.4h-4.6zM223 931.3h4.6v1.2h-4.6zM227 923.1h4.6v0.7h-4.6zM238.4 926.7h4.6v1.3h-4.6zM253.8 938.1h4.6v0.6h-4.6zM257.8 931.6h4.6v2.2h-4.6zM261.5 946.2h4.6v2.1h-4.6zM269.2 923.1h4.6v0.7h-4.6zM276.9 926.7h4.6v1.3h-4.6zM284.6 938.6h4.6v3.4h-4.6zM292.3 938h4.6v3.3h-4.6zM300 930.1h4.6v1.9h-4.6zM307.7 925.8h4.6v1.2h-4.6zM315.4 942.2h4.6v4h-4.6zM327 931.6h4.6v2.2h-4.6zM338.5 934.1h4.6v2.6h-4.6zM346.2 938h4.6v3.3h-4.6zM353.9 922.6h4.6v0.6h-4.6zM361.6 940.5h4.6v2h-4.6zM365.5 927.3h4.6v1.4h-4.6zM369.3 936.3h4.6v1.2h-4.6zM377 938.7h4.6v2.5h-4.6zM381 922.6h4.6v0.6h-4.6zM384.7 931.7h4.6v1.3h-4.6zM392.4 938h4.6v3.3h-4.6zM400.1 933.7h4.6v2.5h-4.6zM407.8 929.9h4.6v1.9h-4.6zM415.5 942.2h4.6v4h-4.6zM423.2 923.1h4.6v0.7h-4.6zM438.6 935.2h4.6v2.8h-4.6zM446.3 927.3h4.6v1.4h-4.6zM454 930.9h4.6v2.1h-4.6zM461.7 922.6h4.6v0.6h-4.6zM473.2 927.3h4.6v1.4h-4.6zM484.8 922.6h4.6v0.6h-4.6zM492.5 934.1h4.6v2.6h-4.6zM500.2 926.7h4.6v1.3h-4.6zM515.6 926.7h4.6v1.3h-4.6zM523.3 931.9h4.6v1.4h-4.6zM527 923.1h4.6v0.7h-4.6zM546.4 926.7h4.6v1.3h-4.6zM554.1 930.1h4.6v1.9h-4.6zM561.8 934.3h4.6v2.7h-4.6zM569.5 931.6h4.6v2.2h-4.6zM577.2 934.3h4.6v2.7h-4.6zM584.9 933.1h4.6v2.4h-4.6zM592.6 938h4.6v3.3h-4.6zM618.2 943.9h4.6v4.4h-4.6zM626 926.7h4.6v1.3h-4.6zM633.6 950.7h4.6v5.6h-4.6zM641.4 934.3h4.6v2.7h-4.6zM669.2 936.5h4.6v3h-4.6zM677 947.1h4.6v4.9h-4.6zM684.6 942.6h4.6v4.1h-4.6zM692.4 950.1h4.6v5.4h-4.6zM719.2 933.1h4.6v2.4h-4.6zM727 926.3h4.6v1.2h-4.6zM734.6 930.9h4.6v2.1h-4.6zM742.4 934.3h4.6v2.7h-4.6zM750 930.5h4.6v2h-4.6zM757.8 926.9h4.6v1.4h-4.6zM787 932.8h4.6v2.4h-4.6zM794.7 927.1h4.6v1.4h-4.6zM802.4 953.7h4.6v6.1h-4.6zM810.1 943.5h4.6v4.3h-4.6zM817.8 937.6h4.6v3.2h-4.6zM825.5 927.9h4.6v1.5h-4.6zM833.2 931.6h4.6v2.2h-4.6zM1077 191.8h4.6v0.8h-4.6zM1111.2 203.6h4.6v0.9h-4.6zM1134.3 196.4h4.6v1.6h-4.6zM1142 211.1h4.6v2.2h-4.6zM1149.8 194.9h4.6v1.3h-4.6zM1191.2 191.3h4.6v0.7h-4.6zM1206.6 202.8h4.6v2.7h-4.6zM1214.3 195.6h4.6v1.4h-4.6zM1222 191.8h4.6v0.8h-4.6zM1229.7 196.4h4.6v1.6h-4.6zM1237.4 199.6h4.6v2.1h-4.6zM1245.1 191.8h4.6v0.8h-4.6zM1252.8 199.6h4.6v2.1h-4.6zM1260.5 196h4.6v1.5h-4.6zM1268.2 191.8h4.6v0.8h-4.6zM1275.9 194.9h4.6v1.3h-4.6zM1283.6 199.8h4.6v2.2h-4.6zM1291.3 195.4h4.6v1.4h-4.6zM1299 195.4h4.6v1.4h-4.6zM1306.7 191.3h4.6v0.7h-4.6zM1318 192.8h4.6v0.9h-4.6zM1322.1 198.1h4.6v0.7h-4.6zM1337.5 204.5h4.6v3h-4.6zM1345.2 196h4.6v1.5h-4.6zM1352.9 194.9h4.6v1.3h-4.6zM1360.6 191.8h4.6v0.8h-4.6zM1368.3 191.8h4.6v0.8h-4.6zM1376 213.4h4.6v4.6h-4.6zM1383.7 195.4h4.6v1.4h-4.6zM1414.5 194.9h4.6v1.3h-4.6zM1422.2 191.3h4.6v0.7h-4.6zM1429.9 195.4h4.6v1.4h-4.6zM1437.6 218.3h4.6v5.4h-4.6zM1445.3 195.6h4.6v1.4h-4.6zM1453 195.4h4.6v1.4h-4.6zM1476.1 191.3h4.6v0.7h-4.6zM1483.8 195.4h4.6v1.4h-4.6zM1491.5 195.4h4.6v1.4h-4.6zM1499.2 191.3h4.6v0.7h-4.6zM1506.9 199.2h4.6v2.1h-4.6zM1522.3 191.3h4.6v0.7h-4.6zM1530 203h4.6v2.7h-4.6zM1540.8 191.8h4.6v0.8h-4.6zM1553.1 194.9h4.6v1.3h-4.6zM1576.2 191.3h4.6v0.7h-4.6zM1607 195.4h4.6v1.4h-4.6zM1635.5 209.1h4.6v3.9h-4.6zM1643.2 193.8h4.6v1.2h-4.6zM1650.9 208h4.6v3.7h-4.6zM1658.6 203.8h4.6v3h-4.6zM1666.3 194.9h4.6v1.4h-4.6zM1674 195.9h4.6v1.6h-4.6zM1704 195.2h4.6v1h-4.6zM1711.7 197.4h4.6v1.4h-4.6zM1719.4 206.9h4.6v3.1h-4.6zM1727.1 202.2h4.6v2.2h-4.6zM1734.8 218.6h4.6v5.1h-4.6zM1742.5 216.1h4.6v4.7h-4.6zM1766.1 206.7h4.6v3h-4.6zM1773.8 205.7h4.6v2.8h-4.6zM1781.5 222.9h4.6v5.8h-4.6zM1789.2 206.1h4.6v2.9h-4.6zM1796.9 206.3h4.6v2.9h-4.6zM1804.6 205.5h4.6v2.8h-4.6zM1812.3 202.3h4.6v2.2h-4.6zM1820 209.3h4.6v3.4h-4.6zM1827.7 202.3h4.6v2.2h-4.6zM1835.4 206.5h4.6v3h-4.6zM1843.1 207.5h4.6v3.1h-4.6zM994.2 763.5h4.6v2.7h-4.6zM1002 759.3h4.6v1.9h-4.6zM1009.6 761.4h4.6v2.3h-4.6zM1017.4 784.2h4.6v6.3h-4.6zM1025 767.8h4.6v3.5h-4.6zM1032.8 775.9h4.6v4.9h-4.6zM1040.5 751.9h4.6v0.6h-4.6zM1048.2 757.6h4.6v1.6h-4.6zM1078.2 836.1h4.6v3.4h-4.6zM1086 844.6h4.6v4.9h-4.6zM1093.7 751.4h4.6v0.6h-4.6zM1101.3 775.7h4.6v4.8h-4.6zM1127.2 763.5h4.6v2.7h-4.6zM1135 764.6h4.6v2.9h-4.6zM1142.7 761.4h4.6v2.3h-4.6zM1150.3 772h4.6v4.2h-4.6zM1158 767.8h4.6v3.5h-4.6zM1165.8 779.5h4.6v5.5h-4.6zM1173.5 762.5h4.6v2.5h-4.6zM1181.2 783.7h4.6v6.3h-4.6zM1196.5 774.8h4.6v4.7h-4.6zM1204.2 756.1h4.6v1.4h-4.6zM1212 771h4.6v4h-4.6zM1219.7 757.2h4.6v1.6h-4.6zM1227.3 774.8h4.6v4.7h-4.6zM1235 757.6h4.6v1.6h-4.6zM1242.8 771.6h4.6v4.1h-4.6zM1250.5 764.6h4.6v2.9h-4.6zM1258.2 757.6h4.6v1.6h-4.6zM1265.8 776.3h4.6v5h-4.6zM1291.2 793.9h4.6v8.1h-4.6zM1299 769.5h4.6v3.8h-4.6zM1306.7 795.4h4.6v8.3h-4.6zM1314.3 773.5h4.6v4.5h-4.6zM1336.8 756.1h4.6v1.4h-4.6zM1344.5 755.5h4.6v1.3h-4.6zM1352.2 772h4.6v2.5h-4.6zM1356.2 755h4.6v1.2h-4.6zM1359.8 775.6h4.6v3.2h-4.6zM1367.5 776.3h4.6v5h-4.6zM1375.2 775.2h4.6v4.8h-4.6zM1403.2 768.2h4.6v3.5h-4.6zM1411 762.5h4.6v2.5h-4.6zM1418.7 763.1h4.6v2.6h-4.6zM1426.3 752.5h4.6v0.8h-4.6zM1434 775.2h4.6v4.8h-4.6zM1441.8 764h4.6v2.8h-4.6zM1449.5 755.7h4.6v1.3h-4.6zM1477.5 781.2h4.6v5.8h-4.6zM1485.2 749.7h4.6v0.3h-4.6zM1492.9 761.4h4.6v2.3h-4.6zM1500.6 757.8h4.6v1.7h-4.6zM1527.8 757.2h4.6v1.6h-4.6zM1535.5 759.7h4.6v2h-4.6zM1543.2 779.9h4.6v5.6h-4.6zM1550.8 771.4h4.6v4.1h-4.6zM1558.5 790.8h4.6v7.5h-4.6zM1566.2 766.1h4.6v3.1h-4.6zM1574 771.4h4.6v4.1h-4.6zM1581.7 759.9h4.6v2.1h-4.6zM1589.3 758.7h4.6v1.8h-4.6zM1614 752.3h4.6v0.7h-4.6zM1621.7 792.9h4.6v7.9h-4.6zM1629.4 760.8h4.6v2.2h-4.6zM1637.1 759.9h4.6v2.1h-4.6zM1644.8 774.2h4.6v4.6h-4.6zM1652.5 779.9h4.6v5.6h-4.6zM1677.5 762.1h4.6v2.4h-4.6zM1685.2 767.8h4.6v3.5h-4.6zM1692.9 794.9h4.6v0.6h-4.6zM1700.6 795.6h4.6v0.7h-4.6zM1708.3 760.4h4.6v2.1h-4.6zM1716 751.4h4.6v0.6h-4.6zM1723.7 749.3h4.6v0.2h-4.6zM1731.4 749.3h4.6v0.2h-4.6zM1739.1 754h4.6v1h-4.6zM1767 751h4.6v0.4h-4.6zM1782.4 754.4h4.6v1h-4.6zM1805.5 750.3h4.6v0.3h-4.6zM1820.9 777.8h4.6v5.2h-4.6zM1828.6 751h4.6v0.4h-4.6zM39.2 1942h4.6v4.8h-4.6zM47 1963.8h4.6v10h-4.6zM54.6 1926.7h4.6v2.1h-4.6zM62.4 1960h4.6v8h-4.6zM70 1930.5h4.6v2.7h-4.6zM77.8 1934.1h4.6v3.4h-4.6zM101 1939h4.6v4.2h-4.6zM108.7 1932.4h4.6v3.1h-4.6zM116.4 1928.8h4.6v2.4h-4.6zM124.1 1924.1h4.6v1.6h-4.6zM131.8 1942.6h4.6v4.9h-4.6zM139.5 1922.4h4.6v1.3h-4.6zM147.2 1938.4h4.6v4.1h-4.6zM154.9 1938.8h4.6v4.2h-4.6zM162.6 1942.2h4.6v4.8h-4.6zM170.3 1950.1h4.6v6.2h-4.6zM178 1934.1h4.6v3.4h-4.6zM200.5 1956.9h4.6v6.4h-4.6zM204.5 1919.2h4.6v0.8h-4.6zM208.2 1946.2h4.6v4.5h-4.6zM215.9 1977.4h4.6v10.1h-4.6zM220 1918.8h4.6v0.7h-4.6zM223.6 1931h4.6v2h-4.6zM231.3 1938.4h4.6v4.1h-4.6zM239 1953.7h4.6v6.8h-4.6zM270 1940.9h4.6v4.6h-4.6zM281.2 1942.6h4.6v4.9h-4.6zM293 1941.1h4.6v4.6h-4.6zM300.8 1941.1h4.6v4.6h-4.6zM308.2 1942h4.6v4.8h-4.6zM318.2 1942.9h4.6v2.1h-4.6zM326.2 1937.5h4.6v2h-4.6zM331.2 1925h4.6v0.8h-4.6zM336.5 1948.1h4.6v3.9h-4.6zM336.8 1919.2h4.6v0.8h-4.6zM352.5 1937.3h4.6v3.9h-4.6zM361 1947.3h4.6v3.9h-4.6zM367 1923.2h4.6v0.6h-4.6zM372.5 1935.2h4.6v1.8h-4.6zM373.2 1918.6h4.6v0.6h-4.6zM380.5 1926.8h4.6v1.2h-4.6zM391.8 1946.9h4.6v5.6h-4.6zM402.5 1953.6h4.6v5.1h-4.6zM407 1921.4h4.6v1.1h-4.6zM411.2 1957.4h4.6v5.8h-4.6zM422.5 1943.2h4.6v3.1h-4.6zM426.8 1923.1h4.6v1.4h-4.6zM434.2 1944.1h4.6v3.4h-4.6zM444.2 1925.6h4.6v1.9h-4.6zM455.8 1926.7h4.6v2.1h-4.6zM466.2 1934.8h4.6v3.5h-4.6zM476.2 1922.4h4.6v1.3h-4.6zM484.5 1930.5h4.6v2.7h-4.6zM494.2 1926.7h4.6v2.1h-4.6zM504.2 1926.7h4.6v2.1h-4.6zM515.8 1941.1h4.6v4.6h-4.6zM523.5 1929.9h4.6v2.6h-4.6zM531.2 1945.2h4.6v5.3h-4.6zM564.5 1926.9h4.6v1.9h-4.6zM572.2 1923.7h4.6v1.3h-4.6zM580 1934.1h4.6v3.4h-4.6zM587.8 1918.6h4.6v0.6h-4.6zM599.2 1923.1h4.6v1.4h-4.6zM603 1936h4.6v2h-4.6zM610.5 1919.2h4.6v0.8h-4.6zM618.2 1918.8h4.6v0.7h-4.6zM633.8 1930.5h4.6v2.7h-4.6zM641.5 1923.1h4.6v1.4h-4.6zM649 1929.5h4.6v2.5h-4.6zM656.8 1927.1h4.6v2.1h-4.6zM664.5 1923.1h4.6v1.4h-4.6zM672.2 1938.8h4.6v4.2h-4.6zM680 1942h4.6v4.8h-4.6zM695.2 1925h4.6v1.2h-4.6zM706.8 1941.2h4.6v3.2h-4.6zM703 1960.9h4.6v2.9h-4.6zM710.8 1967.2h4.6v4h-4.6zM718.5 1938h4.6v4h-4.6zM726.2 1930.5h4.6v2.7h-4.6zM733.8 1930.5h4.6v2.7h-4.6zM741.5 1927.1h4.6v2.1h-4.6zM749.2 1926.7h4.6v2.1h-4.6zM757 1930.3h4.6v2.7h-4.6zM764.5 1918.8h4.6v0.7h-4.6zM772.2 1934.8h4.6v3.5h-4.6zM780 1943.3h4.6v5h-4.6zM804.4 1960.4h4.6v7.7h-4.6zM812.1 1971h4.6v10.6h-4.6zM819.8 1962.8h4.6v7.7h-4.6zM827.5 1965.2h4.6v5.8h-4.6zM835.2 1993.6h4.6v13h-4.6zM842.9 1974.3h4.6v7.7h-4.6zM847.5 1920h4.6v2.4h-4.6zM850.6 1946h4.6v1.9h-4.6zM858.3 1994h4.6v13h-4.6zM866 1963.1h4.6v5h-4.6zM873.7 1930.1h4.6v1.9h-4.6zM881.4 1946.9h4.6v4.8h-4.6zM889.1 1969h4.6v9.1h-4.6z"/>
<path fill="#ADADAD" d="M423.9 228.8h4.6v17.5h-4.6zM431.6 227h4.6v63.5h-4.6zM439.3 235.8h4.6v5h-4.6zM447 247.5h4.6v14.5h-4.6zM1082.2 748.8h4.6v68.2h-4.6zM1093.7 752h4.6v42.5h-4.6zM1477.5 787h4.6v42.5h-4.6zM1485.2 750h4.6v60h-4.6zM1492.9 763.8h4.6v1.8h-4.6zM1500.6 759.5h4.6v7.2h-4.6zM1677.5 764.5h4.6v100.5h-4.6zM1685.2 771.2h4.6v222h-4.6zM1692.9 795.5h4.6v15.2h-4.6zM1696.8 748.8h4.6v43h-4.6zM1700.6 796.2h4.6v25h-4.6zM1708.3 762.5h4.6v44.2h-4.6zM1716 752h4.6v221.8h-4.6zM1723.7 749.5h4.6v394.2h-4.6zM1731.4 749.5h4.6v37.5h-4.6zM1739.1 755h4.6v36.8h-4.6zM1767 751.5h4.6v97.6h-4.6zM1774.7 748.9h4.6v29.7h-4.6zM1782.4 755.4h4.6v14.1h-4.6zM1790.1 748.9h4.6v256.5h-4.6zM1797.8 748.9h4.6v199.6h-4.6zM1805.5 750.6h4.6v74.2h-4.6zM1813.2 748.9h4.6v67h-4.6zM1820.9 782.9h4.6v8.4h-4.6zM1828.6 751.5h4.6v79.9h-4.6zM812.1 1981.5h4.6v21.2h-4.6zM819.8 1970.5h4.6v16.2h-4.6zM827.5 1971h4.6v3.4h-4.6zM835.2 2006.5h4.6v14.2h-4.6zM842.9 1982h4.6v1.6h-4.6zM850.6 1947.9h4.6v13h-4.6zM858.3 2007h4.6v2.6h-4.6zM866 1968.1h4.6v1.4h-4.6zM873.7 1932h4.6v9.6h-4.6zM881.4 1951.7h4.6v24h-4.6zM889.1 1978.2h4.6v10.6h-4.6z"/>
<path fill="#B6B4DA" d="M2.5 355.5h4.6v15.8h-4.6zM10.2 380h4.6v17h-4.6zM17.9 377.5h4.6v18.8h-4.6zM25.6 375.8h4.6v14.2h-4.6zM33.3 372.5h4.6v21.2h-4.6zM41 371.2h4.6v16.2h-4.6zM48.7 367.5h4.6v11.2h-4.6zM50.8 355.5h4.6v3.2h-4.6zM56.4 368.8h4.6v13.2h-4.6zM64.1 370h4.6v16.2h-4.6zM71.8 355.5h4.6v19.5h-4.6zM97.2 355.5h4.6v10.2h-4.6zM105 355.5h4.6v8.2h-4.6zM112.7 355.5h4.6v17.5h-4.6zM120.3 355.5h4.6v6.5h-4.6zM144.2 363h4.6v15h-4.6zM148.2 355.5h4.6v3.2h-4.6zM151.9 363h4.6v12.5h-4.6zM159.7 356.2h4.6v13.8h-4.6zM167.3 357h4.6v21.8h-4.6zM175.1 356.2h4.6v19.5h-4.6zM182.8 355.5h4.6v34.5h-4.6zM190.4 355.5h4.6v28.2h-4.6zM198.2 355.5h4.6v25.8h-4.6zM227.8 355.5h4.6v14.5h-4.6zM235.4 355.5h4.6v19h-4.6zM243.2 355.5h4.6v27.5h-4.6zM250.8 355.5h4.6v16.5h-4.6zM258.6 355.5h4.6v20.2h-4.6zM266.2 355.5h4.6v10.2h-4.6zM273.9 355.5h4.6v18.8h-4.6zM281.6 367h4.6v21h-4.6zM285.5 355.5h4.6v3.2h-4.6zM289.4 367h4.6v16.8h-4.6zM297.1 357h4.6v19.8h-4.6zM304.8 357.5h4.6v17.5h-4.6zM312.4 355.5h4.6v30.2h-4.6zM320.1 355.5h4.6v24.5h-4.6zM327.9 355.5h4.6v24.5h-4.6zM335.6 357h4.6v25h-4.6zM343.2 355.5h4.6v9.5h-4.6zM350.9 355.5h4.6v12h-4.6zM358.6 355.5h4.6v20.2h-4.6zM366.4 355.5h4.6v16.2h-4.6zM374.1 355.5h4.6v20h-4.6zM381.8 355.5h4.6v24.5h-4.6zM408 356.2h4.6v18.8h-4.6zM415.7 356.2h4.6v18.8h-4.6zM423.4 355h4.6v23.8h-4.6zM431.1 360.8h4.6v13.8h-4.6zM435 355h4.6v2.5h-4.6zM438.8 360.8h4.6v21h-4.6zM446.5 355h4.6v16.2h-4.6zM471.5 355.5h4.6v10.2h-4.6zM479.2 355.5h4.6v8.8h-4.6zM486.9 355.5h4.6v12h-4.6zM494.6 355.5h4.6v14h-4.6zM502.3 382.5h4.6v5.5h-4.6zM506.2 360.8h4.6v2.2h-4.6zM510 382.5h4.6v8.8h-4.6zM512.5 355.5h4.6v2.5h-4.6zM517.7 360.8h4.6v7.2h-4.6zM525.4 355.5h4.6v15h-4.6zM553 362h4.6v5.5h-4.6zM557 355.5h4.6v2h-4.6zM560.7 362h4.6v12.2h-4.6zM568.4 355.5h4.6v6.5h-4.6zM576.1 355.5h4.6v16.5h-4.6zM583.8 355.5h4.6v17.5h-4.6zM591.5 355.5h4.6v10.8h-4.6zM599.2 355.5h4.6v13.2h-4.6zM606.9 355.5h4.6v3.2h-4.6zM614.6 355.5h4.6v14.5h-4.6zM622.3 355.5h4.6v14.5h-4.6zM647.5 358.8h4.6v10.8h-4.6zM655.2 358.8h4.6v16.2h-4.6zM662.9 355.5h4.6v5.8h-4.6zM670.6 355.5h4.6v8.8h-4.6zM678.3 355.5h4.6v10.8h-4.6zM686 432h4.6v8h-4.6zM690 355.5h4.6v5h-4.6zM693.7 432h4.6v9.8h-4.6zM701.4 355.5h4.6v17h-4.6zM728 355.5h4.6v10.8h-4.6zM735.7 355.5h4.6v17h-4.6zM743.4 355.5h4.6v27.5h-4.6zM751.1 355.5h4.6v17.5h-4.6zM758.8 355.5h4.6v20.2h-4.6zM766.5 355.5h4.6v12h-4.6zM774.2 355.5h4.6v14h-4.6zM799.6 355h4.6v44.2h-4.6zM807.3 355h4.6v32.4h-4.6zM815 355h4.6v36h-4.6zM822.7 355h4.6v33.7h-4.6zM830.4 355h4.6v31.4h-4.6zM838.1 355h4.6v26.8h-4.6zM17 1045h4.6v14.5h-4.6zM24.7 1045h4.6v13.2h-4.6zM32.4 1045h4.6v18.8h-4.6zM59.2 1045h4.6v16.2h-4.6zM67 1045h4.6v14.2h-4.6zM74.7 1047.5h4.6v14.2h-4.6zM82.3 1047.5h4.6v17.5h-4.6zM90 1048h4.6v14.5h-4.6zM97.8 1046.2h4.6v13.8h-4.6zM105.5 1046.2h4.6v1.8h-4.6zM113.2 1045h4.6v13h-4.6zM139.2 1045h4.6v21.2h-4.6zM146.9 1050.8h4.6v7.2h-4.6zM154.7 1049.5h4.6v10h-4.6zM162.3 1047h4.6v11h-4.6zM170.1 1045h4.6v9.5h-4.6zM177.8 1045h4.6v10.8h-4.6zM185.4 1045h4.6v15.8h-4.6zM193.2 1045h4.6v11.8h-4.6zM220 1085.5h4.6v6.5h-4.6zM224 1046.2h4.6v11.2h-4.6zM227.7 1085.5h4.6v13.2h-4.6zM235.4 1045.8h4.6v21h-4.6zM243.1 1045h4.6v16.2h-4.6zM250.8 1107h4.6v8.5h-4.6zM254.8 1045h4.6v18h-4.6zM258.5 1107h4.6v6h-4.6zM266.2 1045h4.6v28.8h-4.6zM273.9 1045h4.6v16.8h-4.6zM281.6 1045h4.6v16.2h-4.6zM289.3 1045h4.6v17.5h-4.6zM297 1045h4.6v19.5h-4.6zM304.7 1045h4.6v20.8h-4.6zM312.4 1045h4.6v13h-4.6zM320.1 1103.2h4.6v6.2h-4.6zM324 1045h4.6v26.2h-4.6zM327.8 1103.2h4.6v4.2h-4.6zM335.5 1045h4.6v15h-4.6zM343.2 1045h4.6v18.8h-4.6zM350.9 1045h4.6v13.8h-4.6zM358.6 1059.2h4.6v7.5h-4.6zM362.5 1045h4.6v3.2h-4.6zM366.3 1059.2h4.6v10.8h-4.6zM374 1059.2h4.6v10h-4.6zM377.8 1045h4.6v3.2h-4.6zM381.7 1059.2h4.6v7.5h-4.6zM389.4 1045h4.6v13h-4.6zM397.1 1045h4.6v11.8h-4.6zM404.8 1045h4.6v20.5h-4.6zM412.5 1045.8h4.6v18.8h-4.6zM420.2 1046.2h4.6v5.8h-4.6zM427.9 1046.2h4.6v11.8h-4.6zM435.6 1045h4.6v9.5h-4.6zM443.3 1045h4.6v5.8h-4.6zM451 1048.2h4.6v8.8h-4.6zM455 1045h4.6v1.8h-4.6zM458.7 1048.2h4.6v7.5h-4.6zM466.4 1120h4.6v1.2h-4.6zM470.2 1048.8h4.6v18.2h-4.6zM474.1 1120h4.6v1.8h-4.6zM481.8 1047.5h4.6v10.5h-4.6zM489.5 1046.2h4.6v12.5h-4.6zM497.2 1045h4.6v6.8h-4.6zM504.9 1045h4.6v10.8h-4.6zM512.6 1045h4.6v8.8h-4.6zM520.3 1045h4.6v10h-4.6zM528 1045h4.6v7.5h-4.6zM535.7 1048.8h4.6v9.2h-4.6zM539.5 1045h4.6v2h-4.6zM543.4 1048.8h4.6v11.8h-4.6zM551.1 1045.8h4.6v11h-4.6zM558.8 1045.8h4.6v11.8h-4.6zM566.5 1045h4.6v5.8h-4.6zM574.2 1045h4.6v10.8h-4.6zM581.9 1045h4.6v8.8h-4.6zM589.6 1045h4.6v11.2h-4.6zM616.5 1059.2h4.6v17.5h-4.6zM620.5 1046.2h4.6v3h-4.6zM624.2 1059.2h4.6v12.5h-4.6zM631.9 1046.2h4.6v23.8h-4.6zM639.6 1046.2h4.6v22.5h-4.6zM667.5 1046.2h4.6v11.8h-4.6zM675.2 1046.2h4.6v16.2h-4.6zM682.9 1046.2h4.6v18.8h-4.6zM690.6 1046.2h4.6v23.2h-4.6zM717.8 1046.8h4.6v21.2h-4.6zM725.5 1048h4.6v18.2h-4.6zM733.1 1047.5h4.6v15.5h-4.6zM740.9 1048h4.6v14h-4.6zM748.5 1046.2h4.6v10.5h-4.6zM756.2 1046.2h4.6v11.8h-4.6zM785.4 1046.8h4.6v12.4h-4.6zM793.1 1046.8h4.6v17.4h-4.6zM800.8 1046.8h4.6v13.4h-4.6zM808.5 1046.8h4.6v18h-4.6zM816.2 1046.8h4.6v6.7h-4.6zM823.9 1046.8h4.6v13.4h-4.6zM831.6 1046.8h4.6v10.9h-4.6zM1077 311.8h4.6v2h-4.6zM1084.7 311.8h4.6v2h-4.6zM1114.2 322h4.6v3h-4.6zM1122 322h4.6v2.5h-4.6zM1129.7 322h4.6v1.2h-4.6zM1132.5 311.8h4.6v2h-4.6zM1137.3 317h4.6v1.2h-4.6zM1145 311.8h4.6v2h-4.6zM1152.8 311.8h4.6v2.5h-4.6zM1181.5 313h4.6v5h-4.6zM1189.2 313.8h4.6v5h-4.6zM1196.9 317.5h4.6v4.2h-4.6zM1204.6 317.5h4.6v8.2h-4.6zM1212.3 313.8h4.6v8h-4.6zM1220 313h4.6v6.5h-4.6zM1227.7 315h4.6v5h-4.6zM1235.4 315h4.6v7.5h-4.6zM1243.1 313h4.6v5.8h-4.6zM1250.8 315h4.6v6.8h-4.6zM1258.5 315h4.6v5h-4.6zM1266.2 313.8h4.6v9.5h-4.6zM1273.9 313.8h4.6v9.5h-4.6zM1281.6 313.8h4.6v3.8h-4.6zM1289.3 313h4.6v9.5h-4.6zM1297 313.8h4.6v8.8h-4.6zM1304.7 313.8h4.6v9.5h-4.6zM1312.4 330.5h4.6v2h-4.6zM1316.2 313h4.6v3.2h-4.6zM1320.1 330.5h4.6v5.2h-4.6zM1327.8 313h4.6v5.2h-4.6zM1335.5 313h4.6v7.5h-4.6zM1343.2 343.2h4.6v3.8h-4.6zM1347 313h4.6v2.8h-4.6zM1350.9 343.2h4.6v6.8h-4.6zM1358.6 317h4.6v8.8h-4.6zM1366.3 317h4.6v6.2h-4.6zM1374 313h4.6v5h-4.6zM1381.7 313.8h4.6v8.2h-4.6zM1389.4 313.8h4.6v7h-4.6zM1397.1 313.8h4.6v6.2h-4.6zM1404.8 313.8h4.6v8.8h-4.6zM1412.5 313.8h4.6v7.5h-4.6zM1420.2 318.8h4.6v7.5h-4.6zM1427.9 318.8h4.6v6.2h-4.6zM1435.6 313h4.6v8.8h-4.6zM1443.3 313h4.6v5.2h-4.6zM1451 313.8h4.6v6.2h-4.6zM1458.7 313.8h4.6v9.5h-4.6zM1466.4 313h4.6v10.2h-4.6zM1474.1 313h4.6v5.8h-4.6zM1481.8 313h4.6v3.8h-4.6zM1489.5 313h4.6v6.5h-4.6zM1497.2 313.8h4.6v6.2h-4.6zM1504.9 313.8h4.6v5.8h-4.6zM1512.6 313.8h4.6v6.2h-4.6zM1520.3 313h4.6v7.5h-4.6zM1528 313h4.6v8.8h-4.6zM1535.7 323h4.6v3.8h-4.6zM1539.5 313h4.6v2.8h-4.6zM1543.4 323h4.6v5.8h-4.6zM1551.1 313.8h4.6v9.5h-4.6zM1558.8 313.8h4.6v7.5h-4.6zM1566.5 315h4.6v7h-4.6zM1574.2 315h4.6v8.8h-4.6zM1581.9 315h4.6v7.5h-4.6zM1589.6 313h4.6v4.5h-4.6zM1597.3 313h4.6v5.8h-4.6zM1605 313h4.6v7.8h-4.6zM1635.5 313h4.6v5.2h-4.6zM1643.2 313h4.6v2h-4.6zM1650.9 313h4.6v13.2h-4.6zM1658.6 313h4.6v9.5h-4.6zM1666.3 313h4.6v5h-4.6zM1674 313h4.6v7.5h-4.6zM1704 311.8h4.6v5.2h-4.6zM1711.7 317h4.6v13h-4.6zM1719.4 317h4.6v8.8h-4.6zM1725 311.8h4.6v3.2h-4.6zM1727.1 317h4.6v12.5h-4.6zM1734.8 317h4.6v12.5h-4.6zM1742.5 311.8h4.6v12.8h-4.6zM1763.1 329.7h4.6v12.5h-4.6zM1770.8 329.7h4.6v10.7h-4.6zM1778.5 325.4h4.6v12.7h-4.6zM1786.2 325.4h4.6v17.4h-4.6zM1793.9 325.4h4.6v12h-4.6zM1797.7 312.9h4.6v3.1h-4.6zM1801.6 335.2h4.6v6.4h-4.6zM1809.3 335.2h4.6v3.1h-4.6zM1817.8 325.4h4.6v1.2h-4.6zM1817 333.7h4.6v4.4h-4.6zM1824.7 334.2h4.6v5.7h-4.6zM1832.4 312.9h4.6v7.3h-4.6zM1840.1 312.9h4.6v15.1h-4.6zM995.5 1164.2h4.6v15.8h-4.6zM1003.2 1164.2h4.6v12h-4.6zM1010.9 1164.2h4.6v14h-4.6zM1018.6 1191.2h4.6v7.5h-4.6zM1022.5 1167h4.6v1.2h-4.6zM1026.3 1191.2h4.6v8.8h-4.6zM1034 1166.8h4.6v6.5h-4.6zM1041.7 1164.2h4.6v10.2h-4.6zM1049.4 1164.2h4.6v5.8h-4.6zM1077 1216.2h4.6v12.5h-4.6zM1081 1163h4.6v2.5h-4.6zM1084.7 1216.2h4.6v16.8h-4.6zM1092.4 1163h4.6v12.5h-4.6zM1100.1 1163h4.6v12h-4.6zM1126 1164.2h4.6v24h-4.6zM1133.7 1164.2h4.6v16.2h-4.6zM1141.4 1164.2h4.6v11.5h-4.6zM1149.1 1164.2h4.6v17h-4.6zM1156.8 1164.2h4.6v15.8h-4.6zM1164.5 1164.2h4.6v20h-4.6zM1172.2 1170h4.6v12h-4.6zM1176 1164.2h4.6v3.2h-4.6zM1179.9 1170h4.6v7.5h-4.6zM1187.6 1164.2h4.6v7.5h-4.6zM1195.3 1164.2h4.6v25h-4.6zM1203 1164.2h4.6v8.2h-4.6zM1210.7 1164.2h4.6v15.2h-4.6zM1218.4 1164.2h4.6v10h-4.6zM1226.1 1164.2h4.6v12h-4.6zM1241.5 1164.2h4.6v10.8h-4.6zM1249.2 1164.2h4.6v8.2h-4.6zM1256.9 1164.2h4.6v5.8h-4.6zM1264.6 1164.2h4.6v8.2h-4.6zM1289.5 1164.2h4.6v21.2h-4.6zM1297.2 1164.2h4.6v23.8h-4.6zM1304.9 1164.2h4.6v25h-4.6zM1312.6 1164.2h4.6v19h-4.6zM1339.8 1164.2h4.6v25.2h-4.6zM1347.5 1164.2h4.6v20h-4.6zM1355.2 1205.5h4.6v19h-4.6zM1359 1164.2h4.6v12h-4.6zM1362.8 1205.5h4.6v14.5h-4.6zM1370.5 1164.2h4.6v16.2h-4.6zM1378.2 1164.2h4.6v25h-4.6zM1404.5 1164.2h4.6v17h-4.6zM1412.2 1164.2h4.6v17.5h-4.6zM1419.9 1180.5h4.6v14h-4.6zM1423.8 1164.2h4.6v4.5h-4.6zM1427.6 1180.5h4.6v10.2h-4.6zM1435.3 1166.2h4.6v19.5h-4.6zM1443 1166.2h4.6v15.5h-4.6zM1450.7 1164.2h4.6v17h-4.6zM1475 1164.2h4.6v10.2h-4.6zM1482.7 1164.2h4.6v14h-4.6zM1490.4 1164.2h4.6v5.8h-4.6zM1498.1 1164.2h4.6v23.8h-4.6zM1522.8 1164.2h4.6v14h-4.6zM1530.5 1164.2h4.6v18.8h-4.6zM1538.2 1164.2h4.6v18.2h-4.6zM1545.8 1166.2h4.6v15h-4.6zM1553.5 1166.2h4.6v10h-4.6zM1561.2 1164.2h4.6v14h-4.6zM1569 1164.2h4.6v11.5h-4.6zM1576.7 1164.2h4.6v17.8h-4.6zM1584.3 1164.2h4.6v16.5h-4.6zM1677.5 1168h4.6v8.8h-4.6zM1685.2 1168h4.6v3.2h-4.6zM1692.9 1221.2h4.6v3.8h-4.6zM1700.6 1221.2h4.6v5h-4.6zM1708.3 1164.2h4.6v12h-4.6zM1716 1164.2h4.6v2h-4.6zM1723.7 1164.2h4.6v7h-4.6zM1731.4 1164.2h4.6v8.2h-4.6zM1739.1 1164.2h4.6v12.5h-4.6zM1767.2 1164.6h4.6v9.7h-4.6zM1774.9 1164.6h4.6v10.1h-4.6zM1782.6 1164.6h4.6v3.6h-4.6zM1790.3 1166.2h4.6v9.8h-4.6zM1798 1166.2h4.6v12.7h-4.6zM1805.7 1166.2h4.6v9.8h-4.6zM1813.4 1165.3h4.6v15.7h-4.6zM1821.1 1164.8h4.6v13.1h-4.6zM1828.8 1164.6h4.6v3.6h-4.6zM36.2 2073.2h4.6v6.8h-4.6zM44 2073.2h4.6v8.8h-4.6zM51.6 2073.2h4.6v14.8h-4.6zM59.4 2073.2h4.6v36.8h-4.6zM67 2073.2h4.6v18.8h-4.6zM74.8 2073.2h4.6v18.8h-4.6zM96.2 2073.2h4.6v20.5h-4.6zM104 2073.2h4.6v14.8h-4.6zM111.7 2073.2h4.6v16h-4.6zM119.3 2073.2h4.6v10.5h-4.6zM127 2073.2h4.6v13.5h-4.6zM134.8 2073.2h4.6v34.8h-4.6zM142.4 2073.2h4.6v26.8h-4.6zM150.2 2073.2h4.6v26.2h-4.6zM157.8 2073.2h4.6v16.8h-4.6zM165.6 2073.2h4.6v29.8h-4.6zM173.2 2073.2h4.6v21h-4.6zM197.5 2112h4.6v15.5h-4.6zM201.5 2073.2h4.6v3.8h-4.6zM205.2 2112h4.6v11h-4.6zM212.9 2073.2h4.6v17.5h-4.6zM220.6 2073.2h4.6v21h-4.6zM228.3 2073.2h4.6v15.5h-4.6zM236 2073.2h4.6v24.2h-4.6zM265.2 2084.2h4.6v28.2h-4.6zM270.8 2075.8h4.6v3h-4.6zM276.5 2084.2h4.6v25.2h-4.6zM288 2075h4.6v25h-4.6zM295.8 2075h4.6v27.5h-4.6zM303.5 2075h4.6v22h-4.6zM313.2 2120.5h4.6v26.5h-4.6zM319.2 2106.2h4.6v4.5h-4.6zM324.2 2120.5h4.6v25.8h-4.6zM328 2097.5h4.6v2.5h-4.6zM335 2106.2h4.6v28h-4.6zM338 2073.8h4.6v7h-4.6zM344.5 2097.5h4.6v18.8h-4.6zM352.5 2073.8h4.6v26.8h-4.6zM360.8 2093.8h4.6v24.5h-4.6zM366.8 2077h4.6v4.2h-4.6zM372.2 2093.8h4.6v17.5h-4.6zM380 2076.2h4.6v22.5h-4.6zM391.8 2078.2h4.6v47.2h-4.6zM400.5 2091.8h4.6v35.2h-4.6zM405.2 2078.2h4.6v4.2h-4.6zM409.5 2091.8h4.6v25h-4.6zM419.5 2125.8h4.6v8.8h-4.6zM423.2 2091.8h4.6v9.5h-4.6zM427.2 2125.8h4.6v20h-4.6zM431.2 2085h4.6v2.5h-4.6zM435.8 2091.8h4.6v32h-4.6zM438 2078h4.6v2.5h-4.6zM445.5 2085.5h4.6v31.5h-4.6zM454 2077h4.6v27.2h-4.6zM466.2 2077.5h4.6v34.2h-4.6zM477.8 2077.5h4.6v10.8h-4.6zM489.2 2076.2h4.6v28h-4.6zM500.2 2076.2h4.6v30h-4.6zM512 2076.2h4.6v33.2h-4.6zM523.5 2074.2h4.6v14.5h-4.6zM531.2 2074.2h4.6v17.5h-4.6zM539 2074.2h4.6v16.5h-4.6zM563.2 2073.2h4.6v8h-4.6zM571 2073.2h4.6v4.2h-4.6zM578.8 2075h4.6v4.5h-4.6zM586.2 2074.2h4.6v11.5h-4.6zM597.8 2073.2h4.6v20.5h-4.6zM594 2405.8h4.6v3h-4.6zM601.8 2405.8h4.6v8.8h-4.6zM609.5 2073.2h4.6v5h-4.6zM617.2 2079.5h4.6v2.5h-4.6zM625 2079.5h4.6v3.8h-4.6zM636.5 2073.2h4.6v4.8h-4.6zM632.8 2092h4.6v6h-4.6zM640.5 2092h4.6v5.5h-4.6zM653.8 2073.2h4.6v3.5h-4.6zM648.2 2092h4.6v4.2h-4.6zM656 2092h4.6v8h-4.6zM663.8 2092h4.6v10.5h-4.6zM671.2 2073.2h4.6v8.8h-4.6zM679 2073.2h4.6v7.2h-4.6zM686.8 2079.2h4.6v5.2h-4.6zM690.5 2073.2h4.6v3h-4.6zM694.5 2079.2h4.6v2h-4.6zM713.8 2073.2h4.6v3.8h-4.6zM706 2167.5h4.6v2.5h-4.6zM702 2373.2h4.6v8h-4.6zM709.8 2373.2h4.6v3.8h-4.6zM721.5 2167.5h4.6v3h-4.6zM717.5 2380.8h4.6v10h-4.6zM725.2 2380.8h4.6v11.2h-4.6zM733 2073.2h4.6v3.8h-4.6zM740.8 2073.2h4.6v11.2h-4.6zM748.5 2073.2h4.6v12.5h-4.6zM756 2073.2h4.6v8.8h-4.6zM763.8 2073.2h4.6v14.2h-4.6zM771.5 2073.2h4.6v5h-4.6zM779.2 2073.2h4.6v6.2h-4.6zM787 2073.2h4.6v4.2h-4.6zM818.9 2073.3h4.6v12.4h-4.6zM826.3 2073.3h4.6v14.6h-4.6zM834.1 2073.3h4.6v27h-4.6z"/>
<path fill="#F57A6F" d="M2.5 371.2h4.6v8.2h-4.6zM10.2 397h4.6v15h-4.6zM17.9 396.2h4.6v8h-4.6zM25.6 390h4.6v8h-4.6zM33.3 393.8h4.6v10.5h-4.6zM41 387.5h4.6v8.2h-4.6zM48.7 378.8h4.6v6.2h-4.6zM50.8 358.8h4.6v1.8h-4.6zM56.4 382h4.6v8h-4.6zM64.1 386.2h4.6v8.8h-4.6zM71.8 375h4.6v10.8h-4.6zM97.2 365.8h4.6v6.2h-4.6zM105 363.8h4.6v4.2h-4.6zM112.7 373h4.6v9.5h-4.6zM120.3 362h4.6v4.8h-4.6zM144.2 378h4.6v7.8h-4.6zM151.9 375.5h4.6v6.2h-4.6zM159.7 370h4.6v8h-4.6zM167.3 378.8h4.6v11.2h-4.6zM175.1 375.8h4.6v9.2h-4.6zM182.8 390h4.6v18h-4.6zM190.4 383.8h4.6v14.2h-4.6zM198.2 381.2h4.6v13h-4.6zM227.8 370h4.6v5h-4.6zM235.4 374.5h4.6v7.2h-4.6zM243.2 383h4.6v9h-4.6zM250.8 372h4.6v8h-4.6zM258.6 375.8h4.6v9.8h-4.6zM266.2 365.8h4.6v4.2h-4.6zM273.9 374.2h4.6v8.8h-4.6zM281.6 388h4.6v8.2h-4.6zM285.5 358.8h4.6v3.2h-4.6zM289.4 383.8h4.6v8.2h-4.6zM297.1 376.8h4.6v8.8h-4.6zM304.8 375h4.6v8.8h-4.6zM312.4 385.8h4.6v8.5h-4.6zM320.1 380h4.6v8.8h-4.6zM327.9 380h4.6v9.2h-4.6zM335.6 382h4.6v9.2h-4.6zM343.2 365h4.6v5h-4.6zM350.9 367.5h4.6v4.5h-4.6zM358.6 375.8h4.6v8.5h-4.6zM366.4 371.8h4.6v7.5h-4.6zM374.1 375.5h4.6v9.5h-4.6zM381.8 380h4.6v12h-4.6zM408 375h4.6v9.2h-4.6zM415.7 375h4.6v9.2h-4.6zM423.4 378.8h4.6v13h-4.6zM431.1 374.5h4.6v7.2h-4.6zM438.8 381.8h4.6v10.8h-4.6zM446.5 371.2h4.6v8.8h-4.6zM471.5 365.8h4.6v6.2h-4.6zM479.2 364.2h4.6v5h-4.6zM486.9 367.5h4.6v6.2h-4.6zM494.6 369.5h4.6v7.2h-4.6zM502.3 388h4.6v1.2h-4.6zM506.2 363h4.6v3.2h-4.6zM510 391.2h4.6v4.5h-4.6zM517.7 368h4.6v4.5h-4.6zM525.4 370.5h4.6v7.8h-4.6zM553 367.5h4.6v3.2h-4.6zM560.7 374.2h4.6v7h-4.6zM568.4 362h4.6v3.8h-4.6zM576.1 372h4.6v9.2h-4.6zM583.8 373h4.6v9.5h-4.6zM591.5 366.2h4.6v5.8h-4.6zM599.2 368.8h4.6v7h-4.6zM606.9 358.8h4.6v2.5h-4.6zM614.6 370h4.6v7.5h-4.6zM622.3 370h4.6v7h-4.6zM647.5 369.5h4.6v6h-4.6zM655.2 375h4.6v8.8h-4.6zM662.9 361.2h4.6v3.2h-4.6zM670.6 364.2h4.6v5.2h-4.6zM678.3 366.2h4.6v6.2h-4.6zM686 440h4.6v5h-4.6zM690 360.5h4.6v3.2h-4.6zM693.7 441.8h4.6v4.5h-4.6zM701.4 372.5h4.6v9.2h-4.6zM728 366.2h4.6v5.8h-4.6zM735.7 372.5h4.6v8.8h-4.6zM743.4 383h4.6v13.2h-4.6zM751.1 373h4.6v8.8h-4.6zM758.8 375.8h4.6v6.2h-4.6zM766.5 367.5h4.6v5h-4.6zM774.2 369.5h4.6v6.8h-4.6zM799.6 399.2h4.6v14.8h-4.6zM807.3 387.4h4.6v12.6h-4.6zM815 391h4.6v13.1h-4.6zM822.7 388.7h4.6v12.9h-4.6zM830.4 386.4h4.6v17.2h-4.6zM838.1 381.7h4.6v10.1h-4.6zM17 1059.5h4.6v6.8h-4.6zM24.7 1058.2h4.6v6.8h-4.6zM32.4 1063.8h4.6v8.8h-4.6zM59.2 1061.2h4.6v8h-4.6zM67 1059.2h4.6v7h-4.6zM74.7 1061.8h4.6v7h-4.6zM82.3 1065h4.6v8.8h-4.6zM90 1062.5h4.6v7.5h-4.6zM97.8 1060h4.6v6.2h-4.6zM113.2 1058h4.6v7h-4.6zM139.2 1066.2h4.6v10h-4.6zM146.9 1058h4.6v3.8h-4.6zM154.7 1059.5h4.6v4.2h-4.6zM162.3 1058h4.6v5.2h-4.6zM170.1 1054.5h4.6v3.5h-4.6zM177.8 1055.8h4.6v4.2h-4.6zM185.4 1060.8h4.6v8h-4.6zM193.2 1056.8h4.6v4.5h-4.6zM220 1092h4.6v4.8h-4.6zM224 1057.5h4.6v5.5h-4.6zM227.7 1098.8h4.6v8.2h-4.6zM235.4 1066.8h4.6v9.5h-4.6zM243.1 1061.2h4.6v8.2h-4.6zM250.8 1115.5h4.6v3.8h-4.6zM254.8 1063h4.6v10.2h-4.6zM258.5 1113h4.6v3.2h-4.6zM266.2 1073.8h4.6v11.2h-4.6zM273.9 1061.8h4.6v8.2h-4.6zM281.6 1061.2h4.6v8.8h-4.6zM289.3 1062.5h4.6v8.8h-4.6zM297 1064.5h4.6v10.5h-4.6zM304.7 1065.8h4.6v12.2h-4.6zM312.4 1058h4.6v6.2h-4.6zM320.1 1109.5h4.6v3.8h-4.6zM324 1071.2h4.6v8.2h-4.6zM327.8 1107.5h4.6v3h-4.6zM335.5 1060h4.6v7.5h-4.6zM343.2 1063.8h4.6v15.8h-4.6zM350.9 1058.8h4.6v8.2h-4.6zM358.6 1066.8h4.6v5.2h-4.6zM362.5 1048.2h4.6v3.5h-4.6zM366.3 1070h4.6v5.8h-4.6zM374 1069.2h4.6v4.5h-4.6zM377.8 1048.2h4.6v3h-4.6zM381.7 1066.8h4.6v4.5h-4.6zM389.4 1058h4.6v7.5h-4.6zM397.1 1056.8h4.6v6.2h-4.6zM404.8 1065.5h4.6v10.8h-4.6zM412.5 1064.5h4.6v6.8h-4.6zM420.2 1052h4.6v3.8h-4.6zM427.9 1058h4.6v6.2h-4.6zM435.6 1054.5h4.6v4.2h-4.6zM443.3 1050.8h4.6v3h-4.6zM451 1057h4.6v4.8h-4.6zM458.7 1055.8h4.6v4.2h-4.6zM466.4 1121.2h4.6v1.8h-4.6zM470.2 1067h4.6v15.5h-4.6zM474.1 1121.8h4.6v1.5h-4.6zM481.8 1058h4.6v10h-4.6zM489.5 1058.8h4.6v7.5h-4.6zM497.2 1051.8h4.6v4h-4.6zM504.9 1055.8h4.6v5.5h-4.6zM512.6 1053.8h4.6v4.2h-4.6zM520.3 1055h4.6v5.8h-4.6zM528 1052.5h4.6v4.2h-4.6zM535.7 1058h4.6v5.2h-4.6zM543.4 1060.5h4.6v5.8h-4.6zM551.1 1056.8h4.6v5.2h-4.6zM558.8 1057.5h4.6v5.8h-4.6zM566.5 1050.8h4.6v6.8h-4.6zM574.2 1055.8h4.6v6h-4.6zM581.9 1053.8h4.6v6.2h-4.6zM589.6 1056.2h4.6v5.8h-4.6zM616.5 1076.8h4.6v9.5h-4.6zM624.2 1071.8h4.6v6.2h-4.6zM631.9 1070h4.6v13h-4.6zM639.6 1068.8h4.6v11.2h-4.6zM667.5 1058h4.6v6.2h-4.6zM675.2 1062.5h4.6v8.2h-4.6zM682.9 1065h4.6v10h-4.6zM690.6 1069.5h4.6v12.5h-4.6zM717.8 1068h4.6v10h-4.6zM725.5 1066.2h4.6v9.5h-4.6zM733.1 1063h4.6v7h-4.6zM740.9 1062h4.6v8h-4.6zM748.5 1056.8h4.6v5.2h-4.6zM756.2 1058h4.6v5.8h-4.6zM785.4 1059.1h4.6v6.6h-4.6zM793.1 1064.2h4.6v9.5h-4.6zM800.8 1060.1h4.6v6.6h-4.6zM808.5 1064.8h4.6v9.7h-4.6zM816.2 1053.4h4.6v4.2h-4.6zM823.9 1060.1h4.6v5.9h-4.6zM831.6 1057.6h4.6v6.2h-4.6zM1048.7 311.8h4.6v4h-4.6zM1077 313.8h4.6v1.2h-4.6zM1084.7 313.8h4.6v2.5h-4.6zM1145 313.8h4.6v0.5h-4.6zM1152.8 314.2h4.6v1.5h-4.6zM1181.5 318h4.6v2.5h-4.6zM1189.2 318.8h4.6v3h-4.6zM1196.9 321.8h4.6v2.5h-4.6zM1204.6 325.8h4.6v4.2h-4.6zM1212.3 321.8h4.6v4h-4.6zM1220 319.5h4.6v3h-4.6zM1227.7 320h4.6v2.5h-4.6zM1235.4 322.5h4.6v3.8h-4.6zM1243.1 318.8h4.6v3.2h-4.6zM1250.8 321.8h4.6v3.8h-4.6zM1258.5 320h4.6v3.2h-4.6zM1266.2 323.2h4.6v3.8h-4.6zM1273.9 323.2h4.6v4.2h-4.6zM1281.6 317.5h4.6v2h-4.6zM1289.3 322.5h4.6v5.5h-4.6zM1297 322.5h4.6v4.5h-4.6zM1304.7 323.2h4.6v4.8h-4.6zM1312.4 332.5h4.6v2h-4.6zM1316.2 316.2h4.6v2h-4.6zM1320.1 335.8h4.6v3h-4.6zM1327.8 318.2h4.6v3h-4.6zM1335.5 320.5h4.6v4.5h-4.6zM1343.2 347h4.6v2.2h-4.6zM1347 315.8h4.6v2.2h-4.6zM1350.9 350h4.6v3.2h-4.6zM1358.6 325.8h4.6v4.2h-4.6zM1366.3 323.2h4.6v3h-4.6zM1374 318h4.6v2.5h-4.6zM1381.7 322h4.6v4.2h-4.6zM1389.4 320.8h4.6v3.5h-4.6zM1397.1 320h4.6v3.2h-4.6zM1404.8 322.5h4.6v4.5h-4.6zM1412.5 321.2h4.6v3.2h-4.6zM1420.2 326.2h4.6v3.8h-4.6zM1427.9 325h4.6v3.2h-4.6zM1435.6 321.8h4.6v4h-4.6zM1443.3 318.2h4.6v2.2h-4.6zM1451 320h4.6v3.8h-4.6zM1458.7 323.2h4.6v4.8h-4.6zM1466.4 323.2h4.6v4.8h-4.6zM1474.1 318.8h4.6v3h-4.6zM1481.8 316.8h4.6v2.5h-4.6zM1489.5 319.5h4.6v3.8h-4.6zM1497.2 320h4.6v3.2h-4.6zM1504.9 319.5h4.6v3h-4.6zM1512.6 320h4.6v3.2h-4.6zM1520.3 320.5h4.6v3.8h-4.6zM1528 321.8h4.6v5.2h-4.6zM1535.7 326.8h4.6v2h-4.6zM1539.5 315.8h4.6v1.2h-4.6zM1543.4 328.8h4.6v3h-4.6zM1551.1 323.2h4.6v4.8h-4.6zM1558.8 321.2h4.6v3.8h-4.6zM1566.5 322h4.6v3.5h-4.6zM1574.2 323.8h4.6v4.2h-4.6zM1581.9 322.5h4.6v3.8h-4.6zM1589.6 317.5h4.6v2.5h-4.6zM1597.3 318.8h4.6v3h-4.6zM1605 320.8h4.6v4.2h-4.6zM1635.5 318.2h4.6v3h-4.6zM1643.2 315h4.6v1.2h-4.6zM1650.9 326.2h4.6v6.2h-4.6zM1658.6 322.5h4.6v5h-4.6zM1666.3 318h4.6v2.5h-4.6zM1674 320.5h4.6v4.5h-4.6zM1704 317h4.6v3h-4.6zM1711.7 330h4.6v6.2h-4.6zM1719.4 325.8h4.6v4.8h-4.6zM1727.1 329.5h4.6v6.8h-4.6zM1734.8 329.5h4.6v6.8h-4.6zM1742.5 324.5h4.6v7.2h-4.6zM1763.1 342.2h4.6v6.9h-4.6zM1770.8 340.4h4.6v5.7h-4.6zM1778.5 338h4.6v6h-4.6zM1786.2 342.7h4.6v9.4h-4.6zM1793.9 337.3h4.6v6.6h-4.6zM1797.7 316h4.6v1.9h-4.6zM1801.6 341.7h4.6v3.7h-4.6zM1809.3 338.4h4.6v1.6h-4.6zM1817.8 326.6h4.6v1h-4.6zM1817 338h4.6v2.4h-4.6zM1824.7 339.9h4.6v3.6h-4.6zM1832.4 320.2h4.6v4h-4.6zM1840.1 328h4.6v8h-4.6zM995.5 1180h4.6v8h-4.6zM1003.2 1176.2h4.6v6.2h-4.6zM1010.9 1178.2h4.6v7.5h-4.6zM1018.6 1198.8h4.6v3.8h-4.6zM1026.3 1200h4.6v4.2h-4.6zM1034 1173.2h4.6v3.5h-4.6zM1041.7 1174.5h4.6v4.2h-4.6zM1049.4 1170h4.6v3.2h-4.6zM1077 1228.8h4.6v7h-4.6zM1081 1165.5h4.6v1.5h-4.6zM1084.7 1233h4.6v8.8h-4.6zM1092.4 1175.5h4.6v6.2h-4.6zM1100.1 1175h4.6v6.2h-4.6zM1126 1188.2h4.6v11.8h-4.6zM1133.7 1180.5h4.6v7.5h-4.6zM1141.4 1175.8h4.6v5.5h-4.6zM1149.1 1181.2h4.6v8h-4.6zM1156.8 1180h4.6v7.5h-4.6zM1164.5 1184.2h4.6v10.2h-4.6zM1172.2 1182h4.6v6h-4.6zM1179.9 1177.5h4.6v4.2h-4.6zM1187.6 1171.8h4.6v4h-4.6zM1195.3 1189.2h4.6v12h-4.6zM1203 1172.5h4.6v3.8h-4.6zM1210.7 1179.5h4.6v7.2h-4.6zM1218.4 1174.2h4.6v4.5h-4.6zM1226.1 1176.2h4.6v5.8h-4.6zM1241.5 1175h4.6v5.8h-4.6zM1249.2 1172.5h4.6v4.5h-4.6zM1256.9 1170h4.6v3.2h-4.6zM1264.6 1172.5h4.6v3.8h-4.6zM1289.5 1185.5h4.6v10.2h-4.6zM1297.2 1188h4.6v12h-4.6zM1304.9 1189.2h4.6v12.5h-4.6zM1312.6 1183.2h4.6v8.8h-4.6zM1339.8 1189.5h4.6v16.8h-4.6zM1347.5 1184.2h4.6v17.5h-4.6zM1355.2 1224.5h4.6v11.8h-4.6zM1359 1176.2h4.6v6.8h-4.6zM1362.8 1220h4.6v8.2h-4.6zM1370.5 1180.5h4.6v23.2h-4.6zM1378.2 1189.2h4.6v13.2h-4.6zM1404.5 1181.2h4.6v8.2h-4.6zM1412.2 1181.8h4.6v9h-4.6zM1419.9 1194.5h4.6v7.2h-4.6zM1423.8 1168.8h4.6v2.5h-4.6zM1427.6 1190.8h4.6v5h-4.6zM1435.3 1185.8h4.6v9.8h-4.6zM1443 1181.8h4.6v7.8h-4.6zM1450.7 1181.2h4.6v8h-4.6zM1475 1174.5h4.6v5h-4.6zM1482.7 1178.2h4.6v7.5h-4.6zM1490.4 1170h4.6v3.2h-4.6zM1498.1 1188h4.6v11.5h-4.6zM1522.8 1178.2h4.6v7.5h-4.6zM1530.5 1183h4.6v8.8h-4.6zM1538.2 1182.5h4.6v8.8h-4.6zM1545.8 1181.2h4.6v7.5h-4.6zM1553.5 1176.2h4.6v5.5h-4.6zM1561.2 1178.2h4.6v6.8h-4.6zM1569 1175.8h4.6v5.5h-4.6zM1576.7 1182h4.6v9.2h-4.6zM1584.3 1180.8h4.6v8.5h-4.6zM1677.5 1176.8h4.6v5h-4.6zM1685.2 1171.2h4.6v1.2h-4.6zM1692.9 1225h4.6v1.8h-4.6zM1700.6 1226.2h4.6v3h-4.6zM1708.3 1176.2h4.6v6.2h-4.6zM1716 1166.2h4.6v1.2h-4.6zM1723.7 1171.2h4.6v3.8h-4.6zM1731.4 1172.5h4.6v3.8h-4.6zM1739.1 1176.8h4.6v5.8h-4.6zM1767.2 1174.2h4.6v4.7h-4.6zM1774.9 1174.7h4.6v5.2h-4.6zM1782.6 1168.1h4.6v3.3h-4.6zM1790.3 1176.1h4.6v5.2h-4.6zM1798 1178.9h4.6v7h-4.6zM1805.7 1176.1h4.6v4.7h-4.6zM1813.4 1181.1h4.6v7.2h-4.6zM1821.1 1178h4.6v6.1h-4.6zM1828.8 1168.1h4.6v1.9h-4.6zM36.2 2080h4.6v3.8h-4.6zM44 2082h4.6v5.5h-4.6zM51.6 2088h4.6v8.2h-4.6zM59.4 2110h4.6v21.8h-4.6zM67 2092h4.6v9.2h-4.6zM74.8 2092h4.6v9.2h-4.6zM96.2 2093.8h4.6v10h-4.6zM104 2088h4.6v5.2h-4.6zM111.7 2089.2h4.6v7.8h-4.6zM119.3 2083.8h4.6v4.5h-4.6zM127 2086.8h4.6v6.5h-4.6zM134.8 2108h4.6v7.5h-4.6zM142.4 2100h4.6v10.5h-4.6zM150.2 2099.5h4.6v11.2h-4.6zM157.8 2090h4.6v8h-4.6zM165.6 2103h4.6v19h-4.6zM173.2 2094.2h4.6v9.5h-4.6zM197.5 2127.5h4.6v8h-4.6zM201.5 2077h4.6v3h-4.6zM205.2 2123h4.6v5.2h-4.6zM212.9 2090.8h4.6v8.8h-4.6zM220.6 2094.2h4.6v10.2h-4.6zM228.3 2088.8h4.6v7.5h-4.6zM236 2097.5h4.6v13.8h-4.6zM265.2 2112.5h4.6v14.5h-4.6zM270.8 2078.8h4.6v1.2h-4.6zM276.5 2109.5h4.6v13h-4.6zM288 2100h4.6v13h-4.6zM295.8 2102.5h4.6v15h-4.6zM303.5 2097h4.6v10h-4.6zM313.2 2147h4.6v12.5h-4.6zM319.2 2110.8h4.6v1.8h-4.6zM324.2 2146.2h4.6v13.2h-4.6zM328 2100h4.6v1.8h-4.6zM335 2134.2h4.6v12.5h-4.6zM338 2080.8h4.6v3.5h-4.6zM344.5 2116.2h4.6v9.2h-4.6zM352.5 2100.5h4.6v13.8h-4.6zM360.8 2118.2h4.6v13.5h-4.6zM366.8 2081.2h4.6v3h-4.6zM372.2 2111.2h4.6v8.8h-4.6zM380 2098.8h4.6v11.2h-4.6zM391.8 2125.5h4.6v26.5h-4.6zM400.5 2127h4.6v17.5h-4.6zM405.2 2082.5h4.6v2h-4.6zM409.5 2116.8h4.6v11.2h-4.6zM419.5 2134.5h4.6v3.5h-4.6zM423.2 2101.2h4.6v5h-4.6zM427.2 2145.8h4.6v10h-4.6zM431.2 2087.5h4.6v0.8h-4.6zM435.8 2123.8h4.6v17h-4.6zM445.5 2117h4.6v18h-4.6zM454 2104.2h4.6v14h-4.6zM466.2 2111.8h4.6v17h-4.6zM477.8 2088.2h4.6v5h-4.6zM489.2 2104.2h4.6v14h-4.6zM500.2 2106.2h4.6v15h-4.6zM512 2109.5h4.6v16.8h-4.6zM523.5 2088.8h4.6v7.5h-4.6zM531.2 2091.8h4.6v9.5h-4.6zM539 2090.8h4.6v8.8h-4.6zM563.2 2081.2h4.6v3.8h-4.6zM571 2077.5h4.6v3.2h-4.6zM578.8 2079.5h4.6v2.2h-4.6zM586.2 2085.8h4.6v6.8h-4.6zM597.8 2093.8h4.6v10.5h-4.6zM601.8 2414.5h4.6v4.2h-4.6zM609.5 2078.2h4.6v3h-4.6zM617.2 2082h4.6v1.8h-4.6zM625 2083.2h4.6v2.5h-4.6zM636.5 2078h4.6v2h-4.6zM632.8 2098h4.6v3.2h-4.6zM640.5 2097.5h4.6v3.2h-4.6zM653.8 2076.8h4.6v2h-4.6zM648.2 2096.2h4.6v1.8h-4.6zM656 2100h4.6v3h-4.6zM663.8 2102.5h4.6v3.8h-4.6zM671.2 2082h4.6v4.2h-4.6zM679 2080.5h4.6v3.8h-4.6zM686.8 2084.5h4.6v2.5h-4.6zM694.5 2081.2h4.6v1.2h-4.6zM713.8 2077h4.6v2.5h-4.6zM706 2170h4.6v1.8h-4.6zM702 2381.2h4.6v4.2h-4.6zM709.8 2377h4.6v3h-4.6zM721.5 2170.5h4.6v2.8h-4.6zM717.5 2390.8h4.6v5.5h-4.6zM725.2 2392h4.6v5.5h-4.6zM733 2077h4.6v2.2h-4.6zM740.8 2084.5h4.6v5.5h-4.6zM748.5 2085.8h4.6v6h-4.6zM756 2082h4.6v4.2h-4.6zM763.8 2087.5h4.6v6.8h-4.6zM771.5 2078.2h4.6v3h-4.6zM779.2 2079.5h4.6v3.5h-4.6zM787 2077.5h4.6v2.5h-4.6zM818.9 2085.7h4.6v9.8h-4.6zM826.3 2087.8h4.6v26.1h-4.6zM834.1 2100.2h4.6v37.2h-4.6z"/>
<path fill="#73ABD2" d="M2.5 379.5h4.6v30h-4.6zM10.2 412h4.6v31.8h-4.6zM17.9 404.2h4.6v28.8h-4.6zM25.6 398h4.6v26.2h-4.6zM33.3 404.2h4.6v37.8h-4.6zM41 395.8h4.6v30.5h-4.6zM48.7 385h4.6v21.2h-4.6zM50.8 360.5h4.6v6.5h-4.6zM56.4 390h4.6v23h-4.6zM64.1 395h4.6v31.8h-4.6zM71.8 385.8h4.6v37.5h-4.6zM97.2 372h4.6v20.5h-4.6zM105 368h4.6v16.5h-4.6zM112.7 382.5h4.6v33.8h-4.6zM120.3 366.8h4.6v15h-4.6zM144.2 385.8h4.6v29.2h-4.6zM148.2 358.8h4.6v4.2h-4.6zM151.9 381.8h4.6v23.2h-4.6zM159.7 378h4.6v27.5h-4.6zM167.3 390h4.6v42.5h-4.6zM175.1 385h4.6v36.8h-4.6zM182.8 408h4.6v65.8h-4.6zM190.4 398h4.6v53.8h-4.6zM198.2 394.2h4.6v50h-4.6zM227.8 375h4.6v18.2h-4.6zM235.4 381.8h4.6v25.2h-4.6zM243.2 392h4.6v31.8h-4.6zM250.8 380h4.6v28.8h-4.6zM258.6 385.5h4.6v36.2h-4.6zM266.2 370h4.6v15.8h-4.6zM273.9 383h4.6v34.5h-4.6zM281.6 396.2h4.6v31.2h-4.6zM285.5 362h4.6v5h-4.6zM289.4 392h4.6v30h-4.6zM297.1 385.5h4.6v30.8h-4.6zM304.8 383.8h4.6v31.8h-4.6zM312.4 394.2h4.6v32.5h-4.6zM320.1 388.8h4.6v31.2h-4.6zM327.9 389.2h4.6v32.5h-4.6zM335.6 391.2h4.6v34.5h-4.6zM343.2 370h4.6v14.2h-4.6zM350.9 372h4.6v16.2h-4.6zM358.6 384.2h4.6v32.5h-4.6zM366.4 379.2h4.6v27.5h-4.6zM374.1 385h4.6v33.8h-4.6zM381.8 392h4.6v43h-4.6zM408 384.2h4.6v35.2h-4.6zM415.7 384.2h4.6v35.2h-4.6zM423.4 391.8h4.6v45.8h-4.6zM431.1 381.8h4.6v26.2h-4.6zM435 357.5h4.6v3.2h-4.6zM438.8 392.5h4.6v40.8h-4.6zM446.5 380h4.6v30.8h-4.6zM471.5 372h4.6v21h-4.6zM479.2 369.2h4.6v17.5h-4.6zM486.9 373.8h4.6v20.5h-4.6zM494.6 376.8h4.6v27h-4.6zM502.3 389.2h4.6v7h-4.6zM510 395.8h4.6v16h-4.6zM512.5 358h4.6v2.8h-4.6zM517.7 372.5h4.6v15h-4.6zM525.4 378.2h4.6v29.8h-4.6zM553 370.8h4.6v12.2h-4.6zM557 357.5h4.6v4.5h-4.6zM560.7 381.2h4.6v23h-4.6zM568.4 365.8h4.6v14.2h-4.6zM576.1 381.2h4.6v33h-4.6zM583.8 382.5h4.6v34.2h-4.6zM591.5 372h4.6v21.8h-4.6zM599.2 375.8h4.6v26.8h-4.6zM606.9 361.2h4.6v8.2h-4.6zM614.6 377.5h4.6v28.8h-4.6zM622.3 377h4.6v27.5h-4.6zM647.5 375.5h4.6v21.5h-4.6zM655.2 383.8h4.6v31.2h-4.6zM662.9 364.5h4.6v13.5h-4.6zM670.6 369.5h4.6v18.8h-4.6zM678.3 372.5h4.6v23.8h-4.6zM686 445h4.6v16.8h-4.6zM690 363.8h4.6v11.8h-4.6zM693.7 446.2h4.6v19.5h-4.6zM701.4 381.8h4.6v34.5h-4.6zM728 372h4.6v20.5h-4.6zM735.7 381.2h4.6v33h-4.6zM743.4 396.2h4.6v50.8h-4.6zM751.1 381.8h4.6v32h-4.6zM758.8 382h4.6v23.5h-4.6zM766.5 372.5h4.6v21.8h-4.6zM774.2 376.2h4.6v24.5h-4.6zM799.6 413.9h4.6v54.3h-4.6zM807.3 400h4.6v42.7h-4.6zM815 404.1h4.6v43.3h-4.6zM822.7 401.6h4.6v40.5h-4.6zM830.4 403.6h4.6v50.7h-4.6zM838.1 391.8h4.6v36.3h-4.6zM17 1066.2h4.6v26.8h-4.6zM24.7 1065h4.6v25h-4.6zM32.4 1072.5h4.6v35h-4.6zM59.2 1069.2h4.6v29h-4.6zM67 1066.2h4.6v26.2h-4.6zM74.7 1068.8h4.6v26.2h-4.6zM82.3 1073.8h4.6v32h-4.6zM90 1070h4.6v28h-4.6zM97.8 1066.2h4.6v25.8h-4.6zM113.2 1065h4.6v25.5h-4.6zM139.2 1076.2h4.6v33.8h-4.6zM146.9 1061.8h4.6v15.2h-4.6zM154.7 1063.8h4.6v16.2h-4.6zM162.3 1063.2h4.6v19.8h-4.6zM170.1 1058h4.6v14.5h-4.6zM177.8 1060h4.6v19.5h-4.6zM185.4 1068.8h4.6v28.2h-4.6zM193.2 1061.2h4.6v17.5h-4.6zM220 1096.8h4.6v12.8h-4.6zM224 1063h4.6v22.5h-4.6zM227.7 1107h4.6v24.8h-4.6zM235.4 1076.2h4.6v23h-4.6zM243.1 1069.5h4.6v28.8h-4.6zM250.8 1119.2h4.6v13.8h-4.6zM254.8 1073.2h4.6v31.8h-4.6zM258.5 1116.2h4.6v10.8h-4.6zM266.2 1085h4.6v30.8h-4.6zM273.9 1070h4.6v30h-4.6zM281.6 1070h4.6v30h-4.6zM289.3 1071.2h4.6v30.5h-4.6zM297 1075h4.6v34.5h-4.6zM304.7 1078h4.6v37h-4.6zM312.4 1064.2h4.6v24.5h-4.6zM320.1 1113.2h4.6v12.2h-4.6zM324 1079.5h4.6v23.8h-4.6zM327.8 1110.5h4.6v6.5h-4.6zM335.5 1067.5h4.6v24.5h-4.6zM343.2 1079.5h4.6v34.2h-4.6zM350.9 1067h4.6v27.2h-4.6zM358.6 1072h4.6v15.5h-4.6zM362.5 1051.8h4.6v7h-4.6zM366.3 1075.8h4.6v20h-4.6zM374 1073.8h4.6v19.2h-4.6zM377.8 1051.2h4.6v7.5h-4.6zM381.7 1071.2h4.6v15h-4.6zM389.4 1065.5h4.6v25h-4.6zM397.1 1063h4.6v22.5h-4.6zM404.8 1076.2h4.6v35.8h-4.6zM412.5 1071.2h4.6v23.2h-4.6zM420.2 1055.8h4.6v12.2h-4.6zM427.9 1064.2h4.6v21.5h-4.6zM435.6 1058.8h4.6v18.2h-4.6zM443.3 1053.8h4.6v12.5h-4.6zM451 1061.8h4.6v17.8h-4.6zM455 1046.8h4.6v1.5h-4.6zM458.7 1060h4.6v15.5h-4.6zM466.4 1123h4.6v2.8h-4.6zM470.2 1082.5h4.6v35.5h-4.6zM474.1 1123.2h4.6v4.2h-4.6zM481.8 1068h4.6v18.2h-4.6zM489.5 1066.2h4.6v24.2h-4.6zM497.2 1055.8h4.6v13h-4.6zM504.9 1061.2h4.6v20.5h-4.6zM512.6 1058h4.6v16.5h-4.6zM520.3 1060.8h4.6v19.2h-4.6zM528 1056.8h4.6v13.8h-4.6zM535.7 1063.2h4.6v16.8h-4.6zM539.5 1047h4.6v1.8h-4.6zM543.4 1066.2h4.6v21.2h-4.6zM551.1 1062h4.6v20h-4.6zM558.8 1063.2h4.6v20.5h-4.6zM566.5 1057.5h4.6v8.2h-4.6zM574.2 1061.8h4.6v21.5h-4.6zM581.9 1060h4.6v12.5h-4.6zM589.6 1062h4.6v21h-4.6zM616.5 1086.2h4.6v34.2h-4.6zM620.5 1049.2h4.6v5.8h-4.6zM624.2 1078h4.6v23.8h-4.6zM631.9 1083h4.6v45.2h-4.6zM639.6 1080h4.6v42h-4.6zM667.5 1064.2h4.6v21.5h-4.6zM675.2 1070.8h4.6v29.8h-4.6zM682.9 1075h4.6v35h-4.6zM690.6 1082h4.6v44.2h-4.6zM717.8 1078h4.6v40.2h-4.6zM725.5 1075.8h4.6v35.5h-4.6zM733.1 1070h4.6v29.2h-4.6zM740.9 1070h4.6v28h-4.6zM748.5 1062h4.6v20.5h-4.6zM756.2 1063.8h4.6v21.2h-4.6zM785.4 1065.7h4.6v23.1h-4.6zM793.1 1073.6h4.6v32.6h-4.6zM800.8 1066.7h4.6v25.9h-4.6zM808.5 1074.5h4.6v35.3h-4.6zM816.2 1057.6h4.6v12.6h-4.6zM823.9 1066.1h4.6v25h-4.6zM831.6 1063.8h4.6v21.2h-4.6zM1048.7 315.8h4.6v1.8h-4.6zM1077 315h4.6v5.5h-4.6zM1084.7 316.2h4.6v0.8h-4.6zM1114.2 325h4.6v3.8h-4.6zM1122 324.5h4.6v3.8h-4.6zM1129.7 323.2h4.6v2.5h-4.6zM1132.5 313.8h4.6v2.5h-4.6zM1145 314.2h4.6v3.8h-4.6zM1152.8 315.8h4.6v5.5h-4.6zM1181.5 320.5h4.6v9.5h-4.6zM1189.2 321.8h4.6v12.8h-4.6zM1196.9 324.2h4.6v10.2h-4.6zM1204.6 330h4.6v17.5h-4.6zM1212.3 325.8h4.6v15h-4.6zM1220 322.5h4.6v13.2h-4.6zM1227.7 322.5h4.6v10.5h-4.6zM1235.4 326.2h4.6v14.5h-4.6zM1243.1 322h4.6v12.5h-4.6zM1250.8 325.5h4.6v12h-4.6zM1258.5 323.2h4.6v8.8h-4.6zM1266.2 327h4.6v7.5h-4.6zM1273.9 327.5h4.6v16.8h-4.6zM1281.6 319.5h4.6v7.5h-4.6zM1289.3 328h4.6v19h-4.6zM1297 327h4.6v16.8h-4.6zM1304.7 328h4.6v18.2h-4.6zM1312.4 334.5h4.6v7.2h-4.6zM1316.2 318.2h4.6v9.2h-4.6zM1320.1 338.8h4.6v11.2h-4.6zM1327.8 321.2h4.6v11.2h-4.6zM1335.5 325h4.6v15.8h-4.6zM1343.2 349.2h4.6v6.5h-4.6zM1347 318h4.6v7h-4.6zM1350.9 353.2h4.6v12.5h-4.6zM1358.6 330h4.6v17h-4.6zM1366.3 326.2h4.6v13.2h-4.6zM1374 320.5h4.6v9.5h-4.6zM1381.7 326.2h4.6v16.2h-4.6zM1389.4 324.2h4.6v13.2h-4.6zM1397.1 323.2h4.6v11.8h-4.6zM1404.8 327h4.6v16.2h-4.6zM1412.5 324.5h4.6v13.5h-4.6zM1420.2 330h4.6v16.2h-4.6zM1427.9 328.2h4.6v13h-4.6zM1435.6 325.8h4.6v16.8h-4.6zM1443.3 320.5h4.6v10.2h-4.6zM1451 323.8h4.6v13.8h-4.6zM1458.7 328h4.6v18.2h-4.6zM1466.4 328h4.6v19h-4.6zM1474.1 321.8h4.6v12h-4.6zM1481.8 319.2h4.6v7.5h-4.6zM1489.5 323.2h4.6v13h-4.6zM1497.2 323.2h4.6v13.5h-4.6zM1504.9 322.5h4.6v11.8h-4.6zM1512.6 323.2h4.6v13.5h-4.6zM1520.3 324.2h4.6v15.8h-4.6zM1528 327h4.6v17.5h-4.6zM1535.7 328.8h4.6v8h-4.6zM1539.5 317h4.6v5.5h-4.6zM1543.4 331.8h4.6v11.5h-4.6zM1551.1 328h4.6v17.8h-4.6zM1558.8 325h4.6v13.8h-4.6zM1566.5 325.5h4.6v12.8h-4.6zM1574.2 328h4.6v15.8h-4.6zM1581.9 326.2h4.6v14.2h-4.6zM1589.6 320h4.6v8.2h-4.6zM1597.3 321.8h4.6v12h-4.6zM1605 325h4.6v15h-4.6zM1635.5 321.2h4.6v10.8h-4.6zM1643.2 316.2h4.6v5.8h-4.6zM1650.9 332.5h4.6v26.2h-4.6zM1658.6 327.5h4.6v18.8h-4.6zM1666.3 320.5h4.6v11.2h-4.6zM1674 325h4.6v15.8h-4.6zM1704 320h4.6v9.5h-4.6zM1711.7 336.2h4.6v23.8h-4.6zM1719.4 330.5h4.6v16.5h-4.6zM1725 315h4.6v1.2h-4.6zM1727.1 336.2h4.6v22.5h-4.6zM1734.8 336.2h4.6v22.5h-4.6zM1742.5 331.8h4.6v24.5h-4.6zM1763.1 349.1h4.6v23.6h-4.6zM1770.8 346.2h4.6v20.8h-4.6zM1778.5 344.1h4.6v23.9h-4.6zM1786.2 352.1h4.6v34.1h-4.6zM1793.9 343.9h4.6v22.6h-4.6zM1797.7 317.9h4.6v5.9h-4.6zM1801.6 345.4h4.6v12.7h-4.6zM1809.3 339.9h4.6v4.4h-4.6zM1817.8 327.6h4.6v4h-4.6zM1817 340.4h4.6v9h-4.6zM1824.7 343.6h4.6v11.4h-4.6zM1832.4 324.1h4.6v13.9h-4.6zM1840.1 336h4.6v29.4h-4.6zM995.5 1188h4.6v28.8h-4.6zM1003.2 1182.5h4.6v21.8h-4.6zM1010.9 1185.8h4.6v26.2h-4.6zM1018.6 1202.5h4.6v14.5h-4.6zM1022.5 1168.2h4.6v1.2h-4.6zM1026.3 1204.2h4.6v15.8h-4.6zM1034 1176.8h4.6v12.8h-4.6zM1041.7 1178.8h4.6v18.8h-4.6zM1049.4 1173.2h4.6v10h-4.6zM1077 1235.8h4.6v25.5h-4.6zM1081 1167h4.6v4.8h-4.6zM1084.7 1241.8h4.6v34h-4.6zM1092.4 1181.8h4.6v24h-4.6zM1100.1 1181.2h4.6v23h-4.6zM1126 1200h4.6v45h-4.6zM1133.7 1188h4.6v29h-4.6zM1141.4 1181.2h4.6v20.8h-4.6zM1149.1 1189.2h4.6v30.8h-4.6zM1156.8 1187.5h4.6v28.8h-4.6zM1164.5 1194.5h4.6v38.5h-4.6zM1172.2 1188h4.6v22.8h-4.6zM1176 1167.5h4.6v1.8h-4.6zM1179.9 1181.8h4.6v14.5h-4.6zM1187.6 1175.8h4.6v13.8h-4.6zM1195.3 1201.2h4.6v46.8h-4.6zM1203 1176.2h4.6v13.8h-4.6zM1210.7 1186.8h4.6v28.2h-4.6zM1218.4 1178.8h4.6v17h-4.6zM1226.1 1182h4.6v23h-4.6zM1241.5 1180.8h4.6v19.2h-4.6zM1249.2 1177h4.6v15.5h-4.6zM1256.9 1173.2h4.6v11h-4.6zM1264.6 1176.2h4.6v13.8h-4.6zM1289.5 1195.8h4.6v39.2h-4.6zM1297.2 1200h4.6v45h-4.6zM1304.9 1201.8h4.6v46.5h-4.6zM1312.6 1192h4.6v34.2h-4.6zM1339.8 1206.2h4.6v36.2h-4.6zM1347.5 1201.8h4.6v38.8h-4.6zM1355.2 1236.2h4.6v38h-4.6zM1359 1183h4.6v22.5h-4.6zM1362.8 1228.2h4.6v28.5h-4.6zM1370.5 1203.8h4.6v30h-4.6zM1378.2 1202.5h4.6v41.2h-4.6zM1404.5 1189.5h4.6v30h-4.6zM1412.2 1190.8h4.6v33h-4.6zM1419.9 1201.8h4.6v27h-4.6zM1423.8 1171.2h4.6v8.8h-4.6zM1427.6 1195.8h4.6v20h-4.6zM1435.3 1195.5h4.6v37h-4.6zM1443 1189.5h4.6v28.5h-4.6zM1450.7 1189.2h4.6v30.8h-4.6zM1475 1179.5h4.6v18.5h-4.6zM1482.7 1185.8h4.6v26.2h-4.6zM1490.4 1173.2h4.6v11.8h-4.6zM1498.1 1199.5h4.6v45.5h-4.6zM1522.8 1185.8h4.6v28h-4.6zM1530.5 1191.8h4.6v37.5h-4.6zM1538.2 1191.2h4.6v34.5h-4.6zM1545.8 1188.8h4.6v29.2h-4.6zM1553.5 1181.8h4.6v20.2h-4.6zM1561.2 1185h4.6v27.5h-4.6zM1569 1181.2h4.6v21.2h-4.6zM1576.7 1191.2h4.6v34.5h-4.6zM1584.3 1189.2h4.6v31.5h-4.6zM1677.5 1181.8h4.6v18.2h-4.6zM1685.2 1172.5h4.6v6.2h-4.6zM1692.9 1226.8h4.6v5.2h-4.6zM1700.6 1229.2h4.6v8.2h-4.6zM1708.3 1182.5h4.6v22h-4.6zM1716 1167.5h4.6v2.5h-4.6zM1723.7 1175h4.6v11.8h-4.6zM1731.4 1176.2h4.6v13.8h-4.6zM1739.1 1182.5h4.6v22.5h-4.6zM1767.2 1178.9h4.6v18.1h-4.6zM1774.9 1179.8h4.6v19h-4.6zM1782.6 1171.4h4.6v7.5h-4.6zM1790.3 1181.2h4.6v19.7h-4.6zM1798 1185.9h4.6v24.8h-4.6zM1805.7 1180.8h4.6v19.2h-4.6zM1813.4 1188.3h4.6v29.5h-4.6zM1821.1 1184.1h4.6v24.8h-4.6zM1828.8 1170h4.6v8.4h-4.6zM36.2 2083.8h4.6v13.2h-4.6zM44 2087.5h4.6v17.5h-4.6zM51.6 2096.2h4.6v29.5h-4.6zM59.4 2131.8h4.6v70.8h-4.6zM67 2101.2h4.6v35h-4.6zM74.8 2101.2h4.6v35h-4.6zM96.2 2103.8h4.6v36.2h-4.6zM104 2093.2h4.6v21h-4.6zM111.7 2097h4.6v28.5h-4.6zM119.3 2088.2h4.6v14.8h-4.6zM127 2093.2h4.6v24.8h-4.6zM134.8 2115.5h4.6v27.5h-4.6zM142.4 2110.5h4.6v37.5h-4.6zM150.2 2110.8h4.6v44.8h-4.6zM157.8 2098h4.6v29.5h-4.6zM165.6 2122h4.6v54.2h-4.6zM173.2 2103.8h4.6v36.2h-4.6zM197.5 2135.5h4.6v29h-4.6zM201.5 2080h4.6v6.8h-4.6zM205.2 2128.2h4.6v20.5h-4.6zM212.9 2099.5h4.6v33.5h-4.6zM220.6 2104.5h4.6v40.5h-4.6zM228.3 2096.2h4.6v30.5h-4.6zM236 2111.2h4.6v47.5h-4.6zM265.2 2127h4.6v53.5h-4.6zM270.8 2080h4.6v3.8h-4.6zM276.5 2122.5h4.6v48.2h-4.6zM288 2113h4.6v47h-4.6zM295.8 2117.5h4.6v52.5h-4.6zM303.5 2107h4.6v40.5h-4.6zM313.2 2159.5h4.6v44.2h-4.6zM319.2 2112.5h4.6v8h-4.6zM324.2 2159.5h4.6v46h-4.6zM328 2101.8h4.6v4.5h-4.6zM335 2146.8h4.6v47h-4.6zM338 2084.2h4.6v12.8h-4.6zM344.5 2125.5h4.6v34.5h-4.6zM352.5 2114.2h4.6v48.2h-4.6zM360.8 2131.8h4.6v46.5h-4.6zM366.8 2084.2h4.6v9.5h-4.6zM372.2 2120h4.6v33.8h-4.6zM380 2110h4.6v41.2h-4.6zM391.8 2152h4.6v89.2h-4.6zM400.5 2144.5h4.6v66.2h-4.6zM405.2 2084.5h4.6v6.8h-4.6zM409.5 2128h4.6v46.2h-4.6zM419.5 2138h4.6v16.5h-4.6zM423.2 2106.2h4.6v19.5h-4.6zM427.2 2155.8h4.6v38.5h-4.6zM431.2 2088.2h4.6v3h-4.6zM435.8 2140.8h4.6v61.8h-4.6zM438 2080.5h4.6v4h-4.6zM445.5 2135h4.6v60.8h-4.6zM454 2118.2h4.6v50.5h-4.6zM466.2 2128.8h4.6v65.8h-4.6zM477.8 2093.2h4.6v20h-4.6zM489.2 2118.2h4.6v53.5h-4.6zM500.2 2121.2h4.6v56.2h-4.6zM512 2126.2h4.6v64.5h-4.6zM523.5 2096.2h4.6v29.2h-4.6zM531.2 2101.2h4.6v34.5h-4.6zM539 2099.5h4.6v33.5h-4.6zM563.2 2085h4.6v15h-4.6zM571 2080.8h4.6v8.8h-4.6zM578.8 2081.8h4.6v8.2h-4.6zM586.2 2092.5h4.6v22.5h-4.6zM597.8 2104.2h4.6v38.2h-4.6zM594 2408.8h4.6v3.8h-4.6zM601.8 2418.8h4.6v17h-4.6zM609.5 2081.2h4.6v10h-4.6zM617.2 2083.8h4.6v6.2h-4.6zM625 2085.8h4.6v8.5h-4.6zM636.5 2080h4.6v10h-4.6zM632.8 2101.2h4.6v11.8h-4.6zM640.5 2100.8h4.6v11.2h-4.6zM653.8 2078.8h4.6v5h-4.6zM648.2 2098h4.6v5.8h-4.6zM656 2103h4.6v13.2h-4.6zM663.8 2106.2h4.6v20.5h-4.6zM671.2 2086.2h4.6v15.8h-4.6zM679 2084.2h4.6v13.8h-4.6zM686.8 2087h4.6v9.8h-4.6zM690.5 2076.2h4.6v2.5h-4.6zM694.5 2082.5h4.6v5h-4.6zM713.8 2079.5h4.6v8.8h-4.6zM706 2171.8h4.6v6.2h-4.6zM702 2385.5h4.6v17h-4.6zM709.8 2380h4.6v8.8h-4.6zM721.5 2173.2h4.6v6.8h-4.6zM717.5 2396.2h4.6v19.5h-4.6zM725.2 2397.5h4.6v21.2h-4.6zM733 2079.2h4.6v6.5h-4.6zM740.8 2090h4.6v20.8h-4.6zM748.5 2091.8h4.6v24h-4.6zM756 2086.2h4.6v17.5h-4.6zM763.8 2094.2h4.6v26.5h-4.6zM771.5 2081.2h4.6v8.8h-4.6zM779.2 2083h4.6v12h-4.6zM787 2080h4.6v8.2h-4.6zM818.9 2095.4h4.6v23.9h-4.6zM826.3 2113.9h4.6v27.6h-4.6zM834.1 2137.4h4.6v51.1h-4.6z"/>
<path fill="#FBB067" d="M2.5 409.5h4.6v3.8h-4.6zM10.2 443.8h4.6v5.5h-4.6zM17.9 433h4.6v5.8h-4.6zM25.6 424.2h4.6v2.5h-4.6zM41 426.2h4.6v51.2h-4.6zM48.7 406.2h4.6v2.5h-4.6zM56.4 413h4.6v2h-4.6zM64.1 426.8h4.6v5h-4.6zM71.8 423.2h4.6v16.8h-4.6zM97.2 392.5h4.6v16.2h-4.6zM105 384.5h4.6v6.8h-4.6zM112.7 416.2h4.6v2.5h-4.6zM151.9 405h4.6v3h-4.6zM167.3 432.5h4.6v2h-4.6zM182.8 473.8h4.6v3h-4.6zM198.2 444.2h4.6v14.5h-4.6zM471.5 393h4.6v5.2h-4.6zM479.2 386.8h4.6v6.2h-4.6zM486.9 394.2h4.6v10.2h-4.6zM494.6 403.8h4.6v6.2h-4.6zM502.3 396.2h4.6v59.2h-4.6zM506.2 366.2h4.6v16.2h-4.6zM510 411.8h4.6v22.8h-4.6zM517.7 387.5h4.6v60h-4.6zM525.4 408h4.6v2h-4.6zM553 383h4.6v17.5h-4.6zM560.7 404.2h4.6v2.5h-4.6zM568.4 380h4.6v8h-4.6zM576.1 414.2h4.6v3.2h-4.6zM583.8 416.8h4.6v5h-4.6zM591.5 393.8h4.6v3.2h-4.6zM599.2 402.5h4.6v3.8h-4.6zM614.6 406.2h4.6v3.8h-4.6zM647.5 397h4.6v9.8h-4.6zM655.2 415h4.6v4.2h-4.6zM662.9 378h4.6v95.8h-4.6zM670.6 388.2h4.6v81h-4.6zM678.3 396.2h4.6v19.5h-4.6zM686 461.8h4.6v12h-4.6zM690 375.5h4.6v56.5h-4.6zM693.7 465.8h4.6v3h-4.6zM701.4 416.2h4.6v2h-4.6zM728 392.5h4.6v1.2h-4.6zM735.7 414.2h4.6v3.2h-4.6zM751.1 413.8h4.6v3.2h-4.6zM758.8 405.5h4.6v5h-4.6zM766.5 394.2h4.6v5.2h-4.6zM774.2 400.8h4.6v8h-4.6zM799.6 468.2h4.6v80.1h-4.6zM807.3 442.7h4.6v7.6h-4.6zM815 447.4h4.6v2.5h-4.6zM822.7 442.1h4.6v3.4h-4.6zM830.4 454.3h4.6v1.5h-4.6zM17 1093h4.6v2h-4.6zM24.7 1090h4.6v1.8h-4.6zM32.4 1107.5h4.6v3.8h-4.6zM59.2 1098.2h4.6v1.2h-4.6zM139.2 1110h4.6v1.8h-4.6zM146.9 1077h4.6v20.5h-4.6zM154.7 1080h4.6v34.5h-4.6zM162.3 1083h4.6v29.5h-4.6zM185.4 1097h4.6v8h-4.6zM254.8 1105h4.6v2h-4.6zM297 1109.5h4.6v2.2h-4.6zM335.5 1092h4.6v1.8h-4.6zM350.9 1094.2h4.6v4.5h-4.6zM389.4 1090.5h4.6v1.2h-4.6zM420.2 1068h4.6v8.8h-4.6zM427.9 1085.8h4.6v1h-4.6zM458.7 1075.5h4.6v2h-4.6zM470.2 1118h4.6v2h-4.6zM520.3 1080h4.6v1.2h-4.6zM528 1070.5h4.6v12.5h-4.6zM535.7 1080h4.6v2.5h-4.6zM551.1 1082h4.6v3.5h-4.6zM558.8 1083.8h4.6v8h-4.6zM566.5 1065.8h4.6v6h-4.6zM616.5 1120.5h4.6v13.2h-4.6zM620.5 1055h4.6v4.2h-4.6zM624.2 1101.8h4.6v8.2h-4.6zM631.9 1128.2h4.6v3h-4.6zM639.6 1122h4.6v9.8h-4.6zM675.2 1100.5h4.6v1.5h-4.6zM682.9 1110h4.6v1.8h-4.6zM690.6 1126.2h4.6v2.5h-4.6zM756.2 1085h4.6v1.2h-4.6zM785.4 1088.8h4.6v1h-4.6zM793.1 1106.2h4.6v1.5h-4.6zM808.5 1109.9h4.6v1h-4.6zM816.2 1070.2h4.6v40.4h-4.6zM823.9 1091h4.6v34.7h-4.6zM831.6 1085h4.6v1h-4.6zM1033.2 314.2h4.6v14.5h-4.6zM1041 315h4.6v8.2h-4.6zM1048.7 317.5h4.6v5h-4.6zM1077 320.5h4.6v8.2h-4.6zM1084.7 317h4.6v10.5h-4.6zM1114.2 328.8h4.6v3.2h-4.6zM1122 328.2h4.6v3h-4.6zM1129.7 325.8h4.6v3h-4.6zM1145 318h4.6v5h-4.6zM1181.5 330h4.6v3.8h-4.6zM1189.2 334.5h4.6v1.8h-4.6zM1196.9 334.5h4.6v10h-4.6zM1204.6 347.5h4.6v15h-4.6zM1212.3 340.8h4.6v3h-4.6zM1227.7 333h4.6v1.2h-4.6zM1235.4 340.8h4.6v1h-4.6zM1243.1 334.5h4.6v4.8h-4.6zM1250.8 337.5h4.6v20.5h-4.6zM1258.5 332h4.6v10.5h-4.6zM1266.2 334.5h4.6v13.5h-4.6zM1273.9 344.2h4.6v1.2h-4.6zM1281.6 327h4.6v3h-4.6zM1289.3 347h4.6v10h-4.6zM1297 343.8h4.6v3h-4.6zM1304.7 346.2h4.6v0.8h-4.6zM1316.2 327.5h4.6v3h-4.6zM1320.1 350h4.6v1.8h-4.6zM1327.8 332.5h4.6v3.8h-4.6zM1335.5 340.8h4.6v8.8h-4.6zM1343.2 355.8h4.6v3.8h-4.6zM1347 325h4.6v18.2h-4.6zM1350.9 365.8h4.6v1h-4.6zM1374 330h4.6v4.2h-4.6zM1381.7 342.5h4.6v2.5h-4.6zM1397.1 335h4.6v1.2h-4.6zM1412.5 338h4.6v1.5h-4.6zM1420.2 346.2h4.6v0.8h-4.6zM1435.6 342.5h4.6v1.8h-4.6zM1451 337.5h4.6v5.8h-4.6zM1458.7 346.2h4.6v1.2h-4.6zM1466.4 347h4.6v1.8h-4.6zM1481.8 326.8h4.6v4.5h-4.6zM1497.2 336.8h4.6v5.8h-4.6zM1504.9 334.2h4.6v1.5h-4.6zM1520.3 340h4.6v0.8h-4.6zM1543.4 343.2h4.6v2.2h-4.6zM1558.8 338.8h4.6v1.8h-4.6zM1589.6 328.2h4.6v1h-4.6zM1605 340h4.6v5.5h-4.6zM1635.5 332h4.6v6h-4.6zM1650.9 358.8h4.6v4.2h-4.6zM1658.6 346.2h4.6v9.2h-4.6zM1666.3 331.8h4.6v25.8h-4.6zM1674 340.8h4.6v10.5h-4.6zM1711.7 360h4.6v2h-4.6zM1719.4 347h4.6v4.2h-4.6zM1727.1 358.8h4.6v9.5h-4.6zM1734.8 358.8h4.6v8.2h-4.6zM1742.5 356.2h4.6v1.2h-4.6zM1763.1 372.7h4.6v2.1h-4.6zM1770.8 366.9h4.6v2.6h-4.6zM1778.5 368h4.6v3.6h-4.6zM1786.2 386.2h4.6v3.4h-4.6zM1793.9 366.4h4.6v3.1h-4.6zM1801.6 358.1h4.6v117.5h-4.6zM1809.3 344.3h4.6v143h-4.6zM1817.8 331.6h4.6v2.1h-4.6zM1817 349.5h4.6v30.8h-4.6zM1824.7 355h4.6v83.7h-4.6zM1832.4 338h4.6v1.7h-4.6zM1840.1 365.4h4.6v2.6h-4.6zM995.5 1216.8h4.6v42h-4.6zM1003.2 1204.2h4.6v56.5h-4.6zM1010.9 1212h4.6v13h-4.6zM1018.6 1217h4.6v9.8h-4.6zM1022.5 1169.5h4.6v21.8h-4.6zM1026.3 1220h4.6v14.5h-4.6zM1034 1189.5h4.6v10.5h-4.6zM1041.7 1197.5h4.6v19.2h-4.6zM1049.4 1183.2h4.6v1.8h-4.6zM1077 1261.2h4.6v5.5h-4.6zM1081 1171.8h4.6v40.8h-4.6zM1084.7 1275.8h4.6v6.2h-4.6zM1092.4 1205.8h4.6v6.2h-4.6zM1100.1 1204.2h4.6v74h-4.6zM1126 1245h4.6v2.5h-4.6zM1133.7 1217h4.6v17.2h-4.6zM1141.4 1202h4.6v3.8h-4.6zM1149.1 1220h4.6v2h-4.6zM1156.8 1216.2h4.6v11.2h-4.6zM1164.5 1233h4.6v12.8h-4.6zM1172.2 1210.8h4.6v13h-4.6zM1176 1169.2h4.6v0.8h-4.6zM1179.9 1196.2h4.6v8.8h-4.6zM1195.3 1248h4.6v2.8h-4.6zM1203 1190h4.6v31.8h-4.6zM1210.7 1215h4.6v30h-4.6zM1218.4 1195.8h4.6v31.2h-4.6zM1226.1 1205h4.6v20h-4.6zM1241.5 1200h4.6v15.5h-4.6zM1249.2 1192.5h4.6v35h-4.6zM1256.9 1184.2h4.6v2.5h-4.6zM1264.6 1190h4.6v7.5h-4.6zM1289.5 1235h4.6v2h-4.6zM1297.2 1245h4.6v0.8h-4.6zM1304.9 1248.2h4.6v2.5h-4.6zM1312.6 1226.2h4.6v2.5h-4.6zM1339.8 1242.5h4.6v1.2h-4.6zM1404.5 1219.5h4.6v1.2h-4.6zM1443 1218h4.6v2.5h-4.6zM1475 1198h4.6v15.2h-4.6zM1482.7 1212h4.6v42.2h-4.6zM1490.4 1185h4.6v3.2h-4.6zM1498.1 1245h4.6v19.2h-4.6zM1522.8 1213.8h4.6v3.8h-4.6zM1553.5 1202h4.6v1.2h-4.6zM1569 1202.5h4.6v1.8h-4.6zM1584.3 1220.8h4.6v6.8h-4.6zM1685.2 1178.8h4.6v3.8h-4.6zM1692.9 1232h4.6v7.5h-4.6zM1696.8 1168h4.6v3.2h-4.6zM1700.6 1237.5h4.6v6.2h-4.6zM1708.3 1204.5h4.6v6.2h-4.6zM1731.4 1190h4.6v3.2h-4.6zM1739.1 1205h4.6v3h-4.6zM1767.2 1197h4.6v23.2h-4.6zM1774.9 1198.9h4.6v59.7h-4.6zM1782.6 1178.9h4.6v51.6h-4.6zM1790.3 1200.9h4.6v46.9h-4.6zM1798 1210.8h4.6v23.4h-4.6zM1805.7 1200h4.6v46.4h-4.6zM1813.4 1217.8h4.6v33.7h-4.6zM1821.1 1208.9h4.6v55.3h-4.6zM1828.8 1178.4h4.6v25.8h-4.6zM36.2 2097h4.6v118.8h-4.6zM44 2105h4.6v49.5h-4.6zM59.4 2202.5h4.6v1.2h-4.6zM67 2136.2h4.6v1.2h-4.6zM111.7 2125.5h4.6v1.2h-4.6zM119.3 2103h4.6v12h-4.6zM127 2118h4.6v30.8h-4.6zM134.8 2143h4.6v1.5h-4.6zM165.6 2176.2h4.6v0.8h-4.6zM173.2 2140h4.6v0.8h-4.6zM197.5 2164.5h4.6v10.5h-4.6zM201.5 2086.8h4.6v25.2h-4.6zM205.2 2148.8h4.6v5h-4.6zM212.9 2133h4.6v29.5h-4.6zM220.6 2145h4.6v3h-4.6zM228.3 2126.8h4.6v8.8h-4.6zM236 2158.8h4.6v5.5h-4.6zM265.2 2180.5h4.6v1.5h-4.6zM352.5 2162.5h4.6v13.2h-4.6zM563.2 2100h4.6v72.5h-4.6zM571 2089.5h4.6v37.2h-4.6zM578.8 2090h4.6v155h-4.6zM586.2 2115h4.6v83.2h-4.6zM597.8 2142.5h4.6v263.2h-4.6zM594 2412.5h4.6v3h-4.6zM601.8 2435.8h4.6v33h-4.6zM609.5 2091.2h4.6v5.8h-4.6zM621.2 2074.2h4.6v5h-4.6zM636.5 2090h4.6v1.8h-4.6zM632.8 2113h4.6v118.2h-4.6zM640.5 2112h4.6v65.5h-4.6zM653.8 2083.8h4.6v8.2h-4.6zM648.2 2103.8h4.6v1.8h-4.6zM656 2116.2h4.6v1.8h-4.6zM663.8 2126.8h4.6v2.5h-4.6zM671.2 2102h4.6v57.5h-4.6zM679 2098h4.6v124h-4.6zM686.8 2096.8h4.6v27h-4.6zM694.5 2087.5h4.6v48.8h-4.6zM713.8 2088.2h4.6v79.2h-4.6zM706 2178h4.6v195.2h-4.6zM702 2402.5h4.6v5h-4.6zM709.8 2388.8h4.6v20h-4.6zM721.5 2180h4.6v200.8h-4.6zM717.5 2415.8h4.6v1.8h-4.6zM725.2 2418.8h4.6v4.2h-4.6zM733 2085.8h4.6v106h-4.6zM740.8 2110.8h4.6v6.8h-4.6zM748.5 2115.8h4.6v4.2h-4.6zM756 2103.8h4.6v115.8h-4.6zM763.8 2120.8h4.6v5h-4.6zM771.5 2090h4.6v131.8h-4.6zM779.2 2095h4.6v113.8h-4.6zM787 2088.2h4.6v3.5h-4.6zM818.9 2119.4h4.6v40.9h-4.6zM826.3 2141.5h4.6v24.6h-4.6zM834.1 2188.5h4.6v40.2h-4.6z"/>
<path fill="#A6D571" d="M105 391.2h4.6v11.2h-4.6zM151.9 408h4.6v2h-4.6zM175.1 421.8h4.6v1.5h-4.6zM190.4 451.8h4.6v6.2h-4.6zM408 419.5h4.6v3h-4.6zM415.7 419.5h4.6v1.8h-4.6zM423.4 437.5h4.6v9.2h-4.6zM431.1 408h4.6v14.5h-4.6zM438.8 433.2h4.6v10.5h-4.6zM446.5 410.8h4.6v11.8h-4.6zM622.3 404.5h4.6v1h-4.6zM67 1092.5h4.6v3.8h-4.6zM74.7 1095h4.6v1.8h-4.6zM97.8 1092h4.6v2.5h-4.6zM170.1 1072.5h4.6v3.8h-4.6zM185.4 1105h4.6v1.8h-4.6zM1220 335.8h4.6v1h-4.6zM1358.6 347h4.6v1h-4.6zM1412.5 339.5h4.6v3.8h-4.6zM1427.9 341.2h4.6v0.8h-4.6zM1081 1212.5h4.6v3.8h-4.6zM1084.7 1282h4.6v1.2h-4.6zM1092.4 1212h4.6v8.8h-4.6zM1100.1 1278.2h4.6v1.2h-4.6zM1475 1213.2h4.6v23h-4.6zM1482.7 1254.2h4.6v20.8h-4.6zM1490.4 1188.2h4.6v2.2h-4.6zM1498.1 1264.2h4.6v2.5h-4.6zM1677.5 1200h4.6v48h-4.6zM1685.2 1182.5h4.6v80.8h-4.6zM1692.9 1239.5h4.6v9.8h-4.6zM1696.8 1171.2h4.6v50h-4.6zM1700.6 1243.8h4.6v24.2h-4.6zM1708.3 1210.8h4.6v13h-4.6zM1716 1170h4.6v49.5h-4.6zM1723.7 1186.8h4.6v65.8h-4.6zM1731.4 1193.2h4.6v22.2h-4.6zM1739.1 1208h4.6v12.5h-4.6zM1767.2 1220.2h4.6v27.7h-4.6zM1774.9 1258.6h4.6v16.1h-4.6zM1782.6 1230.5h4.6v1.6h-4.6zM1790.3 1247.8h4.6v52h-4.6zM1798 1234.2h4.6v31.1h-4.6zM1805.7 1246.4h4.6v37.2h-4.6zM1813.4 1251.6h4.6v32.1h-4.6zM1821.1 1264.2h4.6v7h-4.6zM1828.8 1204.2h4.6v16.4h-4.6z"/>
<path fill="#A3ABC9" d="M651.5 355h4.6v3h-4.6zM105.5 1048h4.6v2.5h-4.6zM1033.2 311.8h4.6v2.5h-4.6zM1041 311.8h4.6v3.2h-4.6zM1124.5 317.5h4.6v4.5h-4.6zM1137.3 318.2h4.6v2.2h-4.6zM1152.8 321.2h4.6v1.2h-4.6zM1200.8 314.2h4.6v3.2h-4.6zM1231.5 313h4.6v2h-4.6zM1254.5 313h4.6v2h-4.6zM1362.5 313h4.6v4h-4.6zM1424 313h4.6v4.5h-4.6zM1577.5 313h4.6v2h-4.6zM1767 325.4h4.6v4.4h-4.6zM1681.5 1165h4.6v2.5h-4.6zM1696.8 1165h4.6v3h-4.6z"/>
<path fill="#F58426" d="M1205 632h4.6v1.2h-4.6zM1682 654.5h4.6v1.2h-4.6zM1743.6 641.8h4.6v8.2h-4.6zM659 1498.1h4.6v6.9h-4.6zM743.5 1486.6h4.6v1.2h-4.6z"/>
<path fill="#F68F67" d="M47 1915h4.6v3.8h-4.6zM695.2 1915h4.6v3.8h-4.6zM706.8 1915h4.6v5h-4.6zM804.4 1915.7h4.6v5.8h-4.6zM812.1 1915.7h4.6v2.4h-4.6zM819.8 1915.7h4.6v4.1h-4.6zM827.5 1915.7h4.6v13.5h-4.6zM835.2 1915.7h4.6v10.1h-4.6zM842.9 1922.4h4.6v11.5h-4.6zM850.6 1922.4h4.6v3.4h-4.6zM858.3 1915.7h4.6v6.2h-4.6zM866 1915.7h4.6v18.3h-4.6zM881.4 1915.7h4.6v6.2h-4.6zM889.1 1915.7h4.6v3.8h-4.6z"/>
<path fill="none" stroke="#BBBBBB" stroke-width="0.6" d="M41 41.2L71.8 41.2M0.2 40L74.1 40M97.8 40L125.4 40M151.6 42.5L159.2 42.5M174.7 41.2L182.4 41.2M190.1 40.8L205.5 40.8M149.2 40L207.8 40M248 41.2L255.7 41.2M309.6 41.2L317.2 41.2M340.4 41.2L355.8 41.2M363.4 40.8L371.2 40.8M230.2 39.5L388.9 39.5M414.1 41.2L421.8 41.2M411.8 40L454.9 40M477.5 40.8L536 40.8M574.9 42.5L582.6 42.5M557.2 41.2L631.1 41.2M654.5 41.2L662.2 41.2M677.6 41.2L685.3 41.2M652.2 40.5L710.8 40.5M736.3 42L744 42M734 40.8L784.8 40.8M807.3 39.8L850.4 39.8M2 223.2L75.9 223.2M97.5 223.2L125.2 223.2M147.8 223.2L206.2 223.2M228.8 223.2L387.4 223.2M408.5 223.2L451.6 223.2M474.5 223.2L533 223.2M555.5 223.2L629.4 223.2M650.5 223.2L709 223.2M731 223.2L781.8 223.2M805.8 223.1L848.9 223.1M2.5 355.5L76.4 355.5M97.2 355.5L124.9 355.5M144.2 355.5L202.8 355.5M227.8 355.5L386.4 355.5M410.3 356.2L418 356.2M408 355L451.1 355M471.5 355.5L530 355.5M553 355.5L626.9 355.5M647.5 355L706 355M728 355.5L778.8 355.5M799.6 355L842.7 355M145.2 739.5L203.8 739.5M243.5 743.8L251.2 743.8M297.4 743L305.1 743M374.4 753.8L382.1 753.8M225.8 741.8L600 741.8M621.5 741.2L649.2 741.2M731 742.5L738.7 742.5M721 741.2L764.1 741.2M790.3 742.9L798 742.9M788 741L838.8 741M15.5 917.5L35.5 917.5M59.2 919.2L117.8 919.2M142 919.2L200.5 919.2M223 919.2L597.2 919.2M618.2 919.2L646 919.2M669.2 919.2L697 919.2M719.2 919.2L762.4 919.2M787 919.3L837.8 919.3M77 1047.5L84.6 1047.5M100 1046.2L107.8 1046.2M59.2 1045L117.8 1045M139.2 1045L197.8 1045M368.6 1059.2L376.3 1059.2M422.5 1046.2L430.2 1046.2M553.4 1045.8L561.1 1045.8M220 1045L594.2 1045M616.5 1046.2L644.2 1046.2M717.8 1046.2L760.9 1046.2M1031.8 24.2L1051.8 24.2M1198 27L1205.6 27M1251.8 26.2L1259.5 26.2M1267.2 25.8L1305.8 25.8M1359.6 25.8L1367.3 25.8M1382.8 25L1398.1 25M1459.8 25L1467.5 25M1498.2 25.8L1513.6 25.8M1521.3 25L1529 25M1180.2 24.2L1608.3 24.2M1630.8 23.8L1673.8 23.8M1700.8 24.2L1743.8 24.2M1768.4 24.2L1783.8 24.2M1806.9 25.3L1814.6 25.3M1766.1 23.6L1847.7 23.6M1111.2 198.5L1147 198.5M1135 187.5L1154.5 187.5M1191.2 187.5L1611.6 187.5M1183.5 187.5L1610.8 187.5M1635.5 187L1678.6 187M1704 189.5L1747.1 189.5M1766.1 189.8L1847.7 189.8M1116.5 322L1124.2 322M1268.5 313.8L1283.9 313.8M1299.3 313.8L1307 313.8M1384 313.8L1414.8 313.8M1453.3 313.8L1461 313.8M1499.5 313.8L1514.9 313.8M1553.4 313.8L1561.1 313.8M1568.8 315L1576.5 315M1181.5 313L1609.6 313M1635.5 313L1678.6 313M1714 317L1721.7 317M1729.4 317L1737.1 317M1704 311.8L1747.1 311.8M1780.8 325.4L1796.2 325.4M1803.9 335.2L1811.6 335.2M1834.7 312.9L1842.4 312.9M1797.7 312.4L1844.5 312.4M1767 325.4L1822.1 325.4M1805.5 333.9L1828.9 333.9M996.5 580L1004.2 580M994.2 579.2L1052.8 579.2M1077 579.2L1104.7 579.2M1138 580.8L1145.7 580.8M1176.5 581.2L1184.2 581.2M1222.7 580.8L1238.1 580.8M1128 579.2L1271.2 579.2M1292.5 579.2L1320.2 579.2M1342.5 578.8L1385.6 578.8M1439.3 580L1454.8 580M1406.2 579.2L1457 579.2M1531.5 580L1547 580M1585.5 580L1593.1 580M1529.2 579.2L1595.4 579.2M1642.9 580L1650.6 580M1617.5 579.2L1660.6 579.2M1684.3 582.5L1692 582.5M1682 580.8L1748.2 580.8M1787.7 582.2L1795.4 582.2M1770 579.4L1836.2 579.4M994.2 748.2L1052.8 748.2M1078.2 748.2L1105.9 748.2M1127.2 748.2L1270.4 748.2M1336.8 748.2L1379.8 748.2M1677.5 748.2L1743.7 748.2M1767 748.6L1833.2 748.6M995.5 1164.2L1054 1164.2M1077 1163L1104.7 1163M1126 1164.2L1269.2 1164.2M1339.8 1164.2L1382.8 1164.2M1437.6 1166.2L1445.3 1166.2M1404.5 1164.2L1455.3 1164.2M1475 1164.2L1502.7 1164.2M1548.1 1166.2L1555.8 1166.2M1522.8 1164.2L1588.9 1164.2M1677.5 1164.2L1743.7 1164.2M1792.6 1166.2L1808 1166.2M1767.2 1164.6L1833.4 1164.6M43.3 1449.2L51 1449.2M41 1448.2L84.1 1448.2M203.5 1449.2L246.6 1449.2M296.4 1449.4L311.7 1449.4M522.4 1450L530.4 1450M615.6 1449.4L638.7 1449.4M668.9 1448.1L676.7 1448.1M803.3 1447.8L892.6 1447.8M39.2 1915L82.3 1915M101 1915L182.6 1915M200.5 1915L243.6 1915M270 1915L535.9 1915M566.8 1916.2L574.5 1916.2M564.5 1915L784.6 1915M804.4 1915.7L893.7 1915.7M36.2 2073.2L79.3 2073.2M96.2 2073.2L177.8 2073.2M197.5 2073.2L240.6 2073.2M290.3 2075L305.8 2075M468.6 2077.5L480.1 2077.5M491.6 2076.2L514.3 2076.2M525.8 2074.2L541.3 2074.2M642.8 2092L650.5 2092M658.3 2092L666 2092"/>
<path fill="none" stroke="#000" stroke-width="1.25" d="M858.8 37.4L858.8 168.6M858.8 38L869.8 38M858.8 168L869.8 168M858.8 220.4L858.8 308.6M858.8 221L869.8 221M858.8 308L869.8 308M858.8 353.1L858.8 543.2M858.8 353.7L869.8 353.7M858.8 416.7L869.8 416.7M858.8 479.5L869.8 479.5M858.8 542.6L869.8 542.6M849.2 737.5L849.2 868.7M849.2 738.1L860.2 738.1M849.2 868.1L860.2 868.1M844.5 916.3L844.5 1004.2M844.5 916.9L855.5 916.9M844.5 1003.6L855.5 1003.6M844.5 1043L844.5 1170.1M844.5 1043.6L855.5 1043.6M844.5 1106.6L855.5 1106.6M844.5 1169.5L855.5 1169.5M1856 21.7L1856 152M1856 22.3L1867 22.3M1856 151.4L1867 151.4M1853.7 185.5L1853.7 272.8M1853.7 186.1L1864.7 186.1M1853.7 272.2L1864.7 272.2M1849.4 309.2L1849.4 499.6M1849.4 309.8L1860.4 309.8M1849.4 372.7L1860.4 372.7M1849.4 435.9L1860.4 435.9M1849.4 499L1860.4 499M1850.9 576.7L1850.9 707.3M1850.9 577.3L1861.9 577.3M1850.9 706.7L1861.9 706.7M1850.8 746.1L1850.8 1091.9M1850.8 746.7L1861.8 746.7M1850.8 833.1L1861.8 833.1M1850.8 919L1861.8 919M1850.8 1005.2L1861.8 1005.2M1850.8 1091.3L1861.8 1091.3M1853.6 1162.4L1853.6 1289.6M1853.6 1163L1864.6 1163M1853.6 1226L1864.6 1226M1853.6 1289L1864.6 1289M902.8 1446.7L902.8 1836M902.8 1447.3L913.8 1447.3M902.8 1576.8L913.8 1576.8M902.8 1706L913.8 1706M902.8 1835.4L913.8 1835.4M902 1913.2L902 2000.9M902 1913.8L913 1913.8M902 2000.3L913 2000.3M904.9 2071.6L904.9 2464.9M904.9 2072.2L915.9 2072.2M904.9 2135L915.9 2135M904.9 2197.5L915.9 2197.5M904.9 2260.6L915.9 2260.6M904.9 2323.1L915.9 2323.1M904.9 2386.2L915.9 2386.2M904.9 2464.3L915.9 2464.3"/>
<path fill="none" stroke="#CCCCCC" stroke-width="0.6" d="M1031.8 187.5L1051.2 187.5"/>
<path fill="none" stroke="#BBBBBB" stroke-width="0.7" d="M272.5 1448.6L532.8 1448.6M559.4 1448L786.8 1448M270.8 2073.5L543.5 2073.5M563.2 2073.2L791.5 2073.2M818.9 2073.3L904.9 2073.3"/>
<path fill="none" stroke="#111" stroke-width="1.2" d="M1148.8 1723L1160 1723M1148.8 1683.8L1160 1683.8M1148.8 1644.5L1160 1644.5M1148.8 1605L1160 1605M1148.8 1565.5L1160 1565.5M1183.8 1730L1183.8 1741.2M1384.2 1730L1384.2 1741.2M1584.5 1730L1584.5 1741.2M1785 1730L1785 1741.2M1148.8 2117L1160 2117M1148.8 2073.8L1160 2073.8M1148.8 2030.5L1160 2030.5M1148.8 1987L1160 1987M1148.8 1943.8L1160 1943.8M1183.8 2124.2L1183.8 2135.5M1293.2 2124.2L1293.2 2135.5M1402.5 2124.2L1402.5 2135.5M1511.5 2124.2L1511.5 2135.5M1620.5 2124.2L1620.5 2135.5M1729.5 2124.2L1729.5 2135.5"/>
<text font-size="18.2" text-anchor="middle" stroke="#000" stroke-width="0.25" transform="translate(885.1 38.0) rotate(90)">0</text>
<text font-size="18.2" text-anchor="middle" stroke="#000" stroke-width="0.25" transform="translate(885.1 168.0) rotate(90)">5000</text>
<text font-size="18.2" text-anchor="middle" stroke="#000" stroke-width="0.25" transform="translate(885.1 221.0) rotate(90)">0</text>
<text font-size="18.2" text-anchor="middle" stroke="#000" stroke-width="0.25" transform="translate(885.1 308.0) rotate(90)">20</text>
<text font-size="18.2" text-anchor="middle" stroke="#000" stroke-width="0.25" transform="translate(885.1 353.7) rotate(90)">0</text>
<text font-size="18.2" text-anchor="middle" stroke="#000" stroke-width="0.25" transform="translate(885.1 416.7) rotate(90)">100</text>
<text font-size="18.2" text-anchor="middle" stroke="#000" stroke-width="0.25" transform="translate(885.1 479.5) rotate(90)">200</text>
<text font-size="18.2" text-anchor="middle" stroke="#000" stroke-width="0.25" transform="translate(885.1 542.6) rotate(90)">300</text>
<text x="0.0" y="24.0" font-size="21" font-weight="bold" font-style="normal" text-anchor="start" fill="#231F20" stroke="#231F20" stroke-width="0.45">a</text>
<text x="93.0" y="24.0" font-size="21" font-weight="bold" font-style="normal" text-anchor="start" fill="#231F20" stroke="#231F20" stroke-width="0.45">b</text>
<text x="150.0" y="24.0" font-size="21" font-weight="bold" font-style="normal" text-anchor="start" fill="#231F20" stroke="#231F20" stroke-width="0.45">c</text>
<text x="232.0" y="24.0" font-size="21" font-weight="bold" font-style="normal" text-anchor="start" fill="#231F20" stroke="#231F20" stroke-width="0.45">d</text>
<text x="411.0" y="24.0" font-size="21" font-weight="bold" font-style="normal" text-anchor="start" fill="#231F20" stroke="#231F20" stroke-width="0.45">e</text>
<text x="475.0" y="26.0" font-size="21" font-weight="bold" font-style="normal" text-anchor="start" fill="#231F20" stroke="#231F20" stroke-width="0.45">f</text>
<text x="557.0" y="28.0" font-size="21" font-weight="bold" font-style="normal" text-anchor="start" fill="#231F20" stroke="#231F20" stroke-width="0.45">g</text>
<text x="651.0" y="28.0" font-size="21" font-weight="bold" font-style="normal" text-anchor="start" fill="#231F20" stroke="#231F20" stroke-width="0.45">h</text>
<text x="729.0" y="28.0" font-size="21" font-weight="bold" font-style="normal" text-anchor="start" fill="#231F20" stroke="#231F20" stroke-width="0.45">i</text>
<text x="806.0" y="30.0" font-size="21" font-weight="bold" font-style="normal" text-anchor="start" fill="#231F20" stroke="#231F20" stroke-width="0.45">j</text>
<text font-size="18.2" text-anchor="middle" stroke="#000" stroke-width="0.25" transform="translate(875.5 738.1) rotate(90)">0</text>
<text font-size="18.2" text-anchor="middle" stroke="#000" stroke-width="0.25" transform="translate(875.5 868.1) rotate(90)">5000</text>
<text font-size="18.2" text-anchor="middle" stroke="#000" stroke-width="0.25" transform="translate(870.8 916.9) rotate(90)">0</text>
<text font-size="18.2" text-anchor="middle" stroke="#000" stroke-width="0.25" transform="translate(870.8 1003.6) rotate(90)">20</text>
<text font-size="18.2" text-anchor="middle" stroke="#000" stroke-width="0.25" transform="translate(870.8 1043.6) rotate(90)">0</text>
<text font-size="18.2" text-anchor="middle" stroke="#000" stroke-width="0.25" transform="translate(870.8 1106.6) rotate(90)">100</text>
<text font-size="18.2" text-anchor="middle" stroke="#000" stroke-width="0.25" transform="translate(870.8 1169.5) rotate(90)">200</text>
<text x="17.0" y="718.0" font-size="21" font-weight="bold" font-style="normal" text-anchor="start" fill="#231F20" stroke="#231F20" stroke-width="0.45">k</text>
<text x="62.0" y="718.0" font-size="21" font-weight="bold" font-style="normal" text-anchor="start" fill="#231F20" stroke="#231F20" stroke-width="0.45">l</text>
<text x="143.0" y="718.0" font-size="21" font-weight="bold" font-style="normal" text-anchor="start" fill="#231F20" stroke="#231F20" stroke-width="0.45">m</text>
<text x="227.0" y="723.0" font-size="21" font-weight="bold" font-style="normal" text-anchor="start" fill="#231F20" stroke="#231F20" stroke-width="0.45">n</text>
<text x="617.0" y="724.0" font-size="21" font-weight="bold" font-style="normal" text-anchor="start" fill="#231F20" stroke="#231F20" stroke-width="0.45">o</text>
<text x="671.0" y="724.0" font-size="21" font-weight="bold" font-style="normal" text-anchor="start" fill="#231F20" stroke="#231F20" stroke-width="0.45">p</text>
<text x="721.0" y="724.0" font-size="21" font-weight="bold" font-style="normal" text-anchor="start" fill="#231F20" stroke="#231F20" stroke-width="0.45">q</text>
<text x="789.0" y="724.0" font-size="21" font-weight="bold" font-style="normal" text-anchor="start" fill="#231F20" stroke="#231F20" stroke-width="0.45">r</text>
<text font-size="18.2" text-anchor="middle" stroke="#000" stroke-width="0.25" transform="translate(1882.3 22.3) rotate(90)">0</text>
<text font-size="18.2" text-anchor="middle" stroke="#000" stroke-width="0.25" transform="translate(1882.3 151.4) rotate(90)">5000</text>
<text font-size="18.2" text-anchor="middle" stroke="#000" stroke-width="0.25" transform="translate(1880.0 186.1) rotate(90)">0</text>
<text font-size="18.2" text-anchor="middle" stroke="#000" stroke-width="0.25" transform="translate(1880.0 272.2) rotate(90)">20</text>
<text font-size="18.2" text-anchor="middle" stroke="#000" stroke-width="0.25" transform="translate(1875.7 309.8) rotate(90)">0</text>
<text font-size="18.2" text-anchor="middle" stroke="#000" stroke-width="0.25" transform="translate(1875.7 372.7) rotate(90)">100</text>
<text font-size="18.2" text-anchor="middle" stroke="#000" stroke-width="0.25" transform="translate(1875.7 435.9) rotate(90)">200</text>
<text font-size="18.2" text-anchor="middle" stroke="#000" stroke-width="0.25" transform="translate(1875.7 499.0) rotate(90)">300</text>
<text x="1029.0" y="17.0" font-size="21" font-weight="bold" font-style="normal" text-anchor="start" fill="#231F20" stroke="#231F20" stroke-width="0.45">s</text>
<text x="1075.0" y="17.0" font-size="21" font-weight="bold" font-style="normal" text-anchor="start" fill="#231F20" stroke="#231F20" stroke-width="0.45">t</text>
<text x="1110.0" y="17.0" font-size="21" font-weight="bold" font-style="normal" text-anchor="start" fill="#231F20" stroke="#231F20" stroke-width="0.45">u</text>
<text x="1179.0" y="17.0" font-size="21" font-weight="bold" font-style="normal" text-anchor="start" fill="#231F20" stroke="#231F20" stroke-width="0.45">v</text>
<text x="1628.0" y="14.0" font-size="21" font-weight="bold" font-style="normal" text-anchor="start" fill="#231F20" stroke="#231F20" stroke-width="0.45">w</text>
<text x="1701.0" y="14.0" font-size="21" font-weight="bold" font-style="normal" text-anchor="start" fill="#231F20" stroke="#231F20" stroke-width="0.45">x</text>
<text x="1767.0" y="10.5" font-size="21" font-weight="bold" font-style="normal" text-anchor="start" fill="#231F20" stroke="#231F20" stroke-width="0.45">y</text>
<text font-size="18.2" text-anchor="middle" stroke="#000" stroke-width="0.25" transform="translate(1877.2 577.3) rotate(90)">0</text>
<text font-size="18.2" text-anchor="middle" stroke="#000" stroke-width="0.25" transform="translate(1877.2 706.7) rotate(90)">5000</text>
<text font-size="18.2" text-anchor="middle" stroke="#000" stroke-width="0.25" transform="translate(1877.1 746.7) rotate(90)">0</text>
<text font-size="18.2" text-anchor="middle" stroke="#000" stroke-width="0.25" transform="translate(1877.1 833.1) rotate(90)">20</text>
<text font-size="18.2" text-anchor="middle" stroke="#000" stroke-width="0.25" transform="translate(1877.1 919.0) rotate(90)">40</text>
<text font-size="18.2" text-anchor="middle" stroke="#000" stroke-width="0.25" transform="translate(1877.1 1005.2) rotate(90)">60</text>
<text font-size="18.2" text-anchor="middle" stroke="#000" stroke-width="0.25" transform="translate(1877.1 1091.3) rotate(90)">80</text>
<text font-size="18.2" text-anchor="middle" stroke="#000" stroke-width="0.25" transform="translate(1879.9 1163.0) rotate(90)">0</text>
<text font-size="18.2" text-anchor="middle" stroke="#000" stroke-width="0.25" transform="translate(1879.9 1226.0) rotate(90)">100</text>
<text font-size="18.2" text-anchor="middle" stroke="#000" stroke-width="0.25" transform="translate(1879.9 1289.0) rotate(90)">200</text>
<text x="1638.0" y="1179.3" font-size="14.7" font-weight="normal" font-style="normal" text-anchor="middle" fill="#1a1a1a">Insuffi-</text>
<text x="1638.0" y="1198.0" font-size="14.7" font-weight="normal" font-style="normal" text-anchor="middle" fill="#1a1a1a">cient</text>
<text x="1638.0" y="1216.8" font-size="14.7" font-weight="normal" font-style="normal" text-anchor="middle" fill="#1a1a1a">cover-</text>
<text x="1638.0" y="1235.5" font-size="14.7" font-weight="normal" font-style="normal" text-anchor="middle" fill="#1a1a1a">age</text>
<text x="998.0" y="564.0" font-size="21" font-weight="bold" font-style="normal" text-anchor="start" fill="#231F20" stroke="#231F20" stroke-width="0.45">z</text>
<text x="1073.0" y="567.0" font-size="21" font-weight="bold" font-style="normal" text-anchor="start" fill="#231F20" stroke="#231F20" stroke-width="0.45">aa</text>
<text x="1126.0" y="564.0" font-size="21" font-weight="bold" font-style="normal" text-anchor="start" fill="#231F20" stroke="#231F20" stroke-width="0.45">ab</text>
<text x="1291.0" y="567.0" font-size="21" font-weight="bold" font-style="normal" text-anchor="start" fill="#231F20" stroke="#231F20" stroke-width="0.45">ac</text>
<text x="1341.0" y="567.0" font-size="21" font-weight="bold" font-style="normal" text-anchor="start" fill="#231F20" stroke="#231F20" stroke-width="0.45">ad</text>
<text x="1408.0" y="568.0" font-size="21" font-weight="bold" font-style="normal" text-anchor="start" fill="#231F20" stroke="#231F20" stroke-width="0.45">ae</text>
<text x="1474.0" y="566.0" font-size="21" font-weight="bold" font-style="normal" text-anchor="start" fill="#231F20" stroke="#231F20" stroke-width="0.45">af</text>
<text x="1525.0" y="568.0" font-size="21" font-weight="bold" font-style="normal" text-anchor="start" fill="#231F20" stroke="#231F20" stroke-width="0.45">ag</text>
<text x="1614.0" y="568.0" font-size="21" font-weight="bold" font-style="normal" text-anchor="start" fill="#231F20" stroke="#231F20" stroke-width="0.45">ah</text>
<text x="1688.0" y="570.0" font-size="21" font-weight="bold" font-style="normal" text-anchor="start" fill="#231F20" stroke="#231F20" stroke-width="0.45">ai</text>
<text x="1770.0" y="570.0" font-size="21" font-weight="bold" font-style="normal" text-anchor="start" fill="#231F20" stroke="#231F20" stroke-width="0.45">aj</text>
<text font-size="18.2" text-anchor="middle" stroke="#000" stroke-width="0.25" transform="translate(929.1 1447.3) rotate(90)">0</text>
<text font-size="18.2" text-anchor="middle" stroke="#000" stroke-width="0.25" transform="translate(929.1 1576.8) rotate(90)">5000</text>
<text font-size="18.2" text-anchor="middle" stroke="#000" stroke-width="0.25" transform="translate(929.1 1706.0) rotate(90)">10000</text>
<text font-size="18.2" text-anchor="middle" stroke="#000" stroke-width="0.25" transform="translate(929.1 1835.4) rotate(90)">15000</text>
<text font-size="18.2" text-anchor="middle" stroke="#000" stroke-width="0.25" transform="translate(928.3 1913.8) rotate(90)">0</text>
<text font-size="18.2" text-anchor="middle" stroke="#000" stroke-width="0.25" transform="translate(928.3 2000.3) rotate(90)">20</text>
<text font-size="18.2" text-anchor="middle" stroke="#000" stroke-width="0.25" transform="translate(931.2 2072.2) rotate(90)">0</text>
<text font-size="18.2" text-anchor="middle" stroke="#000" stroke-width="0.25" transform="translate(931.2 2135.0) rotate(90)">100</text>
<text font-size="18.2" text-anchor="middle" stroke="#000" stroke-width="0.25" transform="translate(931.2 2197.5) rotate(90)">200</text>
<text font-size="18.2" text-anchor="middle" stroke="#000" stroke-width="0.25" transform="translate(931.2 2260.6) rotate(90)">300</text>
<text font-size="18.2" text-anchor="middle" stroke="#000" stroke-width="0.25" transform="translate(931.2 2323.1) rotate(90)">400</text>
<text font-size="18.2" text-anchor="middle" stroke="#000" stroke-width="0.25" transform="translate(931.2 2386.2) rotate(90)">500</text>
<text font-size="18.2" text-anchor="middle" stroke="#000" stroke-width="0.25" transform="translate(931.2 2464.3) rotate(90)">600</text>
<text x="867.6" y="2093.3" font-size="14.7" font-weight="normal" font-style="normal" text-anchor="middle" fill="#1a1a1a">Insuffi-</text>
<text x="867.6" y="2111.8" font-size="14.7" font-weight="normal" font-style="normal" text-anchor="middle" fill="#1a1a1a">cient</text>
<text x="867.6" y="2130.9" font-size="14.7" font-weight="normal" font-style="normal" text-anchor="middle" fill="#1a1a1a">cover-</text>
<text x="867.6" y="2149.4" font-size="14.7" font-weight="normal" font-style="normal" text-anchor="middle" fill="#1a1a1a">age</text>
<text x="32.5" y="1436.5" font-size="21" font-weight="bold" font-style="normal" text-anchor="start" fill="#231F20" stroke="#231F20" stroke-width="0.45">ak</text>
<text x="100.0" y="1441.0" font-size="21" font-weight="bold" font-style="normal" text-anchor="start" fill="#231F20" stroke="#231F20" stroke-width="0.45">al</text>
<text x="206.0" y="1437.0" font-size="21" font-weight="bold" font-style="normal" text-anchor="start" fill="#231F20" stroke="#231F20" stroke-width="0.45">am</text>
<text x="277.5" y="1434.0" font-size="21" font-weight="bold" font-style="normal" text-anchor="start" fill="#231F20" stroke="#231F20" stroke-width="0.45">an</text>
<text x="559.5" y="1437.0" font-size="21" font-weight="bold" font-style="normal" text-anchor="start" fill="#231F20" stroke="#231F20" stroke-width="0.45">ao</text>
<text x="803.5" y="1438.0" font-size="21" font-weight="bold" font-style="normal" text-anchor="start" fill="#231F20" stroke="#231F20" stroke-width="0.45">ap</text>
<text x="1054.5" y="1436.5" font-size="21" font-weight="bold" font-style="normal" text-anchor="start" fill="#231F20" stroke="#231F20" stroke-width="0.45">aq</text>
<path d="M439.5 830.5 L462.2 806.1" stroke="#231F20" stroke-width="2.6" fill="none"/>
<path d="M471.7 795.9 L464.6 815.3 L462.2 806.1 L452.9 804.4 Z" fill="#231F20"/>
<path d="M638.7 1569.7 L613.0 1534.4" stroke="#231F20" stroke-width="2.6" fill="none"/>
<path d="M604.8 1523.1 L622.4 1533.8 L613.0 1534.4 L609.5 1543.2 Z" fill="#231F20"/>
<text x="354.4" y="843.5" font-size="21.6" font-weight="bold" font-style="italic" text-anchor="start" fill="#231F20" stroke="#231F20" stroke-width="0.55">PIK3CA</text>
<text x="354.4" y="869.9" font-size="21.6" font-weight="bold" font-style="italic" text-anchor="start" fill="#231F20" stroke="#231F20" stroke-width="0.55">E542K</text>
<text x="610.8" y="1589.9" font-size="21.9" font-weight="bold" font-style="italic" text-anchor="start" fill="#231F20" stroke="#231F20" stroke-width="0.55">AXIN2</text>
<text x="622.3" y="1615.9" font-size="21" font-weight="bold" font-style="normal" text-anchor="start" fill="#231F20" stroke="#231F20" stroke-width="0.45">loss</text>
<rect x="59.9" y="2261.2" width="13.4" height="10.6" fill="#BEBEBE" stroke="#000" stroke-width="1.1"/>
<text x="90.8" y="2272.8" font-size="18.4" font-weight="normal" font-style="normal" text-anchor="start" fill="#000" stroke="#000" stroke-width="0.25">sbs_X0</text>
<rect x="59.9" y="2283.7" width="13.4" height="10.6" fill="#EC2B2E" stroke="#000" stroke-width="1.1"/>
<text x="90.8" y="2295.3" font-size="18.4" font-weight="normal" font-style="normal" text-anchor="start" fill="#000" stroke="#000" stroke-width="0.25">SBS1</text>
<rect x="59.9" y="2306.2" width="13.4" height="10.6" fill="#3A7FBB" stroke="#000" stroke-width="1.1"/>
<text x="90.8" y="2317.8" font-size="18.4" font-weight="normal" font-style="normal" text-anchor="start" fill="#000" stroke="#000" stroke-width="0.25">SBS5</text>
<rect x="59.9" y="2328.7" width="13.4" height="10.6" fill="#4DB255" stroke="#000" stroke-width="1.1"/>
<text x="90.8" y="2340.3" font-size="18.4" font-weight="normal" font-style="normal" text-anchor="start" fill="#000" stroke="#000" stroke-width="0.25">SBS18</text>
<rect x="59.9" y="2351.2" width="13.4" height="10.6" fill="#9450A8" stroke="#000" stroke-width="1.1"/>
<text x="90.8" y="2362.8" font-size="18.4" font-weight="normal" font-style="normal" text-anchor="start" fill="#000" stroke="#000" stroke-width="0.25">SBS2</text>
<rect x="59.9" y="2373.7" width="13.4" height="10.6" fill="#F58426" stroke="#000" stroke-width="1.1"/>
<text x="90.8" y="2385.3" font-size="18.4" font-weight="normal" font-style="normal" text-anchor="start" fill="#000" stroke="#000" stroke-width="0.25">SBS13</text>
<rect x="59.9" y="2396.2" width="13.4" height="10.6" fill="#A65B2E" stroke="#000" stroke-width="1.1"/>
<text x="90.8" y="2407.8" font-size="18.4" font-weight="normal" font-style="normal" text-anchor="start" fill="#000" stroke="#000" stroke-width="0.25">SBSD</text>
<rect x="59.9" y="2418.7" width="13.4" height="10.6" fill="#EE7FB9" stroke="#000" stroke-width="1.1"/>
<text x="90.8" y="2430.3" font-size="18.4" font-weight="normal" font-style="normal" text-anchor="start" fill="#000" stroke="#000" stroke-width="0.25">SBSA</text>
<rect x="59.9" y="2441.2" width="13.4" height="10.6" fill="#919191" stroke="#000" stroke-width="1.1"/>
<text x="90.8" y="2452.8" font-size="18.4" font-weight="normal" font-style="normal" text-anchor="start" fill="#000" stroke="#000" stroke-width="0.25">SBSB</text>
<rect x="59.9" y="2463.7" width="13.4" height="10.6" fill="#62C3A3" stroke="#000" stroke-width="1.1"/>
<text x="90.8" y="2475.3" font-size="18.4" font-weight="normal" font-style="normal" text-anchor="start" fill="#000" stroke="#000" stroke-width="0.25">SBSC</text>
<rect x="59.9" y="2486.2" width="13.4" height="10.6" fill="#F68F67" stroke="#000" stroke-width="1.1"/>
<text x="90.8" y="2497.8" font-size="18.4" font-weight="normal" font-style="normal" text-anchor="start" fill="#000" stroke="#000" stroke-width="0.25">dbs_X0</text>
<rect x="59.9" y="2508.7" width="13.4" height="10.6" fill="#829DCC" stroke="#000" stroke-width="1.1"/>
<text x="90.8" y="2520.3" font-size="18.4" font-weight="normal" font-style="normal" text-anchor="start" fill="#000" stroke="#000" stroke-width="0.25">DBS2</text>
<rect x="281.7" y="2283.7" width="13.4" height="10.6" fill="#E283C1" stroke="#000" stroke-width="1.1"/>
<text x="312.5" y="2295.3" font-size="18.4" font-weight="normal" font-style="normal" text-anchor="start" fill="#000" stroke="#000" stroke-width="0.25">DBS4</text>
<rect x="281.7" y="2306.2" width="13.4" height="10.6" fill="#9FD15C" stroke="#000" stroke-width="1.1"/>
<text x="312.5" y="2317.8" font-size="18.4" font-weight="normal" font-style="normal" text-anchor="start" fill="#000" stroke="#000" stroke-width="0.25">DBS6</text>
<rect x="281.7" y="2328.7" width="13.4" height="10.6" fill="#FFD83A" stroke="#000" stroke-width="1.1"/>
<text x="312.5" y="2340.3" font-size="18.4" font-weight="normal" font-style="normal" text-anchor="start" fill="#000" stroke="#000" stroke-width="0.25">DBS9</text>
<rect x="281.7" y="2351.2" width="13.4" height="10.6" fill="#E3C18D" stroke="#000" stroke-width="1.1"/>
<text x="312.5" y="2362.8" font-size="18.4" font-weight="normal" font-style="normal" text-anchor="start" fill="#000" stroke="#000" stroke-width="0.25">DBS11</text>
<rect x="281.7" y="2373.7" width="13.4" height="10.6" fill="#ADADAD" stroke="#000" stroke-width="1.1"/>
<text x="312.5" y="2385.3" font-size="18.4" font-weight="normal" font-style="normal" text-anchor="start" fill="#000" stroke="#000" stroke-width="0.25">DBS8</text>
<rect x="281.7" y="2396.2" width="13.4" height="10.6" fill="#82D2C6" stroke="#000" stroke-width="1.1"/>
<text x="312.5" y="2407.8" font-size="18.4" font-weight="normal" font-style="normal" text-anchor="start" fill="#000" stroke="#000" stroke-width="0.25">id_X0</text>
<rect x="281.7" y="2418.7" width="13.4" height="10.6" fill="#B6B4DA" stroke="#000" stroke-width="1.1"/>
<text x="312.5" y="2430.3" font-size="18.4" font-weight="normal" font-style="normal" text-anchor="start" fill="#000" stroke="#000" stroke-width="0.25">ID1</text>
<rect x="281.7" y="2441.2" width="13.4" height="10.6" fill="#F57A6F" stroke="#000" stroke-width="1.1"/>
<text x="312.5" y="2452.8" font-size="18.4" font-weight="normal" font-style="normal" text-anchor="start" fill="#000" stroke="#000" stroke-width="0.25">ID2</text>
<rect x="281.7" y="2463.7" width="13.4" height="10.6" fill="#73ABD2" stroke="#000" stroke-width="1.1"/>
<text x="312.5" y="2475.3" font-size="18.4" font-weight="normal" font-style="normal" text-anchor="start" fill="#000" stroke="#000" stroke-width="0.25">ID5</text>
<rect x="281.7" y="2486.2" width="13.4" height="10.6" fill="#FBB067" stroke="#000" stroke-width="1.1"/>
<text x="312.5" y="2497.8" font-size="18.4" font-weight="normal" font-style="normal" text-anchor="start" fill="#000" stroke="#000" stroke-width="0.25">IDA</text>
<rect x="281.7" y="2508.7" width="13.4" height="10.6" fill="#A6D571" stroke="#000" stroke-width="1.1"/>
<text x="312.5" y="2520.3" font-size="18.4" font-weight="normal" font-style="normal" text-anchor="start" fill="#000" stroke="#000" stroke-width="0.25">IDB</text>
<rect x="1160.0" y="1543.2" width="648.2" height="186.8" fill="none" stroke="#111" stroke-width="1.2"/>
<text font-size="18" font-weight="bold" text-anchor="middle" transform="translate(1133 1723.0) rotate(-90)">0</text>
<text font-size="18" font-weight="bold" text-anchor="middle" transform="translate(1133 1683.8) rotate(-90)">500</text>
<text font-size="18" font-weight="bold" text-anchor="middle" transform="translate(1133 1605.0) rotate(-90)">1500</text>
<text x="1183.8" y="1770.3" font-size="18" font-weight="bold" font-style="normal" text-anchor="middle" fill="#000">0</text>
<text x="1384.2" y="1770.3" font-size="18" font-weight="bold" font-style="normal" text-anchor="middle" fill="#000">500</text>
<text x="1584.5" y="1770.3" font-size="18" font-weight="bold" font-style="normal" text-anchor="middle" fill="#000">1000</text>
<text x="1785.0" y="1770.3" font-size="18" font-weight="bold" font-style="normal" text-anchor="middle" fill="#000">1500</text>
<text x="1480.2" y="1491.0" font-size="21.75" font-weight="bold" font-style="normal" text-anchor="middle" fill="#000">Cumulative SBSA vs SBS1</text>
<text x="1486.9" y="1517.8" font-size="21.75" font-weight="bold" font-style="normal" text-anchor="middle" fill="#000">Clades with informative branchpoints</text>
<text font-size="18.5" font-weight="bold" text-anchor="middle" transform="translate(1087.5 1635.5) rotate(-90)">SBSA</text>
<text x="1484.0" y="1815.5" font-size="18" font-weight="bold" font-style="normal" text-anchor="middle" fill="#000">SBS1</text>
<path d="M1183.8 1723.0 L1196.2 1662.5 L1254.5 1580.0 L1467.5 1577.5" stroke="#E5312F" stroke-width="1.0" fill="none"/>
<path d="M1254.5 1580.0 L1491.8 1576.5" stroke="#E5312F" stroke-width="1.0" fill="none"/>
<path d="M1196.2 1662.5 L1275.0 1571.8 L1471.2 1550.5" stroke="#E5312F" stroke-width="1.0" fill="none"/>
<path d="M1275.0 1571.8 L1525.2 1568.2" stroke="#E5312F" stroke-width="1.0" fill="none"/>
<path d="M1183.8 1723.0 L1198.2 1695.0 L1560.5 1694.2" stroke="#2556A8" stroke-width="1.0" fill="none"/>
<path d="M1198.2 1695.0 L1608.8 1693.8" stroke="#2556A8" stroke-width="1.0" fill="none"/>
<path d="M1183.8 1723.0 L1324.5 1699.2 L1710.0 1695.8" stroke="#F08C6A" stroke-width="1.0" fill="none"/>
<path d="M1324.5 1699.2 L1725.0 1697.5" stroke="#F08C6A" stroke-width="1.0" fill="none"/>
<path d="M1183.8 1723.0 L1196.8 1722.0 L1214.5 1708.2 L1441.2 1705.0" stroke="#2E9560" stroke-width="1.0" fill="none"/>
<path d="M1214.5 1708.2 L1459.5 1701.8" stroke="#2E9560" stroke-width="1.0" fill="none"/>
<path d="M1183.8 1723.0 L1233.2 1706.8 L1499.5 1703.8" stroke="#BBBBBB" stroke-width="1.0" fill="none"/>
<path d="M1233.2 1706.8 L1519.5 1702.5" stroke="#BBBBBB" stroke-width="1.0" fill="none"/>
<circle cx="1196.2" cy="1662.5" r="3.3" fill="#E5312F"/>
<circle cx="1254.5" cy="1580.0" r="3.3" fill="#E5312F"/>
<circle cx="1275.0" cy="1571.8" r="3.3" fill="#E5312F"/>
<circle cx="1467.5" cy="1577.5" r="3.3" fill="#E5312F"/>
<circle cx="1491.8" cy="1576.5" r="3.3" fill="#E5312F"/>
<circle cx="1471.2" cy="1550.5" r="3.3" fill="#E5312F"/>
<circle cx="1525.2" cy="1568.2" r="3.3" fill="#E5312F"/>
<circle cx="1198.2" cy="1695.0" r="3.3" fill="#2556A8"/>
<circle cx="1560.5" cy="1694.2" r="3.3" fill="#2556A8"/>
<circle cx="1608.8" cy="1693.8" r="3.3" fill="#2556A8"/>
<circle cx="1324.5" cy="1699.2" r="3.3" fill="#F08C6A"/>
<circle cx="1710.0" cy="1695.8" r="3.3" fill="#F08C6A"/>
<circle cx="1725.0" cy="1697.5" r="3.3" fill="#F08C6A"/>
<circle cx="1196.8" cy="1722.0" r="3.3" fill="#2E9560"/>
<circle cx="1214.5" cy="1708.2" r="3.3" fill="#2E9560"/>
<circle cx="1441.2" cy="1705.0" r="3.3" fill="#2E9560"/>
<circle cx="1459.5" cy="1701.8" r="3.3" fill="#2E9560"/>
<circle cx="1233.2" cy="1706.8" r="3.3" fill="#BBBBBB"/>
<circle cx="1499.5" cy="1703.8" r="3.3" fill="#BBBBBB"/>
<circle cx="1519.5" cy="1702.5" r="3.3" fill="#BBBBBB"/>
<circle cx="1183.8" cy="1723.0" r="3.3" fill="#BBBBBB"/>
<circle cx="1757.0" cy="1565.0" r="3.2" fill="#BBBBBB"/>
<text x="1773.8" y="1571.8" font-size="18" font-weight="bold" font-style="normal" text-anchor="start" fill="#000">h</text>
<circle cx="1757.0" cy="1587.6" r="3.2" fill="#2E9560"/>
<text x="1773.8" y="1594.3" font-size="18" font-weight="bold" font-style="normal" text-anchor="start" fill="#000">z</text>
<circle cx="1757.0" cy="1610.2" r="3.2" fill="#2556A8"/>
<text x="1773.8" y="1616.8" font-size="18" font-weight="bold" font-style="normal" text-anchor="start" fill="#000">aa</text>
<circle cx="1757.0" cy="1632.8" r="3.2" fill="#F5A43A"/>
<text x="1773.8" y="1639.4" font-size="18" font-weight="bold" font-style="normal" text-anchor="start" fill="#000">am</text>
<circle cx="1757.0" cy="1655.4" r="3.2" fill="#E5312F"/>
<text x="1773.8" y="1662.0" font-size="18" font-weight="bold" font-style="normal" text-anchor="start" fill="#000">ao</text>
<rect x="1160.0" y="1937.0" width="648.2" height="187.2" fill="none" stroke="#111" stroke-width="1.2"/>
<text font-size="18" font-weight="bold" text-anchor="middle" transform="translate(1133 2117.0) rotate(-90)">0</text>
<text font-size="18" font-weight="bold" text-anchor="middle" transform="translate(1133 2073.8) rotate(-90)">200</text>
<text font-size="18" font-weight="bold" text-anchor="middle" transform="translate(1133 1987.0) rotate(-90)">600</text>
<text x="1183.8" y="2164.5" font-size="18" font-weight="bold" font-style="normal" text-anchor="middle" fill="#000">0</text>
<text x="1293.2" y="2164.5" font-size="18" font-weight="bold" font-style="normal" text-anchor="middle" fill="#000">200</text>
<text x="1402.5" y="2164.5" font-size="18" font-weight="bold" font-style="normal" text-anchor="middle" fill="#000">400</text>
<text x="1511.5" y="2164.5" font-size="18" font-weight="bold" font-style="normal" text-anchor="middle" fill="#000">600</text>
<text x="1620.5" y="2164.5" font-size="18" font-weight="bold" font-style="normal" text-anchor="middle" fill="#000">800</text>
<text x="1729.5" y="2164.5" font-size="18" font-weight="bold" font-style="normal" text-anchor="middle" fill="#000">1000</text>
<text x="1480.2" y="1885.0" font-size="21.75" font-weight="bold" font-style="normal" text-anchor="middle" fill="#000">Cumulative SBSB vs SBS1</text>
<text x="1486.9" y="1911.8" font-size="21.75" font-weight="bold" font-style="normal" text-anchor="middle" fill="#000">Clades with informative branchpoints</text>
<text font-size="18.5" font-weight="bold" text-anchor="middle" transform="translate(1087.5 2030.0) rotate(-90)">SBSB</text>
<text x="1484.0" y="2209.2" font-size="18" font-weight="bold" font-style="normal" text-anchor="middle" fill="#000">SBS1</text>
<path d="M1183.8 2117.0 L1203.2 2041.2 L1697.5 2038.2" stroke="#2E5FAE" stroke-width="1.0" fill="none"/>
<path d="M1203.2 2041.2 L1763.0 2033.2" stroke="#2E5FAE" stroke-width="1.0" fill="none"/>
<path d="M1183.8 2117.0 L1219.2 1994.5 L1465.8 1959.2" stroke="#000" stroke-width="1.0" fill="none"/>
<path d="M1219.2 1994.5 L1632.5 1963.0" stroke="#000" stroke-width="1.0" fill="none"/>
<circle cx="1203.2" cy="2041.2" r="3.3" fill="#2E5FAE"/>
<circle cx="1697.5" cy="2038.2" r="3.3" fill="#2E5FAE"/>
<circle cx="1763.0" cy="2033.2" r="3.3" fill="#2E5FAE"/>
<circle cx="1219.2" cy="1994.5" r="3.3" fill="#000"/>
<circle cx="1465.8" cy="1959.2" r="3.3" fill="#000"/>
<circle cx="1632.5" cy="1963.0" r="3.3" fill="#000"/>
<circle cx="1183.8" cy="2117.0" r="3.3" fill="#000"/>
<circle cx="1762.5" cy="1959.2" r="3.2" fill="#2E5FAE"/>
<text x="1779.2" y="1966.2" font-size="18" font-weight="bold" font-style="normal" text-anchor="start" fill="#000">aa</text>
<circle cx="1762.5" cy="1982.0" r="3.2" fill="#000"/>
<text x="1779.2" y="1988.8" font-size="18" font-weight="bold" font-style="normal" text-anchor="start" fill="#000">ai</text>
</svg>
</body></html>
